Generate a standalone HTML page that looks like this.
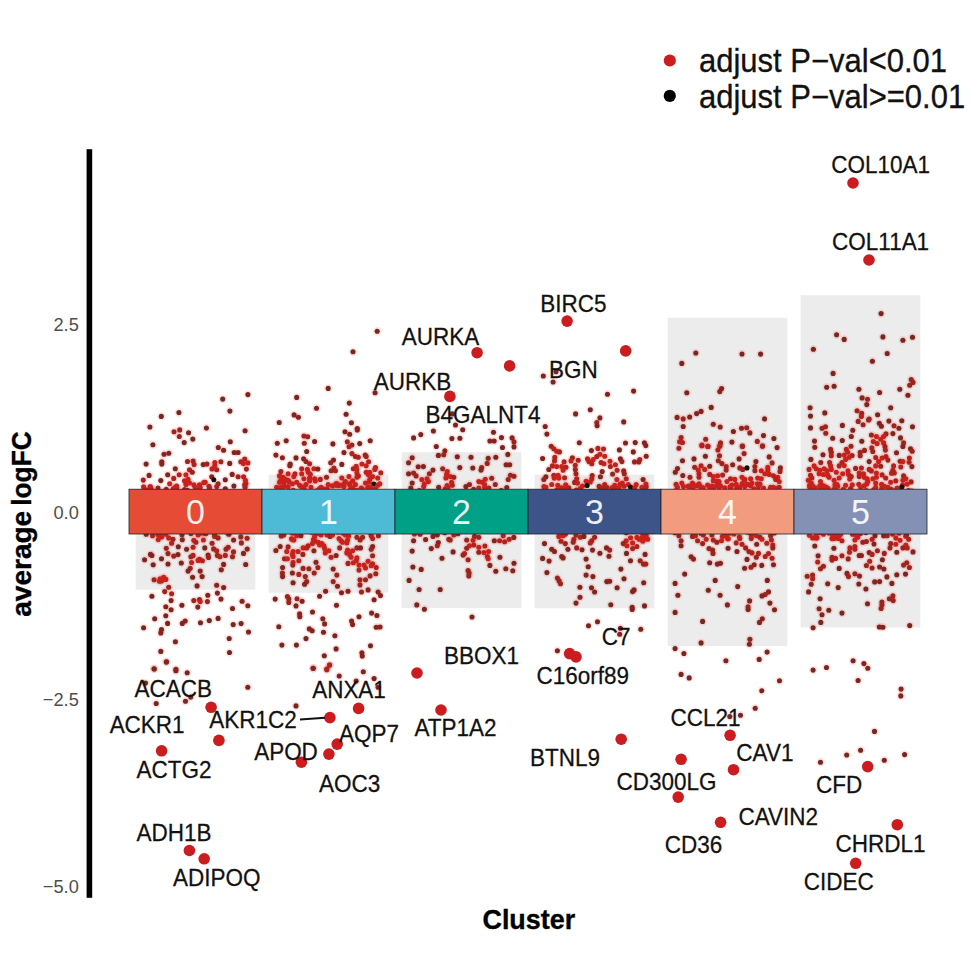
<!DOCTYPE html><html><head><meta charset="utf-8"><title>jjVolcano</title>
<style>html,body{margin:0;padding:0;background:#fff}svg{display:block}text{font-family:"Liberation Sans",sans-serif}</style></head><body>
<svg width="977" height="977" viewBox="0 0 977 977">
<rect width="977" height="977" fill="#fff"/>
<g fill="#ececec">
<rect x="135.7" y="489" width="119.6" height="100.7"/>
<rect x="268.7" y="474.5" width="119.6" height="118.2"/>
<rect x="401.7" y="452.2" width="119.6" height="155.9"/>
<rect x="534.7" y="474.7" width="119.6" height="133.5"/>
<rect x="667.7" y="317.8" width="119.6" height="328.2"/>
<rect x="800.7" y="295.2" width="119.6" height="332.2"/>
</g>
<g fill="#ee2a22" fill-opacity="0.13">
<circle cx="176.8" cy="487.8" r="4.2"/>
<circle cx="150.2" cy="486.5" r="4.2"/>
<circle cx="199.3" cy="490.3" r="4.2"/>
<circle cx="196.3" cy="490.2" r="4.2"/>
<circle cx="146.5" cy="489.8" r="4.2"/>
<circle cx="152.1" cy="490.6" r="4.2"/>
<circle cx="187.5" cy="490.2" r="4.2"/>
<circle cx="166.2" cy="489.4" r="4.2"/>
<circle cx="209.0" cy="486.2" r="4.2"/>
<circle cx="184.5" cy="489.5" r="4.2"/>
<circle cx="246.0" cy="483.6" r="4.2"/>
<circle cx="173.2" cy="488.9" r="4.2"/>
<circle cx="157.8" cy="534.5" r="4.2"/>
<circle cx="229.0" cy="534.3" r="4.2"/>
<circle cx="161.7" cy="537.0" r="4.2"/>
<circle cx="182.0" cy="534.8" r="4.2"/>
<circle cx="200.6" cy="533.3" r="4.2"/>
<circle cx="164.3" cy="532.5" r="4.2"/>
<circle cx="214.6" cy="535.1" r="4.2"/>
<circle cx="204.6" cy="533.5" r="4.2"/>
<circle cx="323.5" cy="489.0" r="4.2"/>
<circle cx="349.6" cy="484.4" r="4.2"/>
<circle cx="301.4" cy="486.8" r="4.2"/>
<circle cx="368.3" cy="489.0" r="4.2"/>
<circle cx="352.8" cy="488.6" r="4.2"/>
<circle cx="288.0" cy="480.3" r="4.2"/>
<circle cx="319.8" cy="491.1" r="4.2"/>
<circle cx="327.3" cy="488.9" r="4.2"/>
<circle cx="279.7" cy="487.9" r="4.2"/>
<circle cx="336.2" cy="485.3" r="4.2"/>
<circle cx="368.3" cy="488.8" r="4.2"/>
<circle cx="338.5" cy="485.5" r="4.2"/>
<circle cx="337.0" cy="483.8" r="4.2"/>
<circle cx="375.6" cy="489.1" r="4.2"/>
<circle cx="325.8" cy="490.5" r="4.2"/>
<circle cx="349.9" cy="490.0" r="4.2"/>
<circle cx="344.1" cy="483.8" r="4.2"/>
<circle cx="305.7" cy="490.9" r="4.2"/>
<circle cx="316.4" cy="490.8" r="4.2"/>
<circle cx="324.4" cy="490.5" r="4.2"/>
<circle cx="293.3" cy="490.2" r="4.2"/>
<circle cx="356.9" cy="490.3" r="4.2"/>
<circle cx="289.2" cy="491.1" r="4.2"/>
<circle cx="367.9" cy="487.2" r="4.2"/>
<circle cx="284.0" cy="486.4" r="4.2"/>
<circle cx="369.1" cy="489.6" r="4.2"/>
<circle cx="362.3" cy="489.1" r="4.2"/>
<circle cx="319.5" cy="488.8" r="4.2"/>
<circle cx="313.5" cy="539.5" r="4.2"/>
<circle cx="291.5" cy="538.7" r="4.2"/>
<circle cx="294.2" cy="532.3" r="4.2"/>
<circle cx="326.9" cy="534.9" r="4.2"/>
<circle cx="337.9" cy="532.0" r="4.2"/>
<circle cx="319.9" cy="532.4" r="4.2"/>
<circle cx="314.6" cy="541.0" r="4.2"/>
<circle cx="348.7" cy="536.0" r="4.2"/>
<circle cx="330.1" cy="536.4" r="4.2"/>
<circle cx="281.2" cy="536.0" r="4.2"/>
<circle cx="370.9" cy="533.5" r="4.2"/>
<circle cx="360.1" cy="540.0" r="4.2"/>
<circle cx="317.1" cy="533.5" r="4.2"/>
<circle cx="342.7" cy="533.1" r="4.2"/>
<circle cx="282.1" cy="534.5" r="4.2"/>
<circle cx="292.7" cy="533.1" r="4.2"/>
<circle cx="311.5" cy="532.1" r="4.2"/>
<circle cx="291.5" cy="532.0" r="4.2"/>
<circle cx="419.3" cy="490.6" r="4.2"/>
<circle cx="501.2" cy="490.5" r="4.2"/>
<circle cx="473.6" cy="489.4" r="4.2"/>
<circle cx="445.3" cy="488.7" r="4.2"/>
<circle cx="447.1" cy="485.6" r="4.2"/>
<circle cx="513.8" cy="537.4" r="4.2"/>
<circle cx="457.9" cy="533.7" r="4.2"/>
<circle cx="419.3" cy="532.2" r="4.2"/>
<circle cx="444.8" cy="532.7" r="4.2"/>
<circle cx="425.6" cy="539.5" r="4.2"/>
<circle cx="543.9" cy="486.5" r="4.2"/>
<circle cx="557.0" cy="489.7" r="4.2"/>
<circle cx="599.1" cy="486.4" r="4.2"/>
<circle cx="645.2" cy="490.4" r="4.2"/>
<circle cx="633.0" cy="490.2" r="4.2"/>
<circle cx="580.4" cy="488.3" r="4.2"/>
<circle cx="559.2" cy="490.5" r="4.2"/>
<circle cx="624.1" cy="486.3" r="4.2"/>
<circle cx="576.4" cy="490.0" r="4.2"/>
<circle cx="645.9" cy="484.0" r="4.2"/>
<circle cx="631.9" cy="488.7" r="4.2"/>
<circle cx="619.9" cy="484.3" r="4.2"/>
<circle cx="565.5" cy="487.5" r="4.2"/>
<circle cx="544.6" cy="490.8" r="4.2"/>
<circle cx="544.5" cy="490.6" r="4.2"/>
<circle cx="614.9" cy="488.2" r="4.2"/>
<circle cx="642.9" cy="540.9" r="4.2"/>
<circle cx="646.2" cy="535.1" r="4.2"/>
<circle cx="642.7" cy="533.9" r="4.2"/>
<circle cx="565.5" cy="534.1" r="4.2"/>
<circle cx="562.4" cy="533.6" r="4.2"/>
<circle cx="636.9" cy="537.4" r="4.2"/>
<circle cx="630.6" cy="537.8" r="4.2"/>
<circle cx="626.3" cy="532.7" r="4.2"/>
<circle cx="683.5" cy="486.5" r="4.2"/>
<circle cx="757.4" cy="483.8" r="4.2"/>
<circle cx="754.0" cy="488.7" r="4.2"/>
<circle cx="758.1" cy="490.9" r="4.2"/>
<circle cx="709.7" cy="487.8" r="4.2"/>
<circle cx="716.5" cy="481.1" r="4.2"/>
<circle cx="717.0" cy="485.1" r="4.2"/>
<circle cx="692.5" cy="489.1" r="4.2"/>
<circle cx="688.0" cy="486.2" r="4.2"/>
<circle cx="760.0" cy="484.1" r="4.2"/>
<circle cx="690.0" cy="486.0" r="4.2"/>
<circle cx="744.2" cy="481.3" r="4.2"/>
<circle cx="711.6" cy="489.2" r="4.2"/>
<circle cx="676.0" cy="490.6" r="4.2"/>
<circle cx="777.4" cy="488.3" r="4.2"/>
<circle cx="773.5" cy="487.2" r="4.2"/>
<circle cx="720.5" cy="486.0" r="4.2"/>
<circle cx="696.9" cy="485.8" r="4.2"/>
<circle cx="701.2" cy="490.4" r="4.2"/>
<circle cx="736.7" cy="488.3" r="4.2"/>
<circle cx="702.0" cy="489.3" r="4.2"/>
<circle cx="771.0" cy="490.2" r="4.2"/>
<circle cx="712.0" cy="486.1" r="4.2"/>
<circle cx="770.4" cy="489.8" r="4.2"/>
<circle cx="719.1" cy="487.1" r="4.2"/>
<circle cx="730.9" cy="488.9" r="4.2"/>
<circle cx="730.0" cy="486.9" r="4.2"/>
<circle cx="693.9" cy="490.7" r="4.2"/>
<circle cx="674.9" cy="532.7" r="4.2"/>
<circle cx="724.7" cy="534.3" r="4.2"/>
<circle cx="751.4" cy="535.3" r="4.2"/>
<circle cx="729.4" cy="533.2" r="4.2"/>
<circle cx="733.4" cy="532.4" r="4.2"/>
<circle cx="733.9" cy="533.9" r="4.2"/>
<circle cx="700.8" cy="533.2" r="4.2"/>
<circle cx="728.3" cy="538.8" r="4.2"/>
<circle cx="734.0" cy="532.6" r="4.2"/>
<circle cx="721.5" cy="540.8" r="4.2"/>
<circle cx="739.4" cy="536.8" r="4.2"/>
<circle cx="747.9" cy="532.2" r="4.2"/>
<circle cx="722.4" cy="536.5" r="4.2"/>
<circle cx="774.3" cy="532.9" r="4.2"/>
<circle cx="881.6" cy="484.4" r="4.2"/>
<circle cx="835.0" cy="484.5" r="4.2"/>
<circle cx="866.8" cy="484.0" r="4.2"/>
<circle cx="822.0" cy="488.5" r="4.2"/>
<circle cx="820.4" cy="489.7" r="4.2"/>
<circle cx="833.0" cy="490.6" r="4.2"/>
<circle cx="815.3" cy="487.8" r="4.2"/>
<circle cx="902.6" cy="485.1" r="4.2"/>
<circle cx="823.9" cy="490.0" r="4.2"/>
<circle cx="822.7" cy="485.5" r="4.2"/>
<circle cx="901.1" cy="488.4" r="4.2"/>
<circle cx="908.5" cy="490.6" r="4.2"/>
<circle cx="849.7" cy="479.1" r="4.2"/>
<circle cx="895.7" cy="490.2" r="4.2"/>
<circle cx="824.6" cy="486.8" r="4.2"/>
<circle cx="843.4" cy="489.2" r="4.2"/>
<circle cx="828.2" cy="488.5" r="4.2"/>
<circle cx="809.6" cy="485.4" r="4.2"/>
<circle cx="866.2" cy="490.5" r="4.2"/>
<circle cx="842.6" cy="490.9" r="4.2"/>
<circle cx="873.6" cy="489.7" r="4.2"/>
<circle cx="911.9" cy="491.1" r="4.2"/>
<circle cx="891.1" cy="489.3" r="4.2"/>
<circle cx="835.6" cy="490.9" r="4.2"/>
<circle cx="811.7" cy="490.6" r="4.2"/>
<circle cx="821.2" cy="488.1" r="4.2"/>
<circle cx="852.3" cy="484.9" r="4.2"/>
<circle cx="834.9" cy="487.3" r="4.2"/>
<circle cx="823.3" cy="486.7" r="4.2"/>
<circle cx="881.7" cy="488.7" r="4.2"/>
<circle cx="817.0" cy="537.7" r="4.2"/>
<circle cx="852.6" cy="534.2" r="4.2"/>
<circle cx="815.2" cy="537.3" r="4.2"/>
<circle cx="892.5" cy="534.1" r="4.2"/>
<circle cx="816.4" cy="532.9" r="4.2"/>
<circle cx="899.0" cy="533.2" r="4.2"/>
<circle cx="855.6" cy="534.7" r="4.2"/>
<circle cx="905.7" cy="536.3" r="4.2"/>
<circle cx="835.9" cy="535.4" r="4.2"/>
<circle cx="832.8" cy="535.6" r="4.2"/>
<circle cx="819.1" cy="532.7" r="4.2"/>
<circle cx="828.9" cy="533.1" r="4.2"/>
<circle cx="840.6" cy="534.3" r="4.2"/>
<circle cx="838.2" cy="538.4" r="4.2"/>
<circle cx="860.5" cy="533.6" r="4.2"/>
<circle cx="809.4" cy="535.3" r="4.2"/>
<circle cx="834.0" cy="538.5" r="4.2"/>
<circle cx="865.9" cy="532.6" r="4.2"/>
<circle cx="247.9" cy="394.6" r="4.2"/>
<circle cx="222.7" cy="399.1" r="4.2"/>
<circle cx="229.9" cy="411.1" r="4.2"/>
<circle cx="178.9" cy="412.6" r="4.2"/>
<circle cx="161.3" cy="416.4" r="4.2"/>
<circle cx="149.9" cy="427.0" r="4.2"/>
<circle cx="206.4" cy="428.0" r="4.2"/>
<circle cx="245.1" cy="430.8" r="4.2"/>
<circle cx="179.7" cy="429.9" r="4.2"/>
<circle cx="174.0" cy="431.8" r="4.2"/>
<circle cx="188.6" cy="432.8" r="4.2"/>
<circle cx="179.3" cy="436.5" r="4.2"/>
<circle cx="192.8" cy="439.1" r="4.2"/>
<circle cx="152.9" cy="444.7" r="4.2"/>
<circle cx="184.2" cy="442.6" r="4.2"/>
<circle cx="230.3" cy="441.7" r="4.2"/>
<circle cx="218.3" cy="447.5" r="4.2"/>
<circle cx="223.6" cy="450.3" r="4.2"/>
<circle cx="234.2" cy="452.5" r="4.2"/>
<circle cx="238.1" cy="452.5" r="4.2"/>
<circle cx="168.8" cy="453.3" r="4.2"/>
<circle cx="164.0" cy="454.3" r="4.2"/>
<circle cx="244.7" cy="459.1" r="4.2"/>
<circle cx="240.8" cy="461.8" r="4.2"/>
<circle cx="247.9" cy="462.9" r="4.2"/>
<circle cx="243.4" cy="463.6" r="4.2"/>
<circle cx="187.5" cy="461.5" r="4.2"/>
<circle cx="193.1" cy="461.1" r="4.2"/>
<circle cx="194.1" cy="464.6" r="4.2"/>
<circle cx="203.2" cy="464.6" r="4.2"/>
<circle cx="207.0" cy="464.1" r="4.2"/>
<circle cx="214.8" cy="462.5" r="4.2"/>
<circle cx="220.9" cy="461.8" r="4.2"/>
<circle cx="229.7" cy="463.4" r="4.2"/>
<circle cx="146.1" cy="464.1" r="4.2"/>
<circle cx="161.8" cy="461.8" r="4.2"/>
<circle cx="161.8" cy="464.1" r="4.2"/>
<circle cx="175.3" cy="468.7" r="4.2"/>
<circle cx="212.0" cy="468.9" r="4.2"/>
<circle cx="216.7" cy="469.7" r="4.2"/>
<circle cx="214.8" cy="465.8" r="4.2"/>
<circle cx="189.5" cy="469.7" r="4.2"/>
<circle cx="192.3" cy="472.2" r="4.2"/>
<circle cx="246.4" cy="469.1" r="4.2"/>
<circle cx="149.1" cy="475.4" r="4.2"/>
<circle cx="167.7" cy="474.8" r="4.2"/>
<circle cx="179.2" cy="474.8" r="4.2"/>
<circle cx="185.9" cy="474.7" r="4.2"/>
<circle cx="232.2" cy="474.4" r="4.2"/>
<circle cx="238.1" cy="476.8" r="4.2"/>
<circle cx="243.6" cy="476.8" r="4.2"/>
<circle cx="211.7" cy="476.8" r="4.2"/>
<circle cx="225.3" cy="479.8" r="4.2"/>
<circle cx="245.4" cy="480.4" r="4.2"/>
<circle cx="143.3" cy="480.1" r="4.2"/>
<circle cx="160.8" cy="480.6" r="4.2"/>
<circle cx="173.7" cy="478.4" r="4.2"/>
<circle cx="169.7" cy="483.7" r="4.2"/>
<circle cx="184.5" cy="480.8" r="4.2"/>
<circle cx="188.1" cy="479.4" r="4.2"/>
<circle cx="189.5" cy="483.0" r="4.2"/>
<circle cx="193.8" cy="484.7" r="4.2"/>
<circle cx="199.5" cy="484.7" r="4.2"/>
<circle cx="203.8" cy="482.6" r="4.2"/>
<circle cx="205.2" cy="482.3" r="4.2"/>
<circle cx="218.1" cy="483.7" r="4.2"/>
<circle cx="216.7" cy="486.6" r="4.2"/>
<circle cx="233.9" cy="486.1" r="4.2"/>
<circle cx="244.7" cy="484.7" r="4.2"/>
<circle cx="245.1" cy="487.3" r="4.2"/>
<circle cx="143.6" cy="486.9" r="4.2"/>
<circle cx="150.8" cy="488.0" r="4.2"/>
<circle cx="158.0" cy="488.0" r="4.2"/>
<circle cx="176.6" cy="486.1" r="4.2"/>
<circle cx="175.2" cy="487.3" r="4.2"/>
<circle cx="185.9" cy="484.4" r="4.2"/>
<circle cx="209.5" cy="488.0" r="4.2"/>
<circle cx="225.3" cy="488.7" r="4.2"/>
<circle cx="195.2" cy="487.3" r="4.2"/>
<circle cx="200.2" cy="487.3" r="4.2"/>
<circle cx="146.2" cy="534.3" r="4.2"/>
<circle cx="152.5" cy="535.7" r="4.2"/>
<circle cx="160.1" cy="534.7" r="4.2"/>
<circle cx="165.8" cy="534.3" r="4.2"/>
<circle cx="190.9" cy="533.6" r="4.2"/>
<circle cx="198.1" cy="535.0" r="4.2"/>
<circle cx="206.0" cy="533.6" r="4.2"/>
<circle cx="214.6" cy="536.4" r="4.2"/>
<circle cx="218.1" cy="537.9" r="4.2"/>
<circle cx="228.2" cy="533.6" r="4.2"/>
<circle cx="240.8" cy="536.9" r="4.2"/>
<circle cx="247.1" cy="538.2" r="4.2"/>
<circle cx="158.2" cy="539.6" r="4.2"/>
<circle cx="168.7" cy="537.9" r="4.2"/>
<circle cx="173.0" cy="539.3" r="4.2"/>
<circle cx="171.6" cy="543.2" r="4.2"/>
<circle cx="182.3" cy="539.7" r="4.2"/>
<circle cx="193.8" cy="540.3" r="4.2"/>
<circle cx="195.9" cy="542.2" r="4.2"/>
<circle cx="203.4" cy="540.0" r="4.2"/>
<circle cx="212.1" cy="543.2" r="4.2"/>
<circle cx="233.6" cy="540.0" r="4.2"/>
<circle cx="241.4" cy="542.9" r="4.2"/>
<circle cx="166.3" cy="548.2" r="4.2"/>
<circle cx="178.3" cy="546.8" r="4.2"/>
<circle cx="186.6" cy="549.3" r="4.2"/>
<circle cx="193.1" cy="547.2" r="4.2"/>
<circle cx="204.8" cy="547.9" r="4.2"/>
<circle cx="213.6" cy="548.9" r="4.2"/>
<circle cx="216.7" cy="550.8" r="4.2"/>
<circle cx="226.0" cy="549.3" r="4.2"/>
<circle cx="228.2" cy="547.2" r="4.2"/>
<circle cx="233.5" cy="551.9" r="4.2"/>
<circle cx="247.2" cy="549.1" r="4.2"/>
<circle cx="150.5" cy="554.4" r="4.2"/>
<circle cx="151.9" cy="555.5" r="4.2"/>
<circle cx="168.0" cy="553.6" r="4.2"/>
<circle cx="173.7" cy="556.1" r="4.2"/>
<circle cx="178.0" cy="554.6" r="4.2"/>
<circle cx="190.9" cy="556.8" r="4.2"/>
<circle cx="193.1" cy="555.4" r="4.2"/>
<circle cx="208.1" cy="555.1" r="4.2"/>
<circle cx="208.5" cy="557.5" r="4.2"/>
<circle cx="217.4" cy="555.4" r="4.2"/>
<circle cx="220.0" cy="556.8" r="4.2"/>
<circle cx="225.3" cy="555.4" r="4.2"/>
<circle cx="232.5" cy="556.8" r="4.2"/>
<circle cx="243.5" cy="553.4" r="4.2"/>
<circle cx="161.5" cy="558.7" r="4.2"/>
<circle cx="144.6" cy="559.8" r="4.2"/>
<circle cx="199.5" cy="559.4" r="4.2"/>
<circle cx="202.4" cy="560.8" r="4.2"/>
<circle cx="198.1" cy="560.4" r="4.2"/>
<circle cx="153.2" cy="564.8" r="4.2"/>
<circle cx="168.0" cy="564.0" r="4.2"/>
<circle cx="181.3" cy="563.0" r="4.2"/>
<circle cx="191.6" cy="562.5" r="4.2"/>
<circle cx="223.6" cy="564.4" r="4.2"/>
<circle cx="245.7" cy="564.5" r="4.2"/>
<circle cx="190.2" cy="568.3" r="4.2"/>
<circle cx="188.1" cy="571.1" r="4.2"/>
<circle cx="200.2" cy="571.1" r="4.2"/>
<circle cx="221.3" cy="569.7" r="4.2"/>
<circle cx="192.6" cy="577.3" r="4.2"/>
<circle cx="202.1" cy="576.6" r="4.2"/>
<circle cx="154.1" cy="579.7" r="4.2"/>
<circle cx="160.1" cy="578.7" r="4.2"/>
<circle cx="163.7" cy="577.3" r="4.2"/>
<circle cx="165.8" cy="579.4" r="4.2"/>
<circle cx="161.5" cy="580.9" r="4.2"/>
<circle cx="159.4" cy="581.3" r="4.2"/>
<circle cx="197.1" cy="585.9" r="4.2"/>
<circle cx="216.7" cy="585.2" r="4.2"/>
<circle cx="223.6" cy="587.6" r="4.2"/>
<circle cx="168.7" cy="587.3" r="4.2"/>
<circle cx="164.7" cy="591.6" r="4.2"/>
<circle cx="171.6" cy="593.8" r="4.2"/>
<circle cx="217.4" cy="593.1" r="4.2"/>
<circle cx="151.9" cy="596.3" r="4.2"/>
<circle cx="207.8" cy="595.2" r="4.2"/>
<circle cx="171.1" cy="600.6" r="4.2"/>
<circle cx="193.8" cy="600.6" r="4.2"/>
<circle cx="199.5" cy="599.5" r="4.2"/>
<circle cx="200.2" cy="601.6" r="4.2"/>
<circle cx="207.4" cy="601.6" r="4.2"/>
<circle cx="221.0" cy="599.1" r="4.2"/>
<circle cx="242.1" cy="601.2" r="4.2"/>
<circle cx="165.8" cy="606.7" r="4.2"/>
<circle cx="181.9" cy="605.2" r="4.2"/>
<circle cx="197.8" cy="607.1" r="4.2"/>
<circle cx="247.8" cy="605.7" r="4.2"/>
<circle cx="232.5" cy="608.5" r="4.2"/>
<circle cx="171.1" cy="609.8" r="4.2"/>
<circle cx="165.8" cy="615.7" r="4.2"/>
<circle cx="154.7" cy="618.8" r="4.2"/>
<circle cx="218.1" cy="618.4" r="4.2"/>
<circle cx="167.6" cy="623.4" r="4.2"/>
<circle cx="209.3" cy="620.6" r="4.2"/>
<circle cx="200.5" cy="622.7" r="4.2"/>
<circle cx="185.2" cy="621.0" r="4.2"/>
<circle cx="182.3" cy="623.4" r="4.2"/>
<circle cx="233.2" cy="624.6" r="4.2"/>
<circle cx="241.1" cy="623.6" r="4.2"/>
<circle cx="143.6" cy="627.7" r="4.2"/>
<circle cx="161.5" cy="629.6" r="4.2"/>
<circle cx="160.8" cy="632.9" r="4.2"/>
<circle cx="248.5" cy="632.0" r="4.2"/>
<circle cx="229.2" cy="638.5" r="4.2"/>
<circle cx="175.4" cy="641.8" r="4.2"/>
<circle cx="160.8" cy="651.4" r="4.2"/>
<circle cx="229.5" cy="652.5" r="4.2"/>
<circle cx="166.6" cy="661.8" r="4.2"/>
<circle cx="154.1" cy="668.7" r="4.2"/>
<circle cx="175.9" cy="669.3" r="4.2"/>
<circle cx="166.3" cy="662.1" r="4.2"/>
<circle cx="154.2" cy="669.0" r="4.2"/>
<circle cx="175.9" cy="670.8" r="4.2"/>
<circle cx="187.2" cy="672.7" r="4.2"/>
<circle cx="145.5" cy="683.1" r="4.2"/>
<circle cx="247.8" cy="687.3" r="4.2"/>
<circle cx="190.7" cy="697.1" r="4.2"/>
<circle cx="185.5" cy="701.2" r="4.2"/>
<circle cx="156.2" cy="703.5" r="4.2"/>
<circle cx="377.2" cy="331.2" r="4.2"/>
<circle cx="353.0" cy="351.8" r="4.2"/>
<circle cx="328.2" cy="388.4" r="4.2"/>
<circle cx="375.1" cy="392.8" r="4.2"/>
<circle cx="296.7" cy="397.4" r="4.2"/>
<circle cx="349.3" cy="403.1" r="4.2"/>
<circle cx="316.5" cy="408.2" r="4.2"/>
<circle cx="346.1" cy="414.2" r="4.2"/>
<circle cx="294.1" cy="414.9" r="4.2"/>
<circle cx="298.4" cy="417.2" r="4.2"/>
<circle cx="279.2" cy="422.5" r="4.2"/>
<circle cx="351.4" cy="422.8" r="4.2"/>
<circle cx="357.3" cy="428.6" r="4.2"/>
<circle cx="345.0" cy="431.7" r="4.2"/>
<circle cx="349.7" cy="434.3" r="4.2"/>
<circle cx="357.3" cy="430.0" r="4.2"/>
<circle cx="303.9" cy="436.0" r="4.2"/>
<circle cx="307.7" cy="436.7" r="4.2"/>
<circle cx="286.2" cy="440.7" r="4.2"/>
<circle cx="314.6" cy="441.5" r="4.2"/>
<circle cx="370.2" cy="440.7" r="4.2"/>
<circle cx="277.3" cy="443.3" r="4.2"/>
<circle cx="304.3" cy="443.3" r="4.2"/>
<circle cx="332.9" cy="443.9" r="4.2"/>
<circle cx="347.3" cy="441.8" r="4.2"/>
<circle cx="359.7" cy="443.6" r="4.2"/>
<circle cx="351.9" cy="445.0" r="4.2"/>
<circle cx="349.0" cy="446.8" r="4.2"/>
<circle cx="306.7" cy="451.5" r="4.2"/>
<circle cx="344.0" cy="452.6" r="4.2"/>
<circle cx="351.9" cy="453.6" r="4.2"/>
<circle cx="275.9" cy="455.1" r="4.2"/>
<circle cx="282.4" cy="457.7" r="4.2"/>
<circle cx="296.0" cy="457.9" r="4.2"/>
<circle cx="303.6" cy="458.7" r="4.2"/>
<circle cx="355.4" cy="456.5" r="4.2"/>
<circle cx="358.3" cy="457.2" r="4.2"/>
<circle cx="365.2" cy="455.1" r="4.2"/>
<circle cx="366.2" cy="456.5" r="4.2"/>
<circle cx="333.5" cy="460.1" r="4.2"/>
<circle cx="330.7" cy="462.7" r="4.2"/>
<circle cx="306.0" cy="461.5" r="4.2"/>
<circle cx="309.6" cy="463.7" r="4.2"/>
<circle cx="290.2" cy="464.0" r="4.2"/>
<circle cx="289.8" cy="465.8" r="4.2"/>
<circle cx="341.8" cy="464.4" r="4.2"/>
<circle cx="368.6" cy="461.8" r="4.2"/>
<circle cx="361.9" cy="464.0" r="4.2"/>
<circle cx="366.2" cy="465.8" r="4.2"/>
<circle cx="356.2" cy="466.3" r="4.2"/>
<circle cx="301.7" cy="468.7" r="4.2"/>
<circle cx="307.4" cy="469.4" r="4.2"/>
<circle cx="313.9" cy="468.7" r="4.2"/>
<circle cx="317.9" cy="469.0" r="4.2"/>
<circle cx="333.9" cy="468.0" r="4.2"/>
<circle cx="331.1" cy="470.8" r="4.2"/>
<circle cx="335.4" cy="470.8" r="4.2"/>
<circle cx="353.3" cy="468.7" r="4.2"/>
<circle cx="356.9" cy="469.4" r="4.2"/>
<circle cx="375.5" cy="467.5" r="4.2"/>
<circle cx="374.8" cy="469.4" r="4.2"/>
<circle cx="280.9" cy="471.6" r="4.2"/>
<circle cx="288.1" cy="473.7" r="4.2"/>
<circle cx="295.0" cy="473.7" r="4.2"/>
<circle cx="301.7" cy="473.7" r="4.2"/>
<circle cx="308.2" cy="472.3" r="4.2"/>
<circle cx="310.3" cy="474.4" r="4.2"/>
<circle cx="366.2" cy="472.3" r="4.2"/>
<circle cx="369.8" cy="472.3" r="4.2"/>
<circle cx="368.3" cy="474.4" r="4.2"/>
<circle cx="380.8" cy="472.7" r="4.2"/>
<circle cx="356.9" cy="473.0" r="4.2"/>
<circle cx="279.5" cy="475.9" r="4.2"/>
<circle cx="283.1" cy="477.3" r="4.2"/>
<circle cx="285.2" cy="479.4" r="4.2"/>
<circle cx="293.8" cy="476.6" r="4.2"/>
<circle cx="303.9" cy="478.7" r="4.2"/>
<circle cx="309.6" cy="478.0" r="4.2"/>
<circle cx="314.6" cy="478.7" r="4.2"/>
<circle cx="320.3" cy="479.4" r="4.2"/>
<circle cx="326.5" cy="477.3" r="4.2"/>
<circle cx="341.8" cy="478.0" r="4.2"/>
<circle cx="349.0" cy="476.6" r="4.2"/>
<circle cx="356.9" cy="477.3" r="4.2"/>
<circle cx="358.3" cy="475.9" r="4.2"/>
<circle cx="372.6" cy="476.6" r="4.2"/>
<circle cx="377.7" cy="478.0" r="4.2"/>
<circle cx="369.8" cy="479.4" r="4.2"/>
<circle cx="280.9" cy="480.2" r="4.2"/>
<circle cx="279.5" cy="482.3" r="4.2"/>
<circle cx="283.8" cy="483.0" r="4.2"/>
<circle cx="288.8" cy="481.6" r="4.2"/>
<circle cx="292.4" cy="483.7" r="4.2"/>
<circle cx="296.7" cy="482.3" r="4.2"/>
<circle cx="299.6" cy="485.2" r="4.2"/>
<circle cx="306.0" cy="484.5" r="4.2"/>
<circle cx="309.6" cy="480.9" r="4.2"/>
<circle cx="315.3" cy="480.9" r="4.2"/>
<circle cx="328.2" cy="484.5" r="4.2"/>
<circle cx="332.5" cy="485.9" r="4.2"/>
<circle cx="336.1" cy="483.7" r="4.2"/>
<circle cx="340.4" cy="485.2" r="4.2"/>
<circle cx="345.4" cy="481.6" r="4.2"/>
<circle cx="349.7" cy="483.7" r="4.2"/>
<circle cx="352.6" cy="480.9" r="4.2"/>
<circle cx="355.4" cy="484.5" r="4.2"/>
<circle cx="365.5" cy="483.0" r="4.2"/>
<circle cx="369.1" cy="482.3" r="4.2"/>
<circle cx="377.7" cy="485.2" r="4.2"/>
<circle cx="379.8" cy="483.7" r="4.2"/>
<circle cx="276.6" cy="487.3" r="4.2"/>
<circle cx="281.6" cy="487.3" r="4.2"/>
<circle cx="288.1" cy="486.6" r="4.2"/>
<circle cx="303.9" cy="487.3" r="4.2"/>
<circle cx="311.0" cy="487.3" r="4.2"/>
<circle cx="321.1" cy="487.3" r="4.2"/>
<circle cx="344.0" cy="486.6" r="4.2"/>
<circle cx="351.1" cy="487.3" r="4.2"/>
<circle cx="361.2" cy="488.0" r="4.2"/>
<circle cx="371.2" cy="487.3" r="4.2"/>
<circle cx="283.8" cy="535.0" r="4.2"/>
<circle cx="296.7" cy="535.7" r="4.2"/>
<circle cx="301.0" cy="535.7" r="4.2"/>
<circle cx="314.6" cy="536.4" r="4.2"/>
<circle cx="321.1" cy="535.0" r="4.2"/>
<circle cx="332.5" cy="535.0" r="4.2"/>
<circle cx="345.4" cy="535.0" r="4.2"/>
<circle cx="356.9" cy="537.2" r="4.2"/>
<circle cx="362.6" cy="537.2" r="4.2"/>
<circle cx="371.2" cy="535.7" r="4.2"/>
<circle cx="378.4" cy="535.7" r="4.2"/>
<circle cx="292.4" cy="539.3" r="4.2"/>
<circle cx="293.8" cy="540.0" r="4.2"/>
<circle cx="339.0" cy="538.6" r="4.2"/>
<circle cx="341.1" cy="540.7" r="4.2"/>
<circle cx="347.6" cy="540.0" r="4.2"/>
<circle cx="372.6" cy="538.6" r="4.2"/>
<circle cx="314.6" cy="540.7" r="4.2"/>
<circle cx="318.2" cy="542.2" r="4.2"/>
<circle cx="321.8" cy="543.6" r="4.2"/>
<circle cx="323.9" cy="545.8" r="4.2"/>
<circle cx="319.6" cy="545.0" r="4.2"/>
<circle cx="312.5" cy="543.6" r="4.2"/>
<circle cx="308.2" cy="545.8" r="4.2"/>
<circle cx="280.2" cy="546.5" r="4.2"/>
<circle cx="288.1" cy="546.9" r="4.2"/>
<circle cx="346.8" cy="542.9" r="4.2"/>
<circle cx="342.5" cy="542.2" r="4.2"/>
<circle cx="303.1" cy="547.9" r="4.2"/>
<circle cx="306.7" cy="547.9" r="4.2"/>
<circle cx="339.7" cy="547.9" r="4.2"/>
<circle cx="356.9" cy="547.9" r="4.2"/>
<circle cx="360.5" cy="547.9" r="4.2"/>
<circle cx="372.6" cy="546.5" r="4.2"/>
<circle cx="371.2" cy="549.3" r="4.2"/>
<circle cx="275.9" cy="550.5" r="4.2"/>
<circle cx="286.7" cy="551.5" r="4.2"/>
<circle cx="293.1" cy="551.5" r="4.2"/>
<circle cx="298.1" cy="551.5" r="4.2"/>
<circle cx="313.9" cy="550.8" r="4.2"/>
<circle cx="324.6" cy="548.6" r="4.2"/>
<circle cx="328.9" cy="550.8" r="4.2"/>
<circle cx="325.3" cy="552.9" r="4.2"/>
<circle cx="347.6" cy="550.1" r="4.2"/>
<circle cx="352.6" cy="550.8" r="4.2"/>
<circle cx="346.8" cy="552.9" r="4.2"/>
<circle cx="349.7" cy="554.4" r="4.2"/>
<circle cx="292.4" cy="554.4" r="4.2"/>
<circle cx="293.1" cy="556.5" r="4.2"/>
<circle cx="302.9" cy="554.4" r="4.2"/>
<circle cx="336.1" cy="555.5" r="4.2"/>
<circle cx="331.1" cy="557.2" r="4.2"/>
<circle cx="372.6" cy="555.8" r="4.2"/>
<circle cx="284.5" cy="558.7" r="4.2"/>
<circle cx="287.4" cy="558.7" r="4.2"/>
<circle cx="351.1" cy="557.2" r="4.2"/>
<circle cx="356.9" cy="557.9" r="4.2"/>
<circle cx="356.2" cy="560.8" r="4.2"/>
<circle cx="298.8" cy="560.8" r="4.2"/>
<circle cx="293.1" cy="562.2" r="4.2"/>
<circle cx="292.8" cy="565.1" r="4.2"/>
<circle cx="316.0" cy="562.2" r="4.2"/>
<circle cx="348.0" cy="563.4" r="4.2"/>
<circle cx="353.3" cy="562.7" r="4.2"/>
<circle cx="368.1" cy="561.2" r="4.2"/>
<circle cx="372.6" cy="563.7" r="4.2"/>
<circle cx="359.0" cy="565.1" r="4.2"/>
<circle cx="364.0" cy="565.1" r="4.2"/>
<circle cx="371.2" cy="565.8" r="4.2"/>
<circle cx="376.2" cy="567.5" r="4.2"/>
<circle cx="282.6" cy="567.5" r="4.2"/>
<circle cx="303.1" cy="568.4" r="4.2"/>
<circle cx="308.9" cy="568.7" r="4.2"/>
<circle cx="317.9" cy="567.5" r="4.2"/>
<circle cx="333.2" cy="569.0" r="4.2"/>
<circle cx="359.0" cy="570.1" r="4.2"/>
<circle cx="365.5" cy="568.0" r="4.2"/>
<circle cx="282.4" cy="573.0" r="4.2"/>
<circle cx="292.4" cy="573.0" r="4.2"/>
<circle cx="298.8" cy="574.4" r="4.2"/>
<circle cx="314.2" cy="573.0" r="4.2"/>
<circle cx="375.8" cy="573.7" r="4.2"/>
<circle cx="336.8" cy="575.1" r="4.2"/>
<circle cx="305.3" cy="576.6" r="4.2"/>
<circle cx="282.6" cy="576.6" r="4.2"/>
<circle cx="370.1" cy="575.9" r="4.2"/>
<circle cx="360.0" cy="579.7" r="4.2"/>
<circle cx="365.5" cy="579.7" r="4.2"/>
<circle cx="293.1" cy="582.7" r="4.2"/>
<circle cx="306.7" cy="581.6" r="4.2"/>
<circle cx="304.6" cy="584.2" r="4.2"/>
<circle cx="333.2" cy="581.6" r="4.2"/>
<circle cx="360.0" cy="584.9" r="4.2"/>
<circle cx="337.5" cy="586.3" r="4.2"/>
<circle cx="325.6" cy="591.2" r="4.2"/>
<circle cx="348.0" cy="591.3" r="4.2"/>
<circle cx="341.5" cy="592.8" r="4.2"/>
<circle cx="361.5" cy="592.0" r="4.2"/>
<circle cx="368.1" cy="589.9" r="4.2"/>
<circle cx="378.1" cy="592.0" r="4.2"/>
<circle cx="380.5" cy="595.6" r="4.2"/>
<circle cx="319.6" cy="596.2" r="4.2"/>
<circle cx="287.4" cy="596.6" r="4.2"/>
<circle cx="288.8" cy="598.8" r="4.2"/>
<circle cx="275.2" cy="599.1" r="4.2"/>
<circle cx="297.0" cy="598.8" r="4.2"/>
<circle cx="302.1" cy="601.2" r="4.2"/>
<circle cx="288.8" cy="602.4" r="4.2"/>
<circle cx="374.1" cy="599.8" r="4.2"/>
<circle cx="296.0" cy="605.9" r="4.2"/>
<circle cx="336.5" cy="605.2" r="4.2"/>
<circle cx="312.5" cy="612.0" r="4.2"/>
<circle cx="299.6" cy="613.8" r="4.2"/>
<circle cx="299.8" cy="616.7" r="4.2"/>
<circle cx="371.6" cy="613.1" r="4.2"/>
<circle cx="376.9" cy="615.5" r="4.2"/>
<circle cx="359.0" cy="616.7" r="4.2"/>
<circle cx="322.8" cy="618.8" r="4.2"/>
<circle cx="324.6" cy="623.9" r="4.2"/>
<circle cx="351.6" cy="621.0" r="4.2"/>
<circle cx="352.6" cy="624.6" r="4.2"/>
<circle cx="278.8" cy="626.7" r="4.2"/>
<circle cx="376.2" cy="627.2" r="4.2"/>
<circle cx="380.1" cy="627.0" r="4.2"/>
<circle cx="309.3" cy="628.9" r="4.2"/>
<circle cx="312.2" cy="630.7" r="4.2"/>
<circle cx="323.5" cy="632.2" r="4.2"/>
<circle cx="334.9" cy="635.8" r="4.2"/>
<circle cx="306.0" cy="638.6" r="4.2"/>
<circle cx="281.9" cy="645.1" r="4.2"/>
<circle cx="296.4" cy="645.1" r="4.2"/>
<circle cx="370.5" cy="645.8" r="4.2"/>
<circle cx="336.1" cy="648.9" r="4.2"/>
<circle cx="361.9" cy="652.8" r="4.2"/>
<circle cx="362.3" cy="656.1" r="4.2"/>
<circle cx="324.3" cy="655.8" r="4.2"/>
<circle cx="329.6" cy="665.1" r="4.2"/>
<circle cx="313.2" cy="668.3" r="4.2"/>
<circle cx="326.8" cy="669.0" r="4.2"/>
<circle cx="313.2" cy="668.3" r="4.2"/>
<circle cx="329.6" cy="665.0" r="4.2"/>
<circle cx="326.8" cy="669.7" r="4.2"/>
<circle cx="339.2" cy="676.0" r="4.2"/>
<circle cx="363.3" cy="671.8" r="4.2"/>
<circle cx="374.1" cy="678.6" r="4.2"/>
<circle cx="356.2" cy="681.1" r="4.2"/>
<circle cx="378.1" cy="687.2" r="4.2"/>
<circle cx="296.0" cy="705.9" r="4.2"/>
<circle cx="452.3" cy="413.9" r="4.2"/>
<circle cx="455.5" cy="425.0" r="4.2"/>
<circle cx="462.7" cy="429.7" r="4.2"/>
<circle cx="433.4" cy="431.0" r="4.2"/>
<circle cx="493.5" cy="432.2" r="4.2"/>
<circle cx="420.8" cy="434.6" r="4.2"/>
<circle cx="413.6" cy="437.9" r="4.2"/>
<circle cx="451.9" cy="438.6" r="4.2"/>
<circle cx="459.9" cy="438.3" r="4.2"/>
<circle cx="501.5" cy="437.6" r="4.2"/>
<circle cx="512.1" cy="437.9" r="4.2"/>
<circle cx="489.9" cy="441.0" r="4.2"/>
<circle cx="494.2" cy="441.0" r="4.2"/>
<circle cx="514.0" cy="441.9" r="4.2"/>
<circle cx="436.3" cy="446.5" r="4.2"/>
<circle cx="502.5" cy="447.5" r="4.2"/>
<circle cx="514.0" cy="446.9" r="4.2"/>
<circle cx="444.9" cy="450.8" r="4.2"/>
<circle cx="443.7" cy="454.8" r="4.2"/>
<circle cx="438.4" cy="455.4" r="4.2"/>
<circle cx="507.9" cy="454.4" r="4.2"/>
<circle cx="412.2" cy="457.7" r="4.2"/>
<circle cx="457.3" cy="456.8" r="4.2"/>
<circle cx="471.0" cy="457.2" r="4.2"/>
<circle cx="488.2" cy="458.2" r="4.2"/>
<circle cx="495.8" cy="457.2" r="4.2"/>
<circle cx="408.6" cy="462.7" r="4.2"/>
<circle cx="487.2" cy="463.4" r="4.2"/>
<circle cx="506.1" cy="464.7" r="4.2"/>
<circle cx="509.7" cy="464.8" r="4.2"/>
<circle cx="418.2" cy="466.8" r="4.2"/>
<circle cx="423.4" cy="466.6" r="4.2"/>
<circle cx="459.8" cy="467.6" r="4.2"/>
<circle cx="472.8" cy="468.0" r="4.2"/>
<circle cx="481.7" cy="467.6" r="4.2"/>
<circle cx="481.0" cy="470.1" r="4.2"/>
<circle cx="442.7" cy="468.7" r="4.2"/>
<circle cx="433.0" cy="470.1" r="4.2"/>
<circle cx="447.3" cy="471.6" r="4.2"/>
<circle cx="408.6" cy="473.7" r="4.2"/>
<circle cx="413.6" cy="473.0" r="4.2"/>
<circle cx="416.1" cy="475.9" r="4.2"/>
<circle cx="429.4" cy="473.7" r="4.2"/>
<circle cx="446.6" cy="474.4" r="4.2"/>
<circle cx="450.2" cy="476.6" r="4.2"/>
<circle cx="453.8" cy="477.3" r="4.2"/>
<circle cx="445.9" cy="478.0" r="4.2"/>
<circle cx="510.4" cy="475.2" r="4.2"/>
<circle cx="514.0" cy="476.3" r="4.2"/>
<circle cx="421.8" cy="479.5" r="4.2"/>
<circle cx="427.0" cy="478.7" r="4.2"/>
<circle cx="428.4" cy="481.6" r="4.2"/>
<circle cx="424.4" cy="483.8" r="4.2"/>
<circle cx="412.2" cy="483.0" r="4.2"/>
<circle cx="451.6" cy="482.3" r="4.2"/>
<circle cx="452.3" cy="485.2" r="4.2"/>
<circle cx="491.7" cy="478.3" r="4.2"/>
<circle cx="485.3" cy="479.2" r="4.2"/>
<circle cx="478.8" cy="481.6" r="4.2"/>
<circle cx="482.4" cy="482.3" r="4.2"/>
<circle cx="484.6" cy="484.5" r="4.2"/>
<circle cx="508.2" cy="479.5" r="4.2"/>
<circle cx="495.3" cy="484.5" r="4.2"/>
<circle cx="469.5" cy="484.5" r="4.2"/>
<circle cx="465.9" cy="486.6" r="4.2"/>
<circle cx="438.7" cy="487.3" r="4.2"/>
<circle cx="448.0" cy="487.6" r="4.2"/>
<circle cx="410.8" cy="488.1" r="4.2"/>
<circle cx="423.7" cy="486.6" r="4.2"/>
<circle cx="478.8" cy="488.1" r="4.2"/>
<circle cx="484.6" cy="487.6" r="4.2"/>
<circle cx="488.9" cy="488.1" r="4.2"/>
<circle cx="506.8" cy="487.6" r="4.2"/>
<circle cx="414.4" cy="534.0" r="4.2"/>
<circle cx="420.1" cy="534.3" r="4.2"/>
<circle cx="433.0" cy="536.4" r="4.2"/>
<circle cx="437.3" cy="535.0" r="4.2"/>
<circle cx="453.8" cy="535.0" r="4.2"/>
<circle cx="474.5" cy="536.4" r="4.2"/>
<circle cx="478.8" cy="537.2" r="4.2"/>
<circle cx="503.2" cy="535.7" r="4.2"/>
<circle cx="413.6" cy="540.7" r="4.2"/>
<circle cx="448.8" cy="539.3" r="4.2"/>
<circle cx="450.2" cy="540.0" r="4.2"/>
<circle cx="466.7" cy="540.0" r="4.2"/>
<circle cx="473.1" cy="540.3" r="4.2"/>
<circle cx="494.3" cy="540.7" r="4.2"/>
<circle cx="499.6" cy="540.7" r="4.2"/>
<circle cx="504.6" cy="541.8" r="4.2"/>
<circle cx="509.2" cy="539.3" r="4.2"/>
<circle cx="438.3" cy="542.6" r="4.2"/>
<circle cx="437.3" cy="545.8" r="4.2"/>
<circle cx="431.3" cy="548.6" r="4.2"/>
<circle cx="469.5" cy="545.8" r="4.2"/>
<circle cx="473.8" cy="545.0" r="4.2"/>
<circle cx="478.8" cy="547.2" r="4.2"/>
<circle cx="484.9" cy="546.0" r="4.2"/>
<circle cx="466.7" cy="548.2" r="4.2"/>
<circle cx="412.2" cy="551.1" r="4.2"/>
<circle cx="453.1" cy="551.9" r="4.2"/>
<circle cx="464.5" cy="553.6" r="4.2"/>
<circle cx="463.1" cy="555.1" r="4.2"/>
<circle cx="478.8" cy="552.2" r="4.2"/>
<circle cx="483.9" cy="552.6" r="4.2"/>
<circle cx="488.6" cy="551.5" r="4.2"/>
<circle cx="487.4" cy="556.5" r="4.2"/>
<circle cx="488.2" cy="558.7" r="4.2"/>
<circle cx="442.0" cy="558.2" r="4.2"/>
<circle cx="468.1" cy="559.7" r="4.2"/>
<circle cx="499.9" cy="557.2" r="4.2"/>
<circle cx="514.0" cy="563.2" r="4.2"/>
<circle cx="489.9" cy="565.4" r="4.2"/>
<circle cx="412.9" cy="567.0" r="4.2"/>
<circle cx="421.2" cy="569.4" r="4.2"/>
<circle cx="505.8" cy="568.7" r="4.2"/>
<circle cx="512.8" cy="570.8" r="4.2"/>
<circle cx="495.8" cy="571.3" r="4.2"/>
<circle cx="468.1" cy="570.6" r="4.2"/>
<circle cx="469.1" cy="573.0" r="4.2"/>
<circle cx="468.8" cy="575.9" r="4.2"/>
<circle cx="409.1" cy="580.4" r="4.2"/>
<circle cx="419.1" cy="589.5" r="4.2"/>
<circle cx="440.2" cy="589.5" r="4.2"/>
<circle cx="416.8" cy="604.9" r="4.2"/>
<circle cx="424.4" cy="609.2" r="4.2"/>
<circle cx="472.0" cy="617.0" r="4.2"/>
<circle cx="543.3" cy="376.0" r="4.2"/>
<circle cx="556.0" cy="371.7" r="4.2"/>
<circle cx="553.1" cy="382.0" r="4.2"/>
<circle cx="607.5" cy="394.2" r="4.2"/>
<circle cx="633.6" cy="391.1" r="4.2"/>
<circle cx="590.3" cy="409.7" r="4.2"/>
<circle cx="575.6" cy="413.9" r="4.2"/>
<circle cx="599.9" cy="417.9" r="4.2"/>
<circle cx="596.8" cy="422.6" r="4.2"/>
<circle cx="597.1" cy="425.8" r="4.2"/>
<circle cx="623.7" cy="421.9" r="4.2"/>
<circle cx="545.2" cy="426.5" r="4.2"/>
<circle cx="546.9" cy="434.1" r="4.2"/>
<circle cx="579.3" cy="442.7" r="4.2"/>
<circle cx="625.5" cy="443.0" r="4.2"/>
<circle cx="635.2" cy="442.6" r="4.2"/>
<circle cx="644.4" cy="442.7" r="4.2"/>
<circle cx="645.8" cy="445.6" r="4.2"/>
<circle cx="551.2" cy="446.3" r="4.2"/>
<circle cx="553.8" cy="448.7" r="4.2"/>
<circle cx="556.7" cy="451.3" r="4.2"/>
<circle cx="559.5" cy="451.9" r="4.2"/>
<circle cx="591.4" cy="450.6" r="4.2"/>
<circle cx="597.9" cy="448.4" r="4.2"/>
<circle cx="603.5" cy="449.0" r="4.2"/>
<circle cx="619.4" cy="449.9" r="4.2"/>
<circle cx="633.3" cy="451.9" r="4.2"/>
<circle cx="599.9" cy="454.2" r="4.2"/>
<circle cx="604.7" cy="456.3" r="4.2"/>
<circle cx="596.8" cy="456.6" r="4.2"/>
<circle cx="646.2" cy="456.3" r="4.2"/>
<circle cx="542.6" cy="458.5" r="4.2"/>
<circle cx="554.8" cy="457.3" r="4.2"/>
<circle cx="554.5" cy="460.9" r="4.2"/>
<circle cx="572.4" cy="457.7" r="4.2"/>
<circle cx="571.0" cy="460.9" r="4.2"/>
<circle cx="578.2" cy="460.2" r="4.2"/>
<circle cx="587.5" cy="458.8" r="4.2"/>
<circle cx="588.9" cy="461.6" r="4.2"/>
<circle cx="593.2" cy="459.5" r="4.2"/>
<circle cx="591.8" cy="463.8" r="4.2"/>
<circle cx="564.1" cy="461.9" r="4.2"/>
<circle cx="620.4" cy="458.8" r="4.2"/>
<circle cx="621.9" cy="461.6" r="4.2"/>
<circle cx="639.8" cy="459.5" r="4.2"/>
<circle cx="638.8" cy="461.9" r="4.2"/>
<circle cx="634.5" cy="461.9" r="4.2"/>
<circle cx="610.0" cy="461.3" r="4.2"/>
<circle cx="601.1" cy="462.6" r="4.2"/>
<circle cx="604.0" cy="463.8" r="4.2"/>
<circle cx="615.4" cy="464.8" r="4.2"/>
<circle cx="610.4" cy="466.6" r="4.2"/>
<circle cx="575.3" cy="465.2" r="4.2"/>
<circle cx="575.3" cy="469.5" r="4.2"/>
<circle cx="552.4" cy="465.9" r="4.2"/>
<circle cx="556.7" cy="466.6" r="4.2"/>
<circle cx="561.7" cy="466.6" r="4.2"/>
<circle cx="566.0" cy="467.3" r="4.2"/>
<circle cx="563.1" cy="470.2" r="4.2"/>
<circle cx="548.8" cy="469.5" r="4.2"/>
<circle cx="602.2" cy="471.6" r="4.2"/>
<circle cx="617.1" cy="470.2" r="4.2"/>
<circle cx="623.7" cy="470.9" r="4.2"/>
<circle cx="624.3" cy="473.8" r="4.2"/>
<circle cx="612.6" cy="474.1" r="4.2"/>
<circle cx="600.4" cy="476.7" r="4.2"/>
<circle cx="576.0" cy="473.8" r="4.2"/>
<circle cx="576.7" cy="478.8" r="4.2"/>
<circle cx="592.2" cy="475.5" r="4.2"/>
<circle cx="591.8" cy="478.8" r="4.2"/>
<circle cx="553.8" cy="475.2" r="4.2"/>
<circle cx="558.1" cy="475.2" r="4.2"/>
<circle cx="554.2" cy="478.1" r="4.2"/>
<circle cx="558.8" cy="478.1" r="4.2"/>
<circle cx="564.6" cy="477.7" r="4.2"/>
<circle cx="545.9" cy="476.7" r="4.2"/>
<circle cx="543.8" cy="479.5" r="4.2"/>
<circle cx="586.1" cy="481.2" r="4.2"/>
<circle cx="590.3" cy="482.0" r="4.2"/>
<circle cx="574.6" cy="482.4" r="4.2"/>
<circle cx="577.5" cy="483.1" r="4.2"/>
<circle cx="616.9" cy="479.5" r="4.2"/>
<circle cx="626.2" cy="478.8" r="4.2"/>
<circle cx="643.1" cy="479.5" r="4.2"/>
<circle cx="622.3" cy="483.1" r="4.2"/>
<circle cx="628.3" cy="484.5" r="4.2"/>
<circle cx="636.2" cy="484.5" r="4.2"/>
<circle cx="551.7" cy="484.5" r="4.2"/>
<circle cx="557.8" cy="485.3" r="4.2"/>
<circle cx="565.7" cy="484.8" r="4.2"/>
<circle cx="582.5" cy="486.0" r="4.2"/>
<circle cx="604.7" cy="484.5" r="4.2"/>
<circle cx="614.7" cy="485.3" r="4.2"/>
<circle cx="545.9" cy="487.4" r="4.2"/>
<circle cx="561.7" cy="487.7" r="4.2"/>
<circle cx="568.9" cy="487.7" r="4.2"/>
<circle cx="602.5" cy="487.7" r="4.2"/>
<circle cx="606.8" cy="487.4" r="4.2"/>
<circle cx="611.8" cy="487.7" r="4.2"/>
<circle cx="619.0" cy="487.7" r="4.2"/>
<circle cx="634.8" cy="487.7" r="4.2"/>
<circle cx="641.9" cy="487.4" r="4.2"/>
<circle cx="646.2" cy="486.7" r="4.2"/>
<circle cx="558.8" cy="536.4" r="4.2"/>
<circle cx="563.1" cy="535.7" r="4.2"/>
<circle cx="576.0" cy="535.0" r="4.2"/>
<circle cx="580.3" cy="537.2" r="4.2"/>
<circle cx="583.9" cy="536.4" r="4.2"/>
<circle cx="594.6" cy="537.2" r="4.2"/>
<circle cx="591.8" cy="540.7" r="4.2"/>
<circle cx="590.3" cy="542.9" r="4.2"/>
<circle cx="573.9" cy="539.3" r="4.2"/>
<circle cx="573.2" cy="542.2" r="4.2"/>
<circle cx="561.0" cy="541.2" r="4.2"/>
<circle cx="565.3" cy="543.6" r="4.2"/>
<circle cx="544.5" cy="543.6" r="4.2"/>
<circle cx="626.2" cy="540.7" r="4.2"/>
<circle cx="623.3" cy="543.6" r="4.2"/>
<circle cx="626.9" cy="545.8" r="4.2"/>
<circle cx="632.6" cy="542.9" r="4.2"/>
<circle cx="636.9" cy="546.5" r="4.2"/>
<circle cx="632.6" cy="548.6" r="4.2"/>
<circle cx="639.1" cy="539.3" r="4.2"/>
<circle cx="642.7" cy="540.7" r="4.2"/>
<circle cx="646.2" cy="537.9" r="4.2"/>
<circle cx="641.9" cy="537.9" r="4.2"/>
<circle cx="647.7" cy="539.3" r="4.2"/>
<circle cx="551.7" cy="549.3" r="4.2"/>
<circle cx="554.5" cy="551.5" r="4.2"/>
<circle cx="567.9" cy="549.3" r="4.2"/>
<circle cx="576.7" cy="547.9" r="4.2"/>
<circle cx="582.0" cy="549.8" r="4.2"/>
<circle cx="592.5" cy="550.1" r="4.2"/>
<circle cx="606.5" cy="547.9" r="4.2"/>
<circle cx="609.7" cy="550.1" r="4.2"/>
<circle cx="599.9" cy="553.2" r="4.2"/>
<circle cx="609.0" cy="556.2" r="4.2"/>
<circle cx="626.5" cy="553.4" r="4.2"/>
<circle cx="645.1" cy="554.4" r="4.2"/>
<circle cx="542.6" cy="558.4" r="4.2"/>
<circle cx="549.1" cy="561.1" r="4.2"/>
<circle cx="561.7" cy="556.5" r="4.2"/>
<circle cx="563.1" cy="557.9" r="4.2"/>
<circle cx="586.1" cy="559.1" r="4.2"/>
<circle cx="630.5" cy="560.8" r="4.2"/>
<circle cx="640.2" cy="560.8" r="4.2"/>
<circle cx="643.4" cy="564.1" r="4.2"/>
<circle cx="645.8" cy="564.1" r="4.2"/>
<circle cx="588.2" cy="566.8" r="4.2"/>
<circle cx="620.9" cy="569.1" r="4.2"/>
<circle cx="546.9" cy="572.6" r="4.2"/>
<circle cx="586.1" cy="575.1" r="4.2"/>
<circle cx="592.9" cy="576.6" r="4.2"/>
<circle cx="557.4" cy="578.0" r="4.2"/>
<circle cx="559.1" cy="580.9" r="4.2"/>
<circle cx="560.5" cy="583.7" r="4.2"/>
<circle cx="624.0" cy="578.7" r="4.2"/>
<circle cx="606.8" cy="581.6" r="4.2"/>
<circle cx="609.7" cy="581.3" r="4.2"/>
<circle cx="643.7" cy="582.7" r="4.2"/>
<circle cx="579.9" cy="587.3" r="4.2"/>
<circle cx="591.5" cy="587.7" r="4.2"/>
<circle cx="594.6" cy="592.0" r="4.2"/>
<circle cx="617.1" cy="587.7" r="4.2"/>
<circle cx="634.1" cy="589.9" r="4.2"/>
<circle cx="632.6" cy="591.6" r="4.2"/>
<circle cx="580.0" cy="597.3" r="4.2"/>
<circle cx="576.0" cy="603.1" r="4.2"/>
<circle cx="610.8" cy="604.8" r="4.2"/>
<circle cx="644.5" cy="605.9" r="4.2"/>
<circle cx="632.2" cy="607.4" r="4.2"/>
<circle cx="632.2" cy="609.5" r="4.2"/>
<circle cx="597.5" cy="621.7" r="4.2"/>
<circle cx="588.5" cy="625.7" r="4.2"/>
<circle cx="640.8" cy="629.3" r="4.2"/>
<circle cx="620.4" cy="628.2" r="4.2"/>
<circle cx="619.7" cy="634.2" r="4.2"/>
<circle cx="557.4" cy="650.7" r="4.2"/>
<circle cx="695.8" cy="353.0" r="4.2"/>
<circle cx="742.0" cy="354.0" r="4.2"/>
<circle cx="760.6" cy="354.1" r="4.2"/>
<circle cx="681.8" cy="363.4" r="4.2"/>
<circle cx="686.8" cy="392.8" r="4.2"/>
<circle cx="721.6" cy="388.5" r="4.2"/>
<circle cx="719.8" cy="391.6" r="4.2"/>
<circle cx="711.2" cy="407.4" r="4.2"/>
<circle cx="701.1" cy="411.4" r="4.2"/>
<circle cx="696.6" cy="413.6" r="4.2"/>
<circle cx="689.7" cy="417.0" r="4.2"/>
<circle cx="677.1" cy="417.4" r="4.2"/>
<circle cx="683.2" cy="418.9" r="4.2"/>
<circle cx="764.5" cy="418.9" r="4.2"/>
<circle cx="683.2" cy="426.5" r="4.2"/>
<circle cx="713.3" cy="424.2" r="4.2"/>
<circle cx="720.2" cy="427.0" r="4.2"/>
<circle cx="741.5" cy="428.2" r="4.2"/>
<circle cx="746.7" cy="427.8" r="4.2"/>
<circle cx="733.4" cy="431.5" r="4.2"/>
<circle cx="749.9" cy="432.9" r="4.2"/>
<circle cx="763.5" cy="435.6" r="4.2"/>
<circle cx="773.9" cy="438.5" r="4.2"/>
<circle cx="681.1" cy="437.5" r="4.2"/>
<circle cx="679.6" cy="441.8" r="4.2"/>
<circle cx="682.5" cy="442.5" r="4.2"/>
<circle cx="705.7" cy="439.2" r="4.2"/>
<circle cx="757.3" cy="441.4" r="4.2"/>
<circle cx="731.9" cy="442.1" r="4.2"/>
<circle cx="720.5" cy="442.9" r="4.2"/>
<circle cx="719.8" cy="446.1" r="4.2"/>
<circle cx="701.9" cy="445.1" r="4.2"/>
<circle cx="707.9" cy="446.4" r="4.2"/>
<circle cx="742.4" cy="446.1" r="4.2"/>
<circle cx="762.5" cy="446.1" r="4.2"/>
<circle cx="678.9" cy="448.2" r="4.2"/>
<circle cx="701.9" cy="445.7" r="4.2"/>
<circle cx="707.9" cy="446.4" r="4.2"/>
<circle cx="719.8" cy="446.1" r="4.2"/>
<circle cx="717.9" cy="450.0" r="4.2"/>
<circle cx="742.4" cy="446.4" r="4.2"/>
<circle cx="762.5" cy="446.1" r="4.2"/>
<circle cx="777.1" cy="447.6" r="4.2"/>
<circle cx="744.1" cy="453.6" r="4.2"/>
<circle cx="705.4" cy="456.2" r="4.2"/>
<circle cx="719.5" cy="455.7" r="4.2"/>
<circle cx="769.2" cy="456.9" r="4.2"/>
<circle cx="694.0" cy="458.9" r="4.2"/>
<circle cx="739.1" cy="458.9" r="4.2"/>
<circle cx="682.5" cy="460.8" r="4.2"/>
<circle cx="755.9" cy="461.5" r="4.2"/>
<circle cx="772.1" cy="462.9" r="4.2"/>
<circle cx="718.3" cy="460.8" r="4.2"/>
<circle cx="721.9" cy="463.6" r="4.2"/>
<circle cx="732.7" cy="464.8" r="4.2"/>
<circle cx="709.7" cy="466.2" r="4.2"/>
<circle cx="694.7" cy="467.2" r="4.2"/>
<circle cx="701.1" cy="465.8" r="4.2"/>
<circle cx="726.2" cy="466.5" r="4.2"/>
<circle cx="726.2" cy="470.1" r="4.2"/>
<circle cx="739.8" cy="467.9" r="4.2"/>
<circle cx="742.7" cy="469.4" r="4.2"/>
<circle cx="754.9" cy="466.5" r="4.2"/>
<circle cx="754.9" cy="470.8" r="4.2"/>
<circle cx="767.8" cy="467.2" r="4.2"/>
<circle cx="767.8" cy="470.1" r="4.2"/>
<circle cx="780.4" cy="467.9" r="4.2"/>
<circle cx="780.0" cy="471.5" r="4.2"/>
<circle cx="677.5" cy="468.6" r="4.2"/>
<circle cx="675.3" cy="472.2" r="4.2"/>
<circle cx="704.7" cy="469.4" r="4.2"/>
<circle cx="698.3" cy="470.1" r="4.2"/>
<circle cx="699.0" cy="473.7" r="4.2"/>
<circle cx="761.3" cy="470.8" r="4.2"/>
<circle cx="764.9" cy="473.7" r="4.2"/>
<circle cx="769.2" cy="474.4" r="4.2"/>
<circle cx="682.8" cy="475.5" r="4.2"/>
<circle cx="690.0" cy="477.2" r="4.2"/>
<circle cx="699.0" cy="477.2" r="4.2"/>
<circle cx="709.7" cy="474.4" r="4.2"/>
<circle cx="713.3" cy="476.5" r="4.2"/>
<circle cx="717.6" cy="475.8" r="4.2"/>
<circle cx="722.6" cy="475.1" r="4.2"/>
<circle cx="773.5" cy="475.8" r="4.2"/>
<circle cx="777.8" cy="477.2" r="4.2"/>
<circle cx="730.5" cy="478.7" r="4.2"/>
<circle cx="734.8" cy="479.4" r="4.2"/>
<circle cx="742.0" cy="477.2" r="4.2"/>
<circle cx="744.8" cy="479.4" r="4.2"/>
<circle cx="750.6" cy="478.7" r="4.2"/>
<circle cx="757.7" cy="478.0" r="4.2"/>
<circle cx="761.3" cy="478.7" r="4.2"/>
<circle cx="775.7" cy="479.4" r="4.2"/>
<circle cx="779.2" cy="481.5" r="4.2"/>
<circle cx="713.3" cy="480.8" r="4.2"/>
<circle cx="719.1" cy="481.5" r="4.2"/>
<circle cx="726.9" cy="481.5" r="4.2"/>
<circle cx="681.8" cy="483.0" r="4.2"/>
<circle cx="676.1" cy="484.4" r="4.2"/>
<circle cx="692.5" cy="483.0" r="4.2"/>
<circle cx="694.7" cy="485.8" r="4.2"/>
<circle cx="699.0" cy="483.7" r="4.2"/>
<circle cx="700.4" cy="486.6" r="4.2"/>
<circle cx="707.6" cy="485.1" r="4.2"/>
<circle cx="719.1" cy="485.1" r="4.2"/>
<circle cx="731.9" cy="485.1" r="4.2"/>
<circle cx="736.2" cy="484.4" r="4.2"/>
<circle cx="742.0" cy="483.7" r="4.2"/>
<circle cx="747.7" cy="484.4" r="4.2"/>
<circle cx="750.6" cy="485.8" r="4.2"/>
<circle cx="744.8" cy="486.6" r="4.2"/>
<circle cx="752.0" cy="483.0" r="4.2"/>
<circle cx="758.5" cy="486.6" r="4.2"/>
<circle cx="690.4" cy="486.6" r="4.2"/>
<circle cx="677.5" cy="487.3" r="4.2"/>
<circle cx="714.0" cy="487.3" r="4.2"/>
<circle cx="739.8" cy="487.3" r="4.2"/>
<circle cx="770.6" cy="487.3" r="4.2"/>
<circle cx="779.2" cy="487.3" r="4.2"/>
<circle cx="763.5" cy="488.0" r="4.2"/>
<circle cx="703.3" cy="487.7" r="4.2"/>
<circle cx="724.8" cy="487.7" r="4.2"/>
<circle cx="678.9" cy="535.7" r="4.2"/>
<circle cx="692.5" cy="536.4" r="4.2"/>
<circle cx="695.4" cy="535.7" r="4.2"/>
<circle cx="703.3" cy="535.0" r="4.2"/>
<circle cx="711.9" cy="535.0" r="4.2"/>
<circle cx="726.2" cy="535.7" r="4.2"/>
<circle cx="727.6" cy="538.6" r="4.2"/>
<circle cx="739.8" cy="538.6" r="4.2"/>
<circle cx="751.3" cy="538.6" r="4.2"/>
<circle cx="756.3" cy="535.7" r="4.2"/>
<circle cx="759.9" cy="537.2" r="4.2"/>
<circle cx="762.0" cy="539.3" r="4.2"/>
<circle cx="770.6" cy="535.7" r="4.2"/>
<circle cx="771.4" cy="540.0" r="4.2"/>
<circle cx="681.1" cy="540.7" r="4.2"/>
<circle cx="681.1" cy="545.8" r="4.2"/>
<circle cx="697.6" cy="540.7" r="4.2"/>
<circle cx="706.2" cy="539.3" r="4.2"/>
<circle cx="702.6" cy="543.6" r="4.2"/>
<circle cx="713.3" cy="540.0" r="4.2"/>
<circle cx="716.9" cy="542.2" r="4.2"/>
<circle cx="736.2" cy="542.9" r="4.2"/>
<circle cx="742.0" cy="544.3" r="4.2"/>
<circle cx="756.7" cy="544.3" r="4.2"/>
<circle cx="766.8" cy="543.3" r="4.2"/>
<circle cx="772.8" cy="545.0" r="4.2"/>
<circle cx="772.8" cy="547.9" r="4.2"/>
<circle cx="728.1" cy="548.2" r="4.2"/>
<circle cx="709.0" cy="548.6" r="4.2"/>
<circle cx="712.6" cy="550.1" r="4.2"/>
<circle cx="713.0" cy="553.4" r="4.2"/>
<circle cx="737.0" cy="551.5" r="4.2"/>
<circle cx="745.6" cy="547.9" r="4.2"/>
<circle cx="748.9" cy="551.5" r="4.2"/>
<circle cx="752.0" cy="552.9" r="4.2"/>
<circle cx="758.5" cy="553.4" r="4.2"/>
<circle cx="756.3" cy="557.2" r="4.2"/>
<circle cx="768.5" cy="553.6" r="4.2"/>
<circle cx="765.2" cy="556.5" r="4.2"/>
<circle cx="772.1" cy="558.2" r="4.2"/>
<circle cx="691.1" cy="556.8" r="4.2"/>
<circle cx="693.5" cy="559.1" r="4.2"/>
<circle cx="747.0" cy="559.4" r="4.2"/>
<circle cx="709.7" cy="562.7" r="4.2"/>
<circle cx="717.3" cy="564.1" r="4.2"/>
<circle cx="720.5" cy="563.2" r="4.2"/>
<circle cx="754.2" cy="564.7" r="4.2"/>
<circle cx="751.0" cy="567.3" r="4.2"/>
<circle cx="761.8" cy="565.4" r="4.2"/>
<circle cx="773.5" cy="564.7" r="4.2"/>
<circle cx="744.6" cy="568.3" r="4.2"/>
<circle cx="684.7" cy="574.1" r="4.2"/>
<circle cx="715.2" cy="580.4" r="4.2"/>
<circle cx="767.3" cy="580.4" r="4.2"/>
<circle cx="675.1" cy="583.4" r="4.2"/>
<circle cx="737.7" cy="586.6" r="4.2"/>
<circle cx="708.3" cy="590.2" r="4.2"/>
<circle cx="720.1" cy="595.2" r="4.2"/>
<circle cx="677.9" cy="595.2" r="4.2"/>
<circle cx="768.5" cy="591.9" r="4.2"/>
<circle cx="765.2" cy="594.5" r="4.2"/>
<circle cx="762.0" cy="595.9" r="4.2"/>
<circle cx="749.6" cy="600.9" r="4.2"/>
<circle cx="769.9" cy="603.1" r="4.2"/>
<circle cx="727.4" cy="604.9" r="4.2"/>
<circle cx="748.1" cy="606.7" r="4.2"/>
<circle cx="748.1" cy="609.5" r="4.2"/>
<circle cx="774.5" cy="609.8" r="4.2"/>
<circle cx="675.1" cy="612.4" r="4.2"/>
<circle cx="702.6" cy="621.4" r="4.2"/>
<circle cx="762.3" cy="618.8" r="4.2"/>
<circle cx="759.5" cy="622.4" r="4.2"/>
<circle cx="749.9" cy="639.2" r="4.2"/>
<circle cx="749.4" cy="644.2" r="4.2"/>
<circle cx="701.1" cy="642.9" r="4.2"/>
<circle cx="675.1" cy="648.6" r="4.2"/>
<circle cx="683.9" cy="653.5" r="4.2"/>
<circle cx="767.1" cy="652.1" r="4.2"/>
<circle cx="759.2" cy="659.4" r="4.2"/>
<circle cx="725.9" cy="660.8" r="4.2"/>
<circle cx="681.1" cy="674.4" r="4.2"/>
<circle cx="689.2" cy="677.9" r="4.2"/>
<circle cx="779.5" cy="680.8" r="4.2"/>
<circle cx="761.8" cy="690.8" r="4.2"/>
<circle cx="755.2" cy="708.3" r="4.2"/>
<circle cx="740.5" cy="715.2" r="4.2"/>
<circle cx="729.8" cy="716.6" r="4.2"/>
<circle cx="881.1" cy="313.6" r="4.2"/>
<circle cx="836.6" cy="334.7" r="4.2"/>
<circle cx="844.2" cy="339.4" r="4.2"/>
<circle cx="882.9" cy="336.9" r="4.2"/>
<circle cx="902.9" cy="340.2" r="4.2"/>
<circle cx="912.5" cy="337.3" r="4.2"/>
<circle cx="813.4" cy="349.2" r="4.2"/>
<circle cx="887.2" cy="353.5" r="4.2"/>
<circle cx="872.4" cy="361.2" r="4.2"/>
<circle cx="833.1" cy="373.4" r="4.2"/>
<circle cx="911.2" cy="379.6" r="4.2"/>
<circle cx="913.0" cy="382.4" r="4.2"/>
<circle cx="909.7" cy="385.3" r="4.2"/>
<circle cx="826.7" cy="387.2" r="4.2"/>
<circle cx="834.1" cy="386.3" r="4.2"/>
<circle cx="858.9" cy="389.3" r="4.2"/>
<circle cx="899.8" cy="389.2" r="4.2"/>
<circle cx="879.6" cy="392.5" r="4.2"/>
<circle cx="907.9" cy="395.3" r="4.2"/>
<circle cx="862.1" cy="397.9" r="4.2"/>
<circle cx="867.5" cy="399.2" r="4.2"/>
<circle cx="866.8" cy="404.6" r="4.2"/>
<circle cx="810.1" cy="407.8" r="4.2"/>
<circle cx="890.7" cy="407.8" r="4.2"/>
<circle cx="824.8" cy="412.9" r="4.2"/>
<circle cx="857.1" cy="410.7" r="4.2"/>
<circle cx="861.7" cy="413.2" r="4.2"/>
<circle cx="861.4" cy="416.4" r="4.2"/>
<circle cx="810.5" cy="416.1" r="4.2"/>
<circle cx="877.6" cy="414.7" r="4.2"/>
<circle cx="869.2" cy="419.0" r="4.2"/>
<circle cx="858.2" cy="421.4" r="4.2"/>
<circle cx="868.5" cy="420.0" r="4.2"/>
<circle cx="888.9" cy="421.1" r="4.2"/>
<circle cx="901.8" cy="420.7" r="4.2"/>
<circle cx="863.1" cy="424.7" r="4.2"/>
<circle cx="879.3" cy="423.3" r="4.2"/>
<circle cx="881.4" cy="426.2" r="4.2"/>
<circle cx="842.4" cy="425.4" r="4.2"/>
<circle cx="894.0" cy="425.7" r="4.2"/>
<circle cx="825.5" cy="426.7" r="4.2"/>
<circle cx="822.0" cy="428.2" r="4.2"/>
<circle cx="810.5" cy="427.9" r="4.2"/>
<circle cx="898.9" cy="428.3" r="4.2"/>
<circle cx="912.5" cy="426.7" r="4.2"/>
<circle cx="852.8" cy="430.3" r="4.2"/>
<circle cx="825.8" cy="433.3" r="4.2"/>
<circle cx="892.9" cy="433.6" r="4.2"/>
<circle cx="886.0" cy="433.9" r="4.2"/>
<circle cx="871.4" cy="435.0" r="4.2"/>
<circle cx="876.4" cy="436.5" r="4.2"/>
<circle cx="883.6" cy="436.5" r="4.2"/>
<circle cx="851.3" cy="436.5" r="4.2"/>
<circle cx="832.7" cy="438.2" r="4.2"/>
<circle cx="900.5" cy="437.9" r="4.2"/>
<circle cx="880.7" cy="439.3" r="4.2"/>
<circle cx="814.5" cy="441.1" r="4.2"/>
<circle cx="842.3" cy="440.5" r="4.2"/>
<circle cx="861.8" cy="441.2" r="4.2"/>
<circle cx="873.3" cy="441.5" r="4.2"/>
<circle cx="877.1" cy="443.6" r="4.2"/>
<circle cx="883.6" cy="442.9" r="4.2"/>
<circle cx="903.6" cy="442.9" r="4.2"/>
<circle cx="902.9" cy="446.5" r="4.2"/>
<circle cx="885.0" cy="446.5" r="4.2"/>
<circle cx="851.0" cy="446.2" r="4.2"/>
<circle cx="814.8" cy="447.2" r="4.2"/>
<circle cx="871.8" cy="447.9" r="4.2"/>
<circle cx="830.6" cy="449.4" r="4.2"/>
<circle cx="846.3" cy="449.4" r="4.2"/>
<circle cx="910.5" cy="448.7" r="4.2"/>
<circle cx="864.5" cy="450.4" r="4.2"/>
<circle cx="872.8" cy="451.5" r="4.2"/>
<circle cx="885.4" cy="450.1" r="4.2"/>
<circle cx="912.2" cy="451.2" r="4.2"/>
<circle cx="860.2" cy="452.2" r="4.2"/>
<circle cx="831.3" cy="452.2" r="4.2"/>
<circle cx="847.8" cy="452.2" r="4.2"/>
<circle cx="896.5" cy="452.7" r="4.2"/>
<circle cx="823.0" cy="454.8" r="4.2"/>
<circle cx="839.2" cy="455.4" r="4.2"/>
<circle cx="844.2" cy="455.1" r="4.2"/>
<circle cx="852.1" cy="455.5" r="4.2"/>
<circle cx="860.2" cy="455.8" r="4.2"/>
<circle cx="831.3" cy="455.8" r="4.2"/>
<circle cx="849.2" cy="457.3" r="4.2"/>
<circle cx="875.7" cy="457.5" r="4.2"/>
<circle cx="882.1" cy="458.0" r="4.2"/>
<circle cx="886.0" cy="456.5" r="4.2"/>
<circle cx="909.4" cy="458.0" r="4.2"/>
<circle cx="810.9" cy="459.4" r="4.2"/>
<circle cx="845.6" cy="459.4" r="4.2"/>
<circle cx="887.9" cy="460.1" r="4.2"/>
<circle cx="869.2" cy="461.6" r="4.2"/>
<circle cx="878.6" cy="461.6" r="4.2"/>
<circle cx="900.1" cy="461.3" r="4.2"/>
<circle cx="902.9" cy="461.6" r="4.2"/>
<circle cx="909.1" cy="462.3" r="4.2"/>
<circle cx="820.8" cy="462.6" r="4.2"/>
<circle cx="829.6" cy="462.6" r="4.2"/>
<circle cx="842.0" cy="462.6" r="4.2"/>
<circle cx="814.1" cy="465.9" r="4.2"/>
<circle cx="830.6" cy="465.9" r="4.2"/>
<circle cx="839.2" cy="465.9" r="4.2"/>
<circle cx="844.2" cy="465.6" r="4.2"/>
<circle cx="875.7" cy="465.9" r="4.2"/>
<circle cx="880.7" cy="466.3" r="4.2"/>
<circle cx="893.6" cy="465.9" r="4.2"/>
<circle cx="900.8" cy="467.0" r="4.2"/>
<circle cx="911.9" cy="466.6" r="4.2"/>
<circle cx="809.1" cy="469.4" r="4.2"/>
<circle cx="816.2" cy="468.7" r="4.2"/>
<circle cx="819.8" cy="470.2" r="4.2"/>
<circle cx="824.1" cy="468.7" r="4.2"/>
<circle cx="827.0" cy="470.9" r="4.2"/>
<circle cx="831.3" cy="469.4" r="4.2"/>
<circle cx="855.6" cy="468.4" r="4.2"/>
<circle cx="861.4" cy="468.0" r="4.2"/>
<circle cx="869.2" cy="469.4" r="4.2"/>
<circle cx="871.4" cy="470.9" r="4.2"/>
<circle cx="848.0" cy="470.9" r="4.2"/>
<circle cx="892.9" cy="470.2" r="4.2"/>
<circle cx="894.3" cy="473.0" r="4.2"/>
<circle cx="891.5" cy="473.3" r="4.2"/>
<circle cx="836.3" cy="472.3" r="4.2"/>
<circle cx="842.7" cy="473.7" r="4.2"/>
<circle cx="848.5" cy="474.5" r="4.2"/>
<circle cx="859.2" cy="473.0" r="4.2"/>
<circle cx="863.5" cy="473.7" r="4.2"/>
<circle cx="876.4" cy="473.0" r="4.2"/>
<circle cx="882.1" cy="474.9" r="4.2"/>
<circle cx="810.5" cy="475.2" r="4.2"/>
<circle cx="819.1" cy="473.7" r="4.2"/>
<circle cx="823.4" cy="474.5" r="4.2"/>
<circle cx="827.7" cy="475.2" r="4.2"/>
<circle cx="811.9" cy="478.0" r="4.2"/>
<circle cx="808.3" cy="480.2" r="4.2"/>
<circle cx="829.1" cy="477.3" r="4.2"/>
<circle cx="834.1" cy="480.2" r="4.2"/>
<circle cx="839.2" cy="478.0" r="4.2"/>
<circle cx="851.3" cy="476.6" r="4.2"/>
<circle cx="859.2" cy="476.6" r="4.2"/>
<circle cx="864.2" cy="477.3" r="4.2"/>
<circle cx="867.1" cy="478.8" r="4.2"/>
<circle cx="872.8" cy="478.8" r="4.2"/>
<circle cx="876.4" cy="477.3" r="4.2"/>
<circle cx="885.7" cy="478.0" r="4.2"/>
<circle cx="903.6" cy="475.9" r="4.2"/>
<circle cx="905.8" cy="478.8" r="4.2"/>
<circle cx="902.9" cy="480.2" r="4.2"/>
<circle cx="890.7" cy="482.3" r="4.2"/>
<circle cx="895.8" cy="480.9" r="4.2"/>
<circle cx="911.1" cy="481.9" r="4.2"/>
<circle cx="820.5" cy="481.6" r="4.2"/>
<circle cx="811.2" cy="483.1" r="4.2"/>
<circle cx="867.8" cy="481.6" r="4.2"/>
<circle cx="875.7" cy="483.1" r="4.2"/>
<circle cx="837.0" cy="484.5" r="4.2"/>
<circle cx="812.6" cy="485.9" r="4.2"/>
<circle cx="819.8" cy="485.9" r="4.2"/>
<circle cx="837.7" cy="486.2" r="4.2"/>
<circle cx="845.6" cy="485.2" r="4.2"/>
<circle cx="858.8" cy="484.2" r="4.2"/>
<circle cx="864.2" cy="485.9" r="4.2"/>
<circle cx="860.6" cy="487.3" r="4.2"/>
<circle cx="884.3" cy="486.2" r="4.2"/>
<circle cx="887.9" cy="487.3" r="4.2"/>
<circle cx="907.2" cy="484.1" r="4.2"/>
<circle cx="875.7" cy="487.3" r="4.2"/>
<circle cx="826.3" cy="487.3" r="4.2"/>
<circle cx="809.8" cy="487.3" r="4.2"/>
<circle cx="850.6" cy="488.5" r="4.2"/>
<circle cx="897.2" cy="488.1" r="4.2"/>
<circle cx="812.6" cy="537.9" r="4.2"/>
<circle cx="816.2" cy="537.9" r="4.2"/>
<circle cx="823.4" cy="534.3" r="4.2"/>
<circle cx="832.0" cy="538.6" r="4.2"/>
<circle cx="839.2" cy="535.7" r="4.2"/>
<circle cx="842.0" cy="540.7" r="4.2"/>
<circle cx="854.9" cy="540.0" r="4.2"/>
<circle cx="857.8" cy="537.2" r="4.2"/>
<circle cx="862.8" cy="542.2" r="4.2"/>
<circle cx="866.4" cy="541.5" r="4.2"/>
<circle cx="872.1" cy="539.3" r="4.2"/>
<circle cx="875.0" cy="535.7" r="4.2"/>
<circle cx="883.6" cy="535.7" r="4.2"/>
<circle cx="887.2" cy="535.7" r="4.2"/>
<circle cx="895.8" cy="537.9" r="4.2"/>
<circle cx="900.1" cy="540.3" r="4.2"/>
<circle cx="908.7" cy="539.3" r="4.2"/>
<circle cx="906.5" cy="535.0" r="4.2"/>
<circle cx="814.8" cy="546.0" r="4.2"/>
<circle cx="833.9" cy="548.3" r="4.2"/>
<circle cx="849.9" cy="547.9" r="4.2"/>
<circle cx="854.9" cy="546.5" r="4.2"/>
<circle cx="854.9" cy="549.3" r="4.2"/>
<circle cx="874.0" cy="544.0" r="4.2"/>
<circle cx="890.7" cy="543.6" r="4.2"/>
<circle cx="895.8" cy="544.3" r="4.2"/>
<circle cx="890.0" cy="547.9" r="4.2"/>
<circle cx="905.8" cy="545.0" r="4.2"/>
<circle cx="902.9" cy="547.9" r="4.2"/>
<circle cx="907.2" cy="547.9" r="4.2"/>
<circle cx="877.4" cy="550.8" r="4.2"/>
<circle cx="913.0" cy="551.9" r="4.2"/>
<circle cx="896.8" cy="552.2" r="4.2"/>
<circle cx="849.5" cy="552.2" r="4.2"/>
<circle cx="869.2" cy="552.6" r="4.2"/>
<circle cx="872.1" cy="554.4" r="4.2"/>
<circle cx="884.3" cy="553.4" r="4.2"/>
<circle cx="818.1" cy="555.8" r="4.2"/>
<circle cx="842.0" cy="555.8" r="4.2"/>
<circle cx="859.2" cy="555.5" r="4.2"/>
<circle cx="861.4" cy="555.5" r="4.2"/>
<circle cx="832.0" cy="557.2" r="4.2"/>
<circle cx="835.6" cy="558.4" r="4.2"/>
<circle cx="832.0" cy="560.1" r="4.2"/>
<circle cx="848.2" cy="558.9" r="4.2"/>
<circle cx="882.4" cy="559.8" r="4.2"/>
<circle cx="817.7" cy="562.0" r="4.2"/>
<circle cx="869.7" cy="561.2" r="4.2"/>
<circle cx="866.4" cy="565.5" r="4.2"/>
<circle cx="906.8" cy="562.7" r="4.2"/>
<circle cx="903.6" cy="565.1" r="4.2"/>
<circle cx="823.4" cy="566.3" r="4.2"/>
<circle cx="820.5" cy="568.7" r="4.2"/>
<circle cx="839.2" cy="568.4" r="4.2"/>
<circle cx="872.1" cy="568.0" r="4.2"/>
<circle cx="879.6" cy="567.0" r="4.2"/>
<circle cx="883.9" cy="569.0" r="4.2"/>
<circle cx="909.4" cy="567.5" r="4.2"/>
<circle cx="847.0" cy="573.4" r="4.2"/>
<circle cx="848.5" cy="576.6" r="4.2"/>
<circle cx="854.9" cy="573.7" r="4.2"/>
<circle cx="859.5" cy="576.1" r="4.2"/>
<circle cx="807.2" cy="576.3" r="4.2"/>
<circle cx="812.6" cy="575.1" r="4.2"/>
<circle cx="812.6" cy="578.7" r="4.2"/>
<circle cx="886.9" cy="576.9" r="4.2"/>
<circle cx="896.8" cy="574.7" r="4.2"/>
<circle cx="905.5" cy="574.1" r="4.2"/>
<circle cx="811.2" cy="584.2" r="4.2"/>
<circle cx="827.7" cy="583.7" r="4.2"/>
<circle cx="858.8" cy="584.0" r="4.2"/>
<circle cx="874.7" cy="581.9" r="4.2"/>
<circle cx="879.6" cy="581.6" r="4.2"/>
<circle cx="891.9" cy="583.4" r="4.2"/>
<circle cx="838.2" cy="587.6" r="4.2"/>
<circle cx="865.9" cy="589.0" r="4.2"/>
<circle cx="808.6" cy="591.9" r="4.2"/>
<circle cx="820.1" cy="598.8" r="4.2"/>
<circle cx="892.9" cy="595.9" r="4.2"/>
<circle cx="889.3" cy="598.8" r="4.2"/>
<circle cx="893.2" cy="600.6" r="4.2"/>
<circle cx="881.9" cy="602.1" r="4.2"/>
<circle cx="881.9" cy="604.9" r="4.2"/>
<circle cx="867.5" cy="603.8" r="4.2"/>
<circle cx="881.1" cy="608.5" r="4.2"/>
<circle cx="819.1" cy="608.8" r="4.2"/>
<circle cx="828.8" cy="610.2" r="4.2"/>
<circle cx="842.0" cy="613.1" r="4.2"/>
<circle cx="822.0" cy="614.8" r="4.2"/>
<circle cx="820.8" cy="622.4" r="4.2"/>
<circle cx="813.1" cy="627.7" r="4.2"/>
<circle cx="879.3" cy="627.0" r="4.2"/>
<circle cx="882.9" cy="627.2" r="4.2"/>
<circle cx="909.7" cy="625.6" r="4.2"/>
<circle cx="853.1" cy="660.7" r="4.2"/>
<circle cx="863.9" cy="663.6" r="4.2"/>
<circle cx="867.8" cy="668.2" r="4.2"/>
<circle cx="826.5" cy="667.5" r="4.2"/>
<circle cx="813.1" cy="670.1" r="4.2"/>
<circle cx="858.1" cy="680.5" r="4.2"/>
<circle cx="901.1" cy="689.1" r="4.2"/>
<circle cx="900.8" cy="695.9" r="4.2"/>
<circle cx="874.5" cy="731.4" r="4.2"/>
<circle cx="860.6" cy="750.3" r="4.2"/>
<circle cx="846.7" cy="755.0" r="4.2"/>
<circle cx="820.5" cy="762.2" r="4.2"/>
<circle cx="884.3" cy="760.3" r="4.2"/>
<circle cx="904.6" cy="754.6" r="4.2"/>
</g>
<g>
<circle cx="176.8" cy="487.8" r="2.55" fill="#b1221c"/>
<circle cx="150.2" cy="486.5" r="2.55" fill="#c8211b"/>
<circle cx="199.3" cy="490.3" r="2.55" fill="#c8211b"/>
<circle cx="196.3" cy="490.2" r="2.55" fill="#c8211b"/>
<circle cx="146.5" cy="489.8" r="2.55" fill="#c8211b"/>
<circle cx="152.1" cy="490.6" r="2.55" fill="#c8211b"/>
<circle cx="187.5" cy="490.2" r="2.55" fill="#9a241e"/>
<circle cx="166.2" cy="489.4" r="2.55" fill="#9a241e"/>
<circle cx="209.0" cy="486.2" r="2.55" fill="#b1221c"/>
<circle cx="184.5" cy="489.5" r="2.55" fill="#9a241e"/>
<circle cx="246.0" cy="483.6" r="2.55" fill="#c8211b"/>
<circle cx="173.2" cy="488.9" r="2.55" fill="#c8211b"/>
<circle cx="157.8" cy="534.5" r="2.55" fill="#c8211b"/>
<circle cx="229.0" cy="534.3" r="2.55" fill="#9a241e"/>
<circle cx="161.7" cy="537.0" r="2.55" fill="#c8211b"/>
<circle cx="182.0" cy="534.8" r="2.55" fill="#83251f"/>
<circle cx="200.6" cy="533.3" r="2.55" fill="#c8211b"/>
<circle cx="164.3" cy="532.5" r="2.55" fill="#c8211b"/>
<circle cx="214.6" cy="535.1" r="2.55" fill="#9a241e"/>
<circle cx="204.6" cy="533.5" r="2.55" fill="#c8211b"/>
<circle cx="323.5" cy="489.0" r="2.55" fill="#c8211b"/>
<circle cx="349.6" cy="484.4" r="2.55" fill="#c8211b"/>
<circle cx="301.4" cy="486.8" r="2.55" fill="#c8211b"/>
<circle cx="368.3" cy="489.0" r="2.55" fill="#c8211b"/>
<circle cx="352.8" cy="488.6" r="2.55" fill="#c8211b"/>
<circle cx="288.0" cy="480.3" r="2.55" fill="#c8211b"/>
<circle cx="319.8" cy="491.1" r="2.55" fill="#c8211b"/>
<circle cx="327.3" cy="488.9" r="2.55" fill="#c8211b"/>
<circle cx="279.7" cy="487.9" r="2.55" fill="#c8211b"/>
<circle cx="336.2" cy="485.3" r="2.55" fill="#c8211b"/>
<circle cx="368.3" cy="488.8" r="2.55" fill="#c8211b"/>
<circle cx="338.5" cy="485.5" r="2.55" fill="#c8211b"/>
<circle cx="337.0" cy="483.8" r="2.55" fill="#c8211b"/>
<circle cx="375.6" cy="489.1" r="2.55" fill="#c8211b"/>
<circle cx="325.8" cy="490.5" r="2.55" fill="#c8211b"/>
<circle cx="349.9" cy="490.0" r="2.55" fill="#c8211b"/>
<circle cx="344.1" cy="483.8" r="2.55" fill="#c8211b"/>
<circle cx="305.7" cy="490.9" r="2.55" fill="#c8211b"/>
<circle cx="316.4" cy="490.8" r="2.55" fill="#c8211b"/>
<circle cx="324.4" cy="490.5" r="2.55" fill="#c8211b"/>
<circle cx="293.3" cy="490.2" r="2.55" fill="#b1221c"/>
<circle cx="356.9" cy="490.3" r="2.55" fill="#c8211b"/>
<circle cx="289.2" cy="491.1" r="2.55" fill="#b1221c"/>
<circle cx="367.9" cy="487.2" r="2.55" fill="#c8211b"/>
<circle cx="284.0" cy="486.4" r="2.55" fill="#c8211b"/>
<circle cx="369.1" cy="489.6" r="2.55" fill="#c8211b"/>
<circle cx="362.3" cy="489.1" r="2.55" fill="#c8211b"/>
<circle cx="319.5" cy="488.8" r="2.55" fill="#c8211b"/>
<circle cx="313.5" cy="539.5" r="2.55" fill="#c8211b"/>
<circle cx="291.5" cy="538.7" r="2.55" fill="#c8211b"/>
<circle cx="294.2" cy="532.3" r="2.55" fill="#c8211b"/>
<circle cx="326.9" cy="534.9" r="2.55" fill="#c8211b"/>
<circle cx="337.9" cy="532.0" r="2.55" fill="#b1221c"/>
<circle cx="319.9" cy="532.4" r="2.55" fill="#c8211b"/>
<circle cx="314.6" cy="541.0" r="2.55" fill="#c8211b"/>
<circle cx="348.7" cy="536.0" r="2.55" fill="#c8211b"/>
<circle cx="330.1" cy="536.4" r="2.55" fill="#9a241e"/>
<circle cx="281.2" cy="536.0" r="2.55" fill="#9a241e"/>
<circle cx="370.9" cy="533.5" r="2.55" fill="#9a241e"/>
<circle cx="360.1" cy="540.0" r="2.55" fill="#9a241e"/>
<circle cx="317.1" cy="533.5" r="2.55" fill="#c8211b"/>
<circle cx="342.7" cy="533.1" r="2.55" fill="#c8211b"/>
<circle cx="282.1" cy="534.5" r="2.55" fill="#9a241e"/>
<circle cx="292.7" cy="533.1" r="2.55" fill="#c8211b"/>
<circle cx="311.5" cy="532.1" r="2.55" fill="#9a241e"/>
<circle cx="291.5" cy="532.0" r="2.55" fill="#c8211b"/>
<circle cx="419.3" cy="490.6" r="2.55" fill="#83251f"/>
<circle cx="501.2" cy="490.5" r="2.55" fill="#83251f"/>
<circle cx="473.6" cy="489.4" r="2.55" fill="#9a241e"/>
<circle cx="445.3" cy="488.7" r="2.55" fill="#b1221c"/>
<circle cx="447.1" cy="485.6" r="2.55" fill="#c8211b"/>
<circle cx="513.8" cy="537.4" r="2.55" fill="#83251f"/>
<circle cx="457.9" cy="533.7" r="2.55" fill="#83251f"/>
<circle cx="419.3" cy="532.2" r="2.55" fill="#9a241e"/>
<circle cx="444.8" cy="532.7" r="2.55" fill="#782620"/>
<circle cx="425.6" cy="539.5" r="2.55" fill="#782620"/>
<circle cx="543.9" cy="486.5" r="2.55" fill="#c8211b"/>
<circle cx="557.0" cy="489.7" r="2.55" fill="#c8211b"/>
<circle cx="599.1" cy="486.4" r="2.55" fill="#9a241e"/>
<circle cx="645.2" cy="490.4" r="2.55" fill="#b1221c"/>
<circle cx="633.0" cy="490.2" r="2.55" fill="#c8211b"/>
<circle cx="580.4" cy="488.3" r="2.55" fill="#c8211b"/>
<circle cx="559.2" cy="490.5" r="2.55" fill="#c8211b"/>
<circle cx="624.1" cy="486.3" r="2.55" fill="#c8211b"/>
<circle cx="576.4" cy="490.0" r="2.55" fill="#b1221c"/>
<circle cx="645.9" cy="484.0" r="2.55" fill="#c8211b"/>
<circle cx="631.9" cy="488.7" r="2.55" fill="#c8211b"/>
<circle cx="619.9" cy="484.3" r="2.55" fill="#c8211b"/>
<circle cx="565.5" cy="487.5" r="2.55" fill="#c8211b"/>
<circle cx="544.6" cy="490.8" r="2.55" fill="#b1221c"/>
<circle cx="544.5" cy="490.6" r="2.55" fill="#b1221c"/>
<circle cx="614.9" cy="488.2" r="2.55" fill="#c8211b"/>
<circle cx="642.9" cy="540.9" r="2.55" fill="#c8211b"/>
<circle cx="646.2" cy="535.1" r="2.55" fill="#c8211b"/>
<circle cx="642.7" cy="533.9" r="2.55" fill="#c8211b"/>
<circle cx="565.5" cy="534.1" r="2.55" fill="#b1221c"/>
<circle cx="562.4" cy="533.6" r="2.55" fill="#b1221c"/>
<circle cx="636.9" cy="537.4" r="2.55" fill="#c8211b"/>
<circle cx="630.6" cy="537.8" r="2.55" fill="#c8211b"/>
<circle cx="626.3" cy="532.7" r="2.55" fill="#83251f"/>
<circle cx="683.5" cy="486.5" r="2.55" fill="#c8211b"/>
<circle cx="757.4" cy="483.8" r="2.55" fill="#c8211b"/>
<circle cx="754.0" cy="488.7" r="2.55" fill="#c8211b"/>
<circle cx="758.1" cy="490.9" r="2.55" fill="#c8211b"/>
<circle cx="709.7" cy="487.8" r="2.55" fill="#c8211b"/>
<circle cx="716.5" cy="481.1" r="2.55" fill="#c8211b"/>
<circle cx="717.0" cy="485.1" r="2.55" fill="#c8211b"/>
<circle cx="692.5" cy="489.1" r="2.55" fill="#c8211b"/>
<circle cx="688.0" cy="486.2" r="2.55" fill="#c8211b"/>
<circle cx="760.0" cy="484.1" r="2.55" fill="#c8211b"/>
<circle cx="690.0" cy="486.0" r="2.55" fill="#c8211b"/>
<circle cx="744.2" cy="481.3" r="2.55" fill="#c8211b"/>
<circle cx="711.6" cy="489.2" r="2.55" fill="#c8211b"/>
<circle cx="676.0" cy="490.6" r="2.55" fill="#9a241e"/>
<circle cx="777.4" cy="488.3" r="2.55" fill="#c8211b"/>
<circle cx="773.5" cy="487.2" r="2.55" fill="#c8211b"/>
<circle cx="720.5" cy="486.0" r="2.55" fill="#c8211b"/>
<circle cx="696.9" cy="485.8" r="2.55" fill="#c8211b"/>
<circle cx="701.2" cy="490.4" r="2.55" fill="#c8211b"/>
<circle cx="736.7" cy="488.3" r="2.55" fill="#c8211b"/>
<circle cx="702.0" cy="489.3" r="2.55" fill="#c8211b"/>
<circle cx="771.0" cy="490.2" r="2.55" fill="#c8211b"/>
<circle cx="712.0" cy="486.1" r="2.55" fill="#c8211b"/>
<circle cx="770.4" cy="489.8" r="2.55" fill="#c8211b"/>
<circle cx="719.1" cy="487.1" r="2.55" fill="#c8211b"/>
<circle cx="730.9" cy="488.9" r="2.55" fill="#c8211b"/>
<circle cx="730.0" cy="486.9" r="2.55" fill="#c8211b"/>
<circle cx="693.9" cy="490.7" r="2.55" fill="#c8211b"/>
<circle cx="674.9" cy="532.7" r="2.55" fill="#83251f"/>
<circle cx="724.7" cy="534.3" r="2.55" fill="#c8211b"/>
<circle cx="751.4" cy="535.3" r="2.55" fill="#b1221c"/>
<circle cx="729.4" cy="533.2" r="2.55" fill="#c8211b"/>
<circle cx="733.4" cy="532.4" r="2.55" fill="#c8211b"/>
<circle cx="733.9" cy="533.9" r="2.55" fill="#c8211b"/>
<circle cx="700.8" cy="533.2" r="2.55" fill="#9a241e"/>
<circle cx="728.3" cy="538.8" r="2.55" fill="#c8211b"/>
<circle cx="734.0" cy="532.6" r="2.55" fill="#c8211b"/>
<circle cx="721.5" cy="540.8" r="2.55" fill="#c8211b"/>
<circle cx="739.4" cy="536.8" r="2.55" fill="#c8211b"/>
<circle cx="747.9" cy="532.2" r="2.55" fill="#9a241e"/>
<circle cx="722.4" cy="536.5" r="2.55" fill="#c8211b"/>
<circle cx="774.3" cy="532.9" r="2.55" fill="#83251f"/>
<circle cx="881.6" cy="484.4" r="2.55" fill="#c8211b"/>
<circle cx="835.0" cy="484.5" r="2.55" fill="#c8211b"/>
<circle cx="866.8" cy="484.0" r="2.55" fill="#c8211b"/>
<circle cx="822.0" cy="488.5" r="2.55" fill="#c8211b"/>
<circle cx="820.4" cy="489.7" r="2.55" fill="#c8211b"/>
<circle cx="833.0" cy="490.6" r="2.55" fill="#c8211b"/>
<circle cx="815.3" cy="487.8" r="2.55" fill="#c8211b"/>
<circle cx="902.6" cy="485.1" r="2.55" fill="#c8211b"/>
<circle cx="823.9" cy="490.0" r="2.55" fill="#c8211b"/>
<circle cx="822.7" cy="485.5" r="2.55" fill="#c8211b"/>
<circle cx="901.1" cy="488.4" r="2.55" fill="#c8211b"/>
<circle cx="908.5" cy="490.6" r="2.55" fill="#9a241e"/>
<circle cx="849.7" cy="479.1" r="2.55" fill="#c8211b"/>
<circle cx="895.7" cy="490.2" r="2.55" fill="#c8211b"/>
<circle cx="824.6" cy="486.8" r="2.55" fill="#c8211b"/>
<circle cx="843.4" cy="489.2" r="2.55" fill="#c8211b"/>
<circle cx="828.2" cy="488.5" r="2.55" fill="#c8211b"/>
<circle cx="809.6" cy="485.4" r="2.55" fill="#c8211b"/>
<circle cx="866.2" cy="490.5" r="2.55" fill="#c8211b"/>
<circle cx="842.6" cy="490.9" r="2.55" fill="#c8211b"/>
<circle cx="873.6" cy="489.7" r="2.55" fill="#b1221c"/>
<circle cx="911.9" cy="491.1" r="2.55" fill="#83251f"/>
<circle cx="891.1" cy="489.3" r="2.55" fill="#c8211b"/>
<circle cx="835.6" cy="490.9" r="2.55" fill="#c8211b"/>
<circle cx="811.7" cy="490.6" r="2.55" fill="#c8211b"/>
<circle cx="821.2" cy="488.1" r="2.55" fill="#c8211b"/>
<circle cx="852.3" cy="484.9" r="2.55" fill="#c8211b"/>
<circle cx="834.9" cy="487.3" r="2.55" fill="#c8211b"/>
<circle cx="823.3" cy="486.7" r="2.55" fill="#c8211b"/>
<circle cx="881.7" cy="488.7" r="2.55" fill="#c8211b"/>
<circle cx="817.0" cy="537.7" r="2.55" fill="#c8211b"/>
<circle cx="852.6" cy="534.2" r="2.55" fill="#b1221c"/>
<circle cx="815.2" cy="537.3" r="2.55" fill="#c8211b"/>
<circle cx="892.5" cy="534.1" r="2.55" fill="#b1221c"/>
<circle cx="816.4" cy="532.9" r="2.55" fill="#c8211b"/>
<circle cx="899.0" cy="533.2" r="2.55" fill="#c8211b"/>
<circle cx="855.6" cy="534.7" r="2.55" fill="#c8211b"/>
<circle cx="905.7" cy="536.3" r="2.55" fill="#c8211b"/>
<circle cx="835.9" cy="535.4" r="2.55" fill="#c8211b"/>
<circle cx="832.8" cy="535.6" r="2.55" fill="#c8211b"/>
<circle cx="819.1" cy="532.7" r="2.55" fill="#c8211b"/>
<circle cx="828.9" cy="533.1" r="2.55" fill="#c8211b"/>
<circle cx="840.6" cy="534.3" r="2.55" fill="#c8211b"/>
<circle cx="838.2" cy="538.4" r="2.55" fill="#c8211b"/>
<circle cx="860.5" cy="533.6" r="2.55" fill="#b1221c"/>
<circle cx="809.4" cy="535.3" r="2.55" fill="#c8211b"/>
<circle cx="834.0" cy="538.5" r="2.55" fill="#c8211b"/>
<circle cx="865.9" cy="532.6" r="2.55" fill="#83251f"/>
<circle cx="247.9" cy="394.6" r="2.55" fill="#782620"/>
<circle cx="222.7" cy="399.1" r="2.55" fill="#782620"/>
<circle cx="229.9" cy="411.1" r="2.55" fill="#782620"/>
<circle cx="178.9" cy="412.6" r="2.55" fill="#782620"/>
<circle cx="161.3" cy="416.4" r="2.55" fill="#782620"/>
<circle cx="149.9" cy="427.0" r="2.55" fill="#782620"/>
<circle cx="206.4" cy="428.0" r="2.55" fill="#782620"/>
<circle cx="245.1" cy="430.8" r="2.55" fill="#782620"/>
<circle cx="179.7" cy="429.9" r="2.55" fill="#9a241e"/>
<circle cx="174.0" cy="431.8" r="2.55" fill="#9a241e"/>
<circle cx="188.6" cy="432.8" r="2.55" fill="#782620"/>
<circle cx="179.3" cy="436.5" r="2.55" fill="#9a241e"/>
<circle cx="192.8" cy="439.1" r="2.55" fill="#782620"/>
<circle cx="152.9" cy="444.7" r="2.55" fill="#782620"/>
<circle cx="184.2" cy="442.6" r="2.55" fill="#782620"/>
<circle cx="230.3" cy="441.7" r="2.55" fill="#782620"/>
<circle cx="218.3" cy="447.5" r="2.55" fill="#83251f"/>
<circle cx="223.6" cy="450.3" r="2.55" fill="#83251f"/>
<circle cx="234.2" cy="452.5" r="2.55" fill="#83251f"/>
<circle cx="238.1" cy="452.5" r="2.55" fill="#83251f"/>
<circle cx="168.8" cy="453.3" r="2.55" fill="#83251f"/>
<circle cx="164.0" cy="454.3" r="2.55" fill="#83251f"/>
<circle cx="244.7" cy="459.1" r="2.55" fill="#b1221c"/>
<circle cx="240.8" cy="461.8" r="2.55" fill="#b1221c"/>
<circle cx="247.9" cy="462.9" r="2.55" fill="#c8211b"/>
<circle cx="243.4" cy="463.6" r="2.55" fill="#c8211b"/>
<circle cx="187.5" cy="461.5" r="2.55" fill="#9a241e"/>
<circle cx="193.1" cy="461.1" r="2.55" fill="#9a241e"/>
<circle cx="194.1" cy="464.6" r="2.55" fill="#b1221c"/>
<circle cx="203.2" cy="464.6" r="2.55" fill="#83251f"/>
<circle cx="207.0" cy="464.1" r="2.55" fill="#9a241e"/>
<circle cx="214.8" cy="462.5" r="2.55" fill="#c8211b"/>
<circle cx="220.9" cy="461.8" r="2.55" fill="#9a241e"/>
<circle cx="229.7" cy="463.4" r="2.55" fill="#782620"/>
<circle cx="146.1" cy="464.1" r="2.55" fill="#782620"/>
<circle cx="161.8" cy="461.8" r="2.55" fill="#83251f"/>
<circle cx="161.8" cy="464.1" r="2.55" fill="#83251f"/>
<circle cx="175.3" cy="468.7" r="2.55" fill="#83251f"/>
<circle cx="212.0" cy="468.9" r="2.55" fill="#c8211b"/>
<circle cx="216.7" cy="469.7" r="2.55" fill="#b1221c"/>
<circle cx="214.8" cy="465.8" r="2.55" fill="#c8211b"/>
<circle cx="189.5" cy="469.7" r="2.55" fill="#b1221c"/>
<circle cx="192.3" cy="472.2" r="2.55" fill="#9a241e"/>
<circle cx="246.4" cy="469.1" r="2.55" fill="#9a241e"/>
<circle cx="149.1" cy="475.4" r="2.55" fill="#83251f"/>
<circle cx="167.7" cy="474.8" r="2.55" fill="#83251f"/>
<circle cx="179.2" cy="474.8" r="2.55" fill="#b1221c"/>
<circle cx="185.9" cy="474.7" r="2.55" fill="#c8211b"/>
<circle cx="232.2" cy="474.4" r="2.55" fill="#83251f"/>
<circle cx="238.1" cy="476.8" r="2.55" fill="#9a241e"/>
<circle cx="243.6" cy="476.8" r="2.55" fill="#b1221c"/>
<circle cx="211.7" cy="476.8" r="2.55" fill="#83251f"/>
<circle cx="213.8" cy="479.7" r="2.55" fill="#111"/>
<circle cx="225.3" cy="479.8" r="2.55" fill="#782620"/>
<circle cx="245.4" cy="480.4" r="2.55" fill="#c8211b"/>
<circle cx="143.3" cy="480.1" r="2.55" fill="#9a241e"/>
<circle cx="160.8" cy="480.6" r="2.55" fill="#782620"/>
<circle cx="173.7" cy="478.4" r="2.55" fill="#b1221c"/>
<circle cx="169.7" cy="483.7" r="2.55" fill="#c8211b"/>
<circle cx="184.5" cy="480.8" r="2.55" fill="#c8211b"/>
<circle cx="188.1" cy="479.4" r="2.55" fill="#c8211b"/>
<circle cx="189.5" cy="483.0" r="2.55" fill="#c8211b"/>
<circle cx="193.8" cy="484.7" r="2.55" fill="#c8211b"/>
<circle cx="199.5" cy="484.7" r="2.55" fill="#c8211b"/>
<circle cx="203.8" cy="482.6" r="2.55" fill="#c8211b"/>
<circle cx="205.2" cy="482.3" r="2.55" fill="#c8211b"/>
<circle cx="218.1" cy="483.7" r="2.55" fill="#9a241e"/>
<circle cx="216.7" cy="486.6" r="2.55" fill="#b1221c"/>
<circle cx="233.9" cy="486.1" r="2.55" fill="#782620"/>
<circle cx="244.7" cy="484.7" r="2.55" fill="#b1221c"/>
<circle cx="245.1" cy="487.3" r="2.55" fill="#b1221c"/>
<circle cx="143.6" cy="486.9" r="2.55" fill="#c8211b"/>
<circle cx="150.8" cy="488.0" r="2.55" fill="#c8211b"/>
<circle cx="158.0" cy="488.0" r="2.55" fill="#9a241e"/>
<circle cx="176.6" cy="486.1" r="2.55" fill="#c8211b"/>
<circle cx="175.2" cy="487.3" r="2.55" fill="#c8211b"/>
<circle cx="185.9" cy="484.4" r="2.55" fill="#c8211b"/>
<circle cx="209.5" cy="488.0" r="2.55" fill="#b1221c"/>
<circle cx="225.3" cy="488.7" r="2.55" fill="#782620"/>
<circle cx="195.2" cy="487.3" r="2.55" fill="#c8211b"/>
<circle cx="200.2" cy="487.3" r="2.55" fill="#c8211b"/>
<circle cx="146.2" cy="534.3" r="2.55" fill="#83251f"/>
<circle cx="152.5" cy="535.7" r="2.55" fill="#b1221c"/>
<circle cx="160.1" cy="534.7" r="2.55" fill="#c8211b"/>
<circle cx="165.8" cy="534.3" r="2.55" fill="#c8211b"/>
<circle cx="190.9" cy="533.6" r="2.55" fill="#9a241e"/>
<circle cx="198.1" cy="535.0" r="2.55" fill="#c8211b"/>
<circle cx="206.0" cy="533.6" r="2.55" fill="#b1221c"/>
<circle cx="214.6" cy="536.4" r="2.55" fill="#b1221c"/>
<circle cx="218.1" cy="537.9" r="2.55" fill="#9a241e"/>
<circle cx="228.2" cy="533.6" r="2.55" fill="#83251f"/>
<circle cx="240.8" cy="536.9" r="2.55" fill="#9a241e"/>
<circle cx="247.1" cy="538.2" r="2.55" fill="#9a241e"/>
<circle cx="158.2" cy="539.6" r="2.55" fill="#c8211b"/>
<circle cx="168.7" cy="537.9" r="2.55" fill="#c8211b"/>
<circle cx="173.0" cy="539.3" r="2.55" fill="#9a241e"/>
<circle cx="171.6" cy="543.2" r="2.55" fill="#b1221c"/>
<circle cx="182.3" cy="539.7" r="2.55" fill="#83251f"/>
<circle cx="193.8" cy="540.3" r="2.55" fill="#c8211b"/>
<circle cx="195.9" cy="542.2" r="2.55" fill="#b1221c"/>
<circle cx="203.4" cy="540.0" r="2.55" fill="#c8211b"/>
<circle cx="212.1" cy="543.2" r="2.55" fill="#9a241e"/>
<circle cx="233.6" cy="540.0" r="2.55" fill="#83251f"/>
<circle cx="241.4" cy="542.9" r="2.55" fill="#9a241e"/>
<circle cx="166.3" cy="548.2" r="2.55" fill="#9a241e"/>
<circle cx="178.3" cy="546.8" r="2.55" fill="#782620"/>
<circle cx="186.6" cy="549.3" r="2.55" fill="#83251f"/>
<circle cx="193.1" cy="547.2" r="2.55" fill="#b1221c"/>
<circle cx="204.8" cy="547.9" r="2.55" fill="#782620"/>
<circle cx="213.6" cy="548.9" r="2.55" fill="#9a241e"/>
<circle cx="216.7" cy="550.8" r="2.55" fill="#b1221c"/>
<circle cx="226.0" cy="549.3" r="2.55" fill="#9a241e"/>
<circle cx="228.2" cy="547.2" r="2.55" fill="#9a241e"/>
<circle cx="233.5" cy="551.9" r="2.55" fill="#9a241e"/>
<circle cx="247.2" cy="549.1" r="2.55" fill="#83251f"/>
<circle cx="150.5" cy="554.4" r="2.55" fill="#83251f"/>
<circle cx="151.9" cy="555.5" r="2.55" fill="#83251f"/>
<circle cx="168.0" cy="553.6" r="2.55" fill="#9a241e"/>
<circle cx="173.7" cy="556.1" r="2.55" fill="#9a241e"/>
<circle cx="178.0" cy="554.6" r="2.55" fill="#83251f"/>
<circle cx="190.9" cy="556.8" r="2.55" fill="#9a241e"/>
<circle cx="193.1" cy="555.4" r="2.55" fill="#b1221c"/>
<circle cx="208.1" cy="555.1" r="2.55" fill="#83251f"/>
<circle cx="208.5" cy="557.5" r="2.55" fill="#9a241e"/>
<circle cx="217.4" cy="555.4" r="2.55" fill="#9a241e"/>
<circle cx="220.0" cy="556.8" r="2.55" fill="#b1221c"/>
<circle cx="225.3" cy="555.4" r="2.55" fill="#b1221c"/>
<circle cx="232.5" cy="556.8" r="2.55" fill="#9a241e"/>
<circle cx="243.5" cy="553.4" r="2.55" fill="#83251f"/>
<circle cx="161.5" cy="558.7" r="2.55" fill="#782620"/>
<circle cx="144.6" cy="559.8" r="2.55" fill="#782620"/>
<circle cx="199.5" cy="559.4" r="2.55" fill="#9a241e"/>
<circle cx="202.4" cy="560.8" r="2.55" fill="#b1221c"/>
<circle cx="198.1" cy="560.4" r="2.55" fill="#c8211b"/>
<circle cx="153.2" cy="564.8" r="2.55" fill="#782620"/>
<circle cx="168.0" cy="564.0" r="2.55" fill="#782620"/>
<circle cx="181.3" cy="563.0" r="2.55" fill="#782620"/>
<circle cx="191.6" cy="562.5" r="2.55" fill="#c8211b"/>
<circle cx="223.6" cy="564.4" r="2.55" fill="#83251f"/>
<circle cx="245.7" cy="564.5" r="2.55" fill="#782620"/>
<circle cx="190.2" cy="568.3" r="2.55" fill="#9a241e"/>
<circle cx="188.1" cy="571.1" r="2.55" fill="#83251f"/>
<circle cx="200.2" cy="571.1" r="2.55" fill="#83251f"/>
<circle cx="221.3" cy="569.7" r="2.55" fill="#83251f"/>
<circle cx="192.6" cy="577.3" r="2.55" fill="#782620"/>
<circle cx="202.1" cy="576.6" r="2.55" fill="#83251f"/>
<circle cx="154.1" cy="579.7" r="2.55" fill="#9a241e"/>
<circle cx="160.1" cy="578.7" r="2.55" fill="#c8211b"/>
<circle cx="163.7" cy="577.3" r="2.55" fill="#c8211b"/>
<circle cx="165.8" cy="579.4" r="2.55" fill="#c8211b"/>
<circle cx="161.5" cy="580.9" r="2.55" fill="#c8211b"/>
<circle cx="159.4" cy="581.3" r="2.55" fill="#c8211b"/>
<circle cx="197.1" cy="585.9" r="2.55" fill="#782620"/>
<circle cx="216.7" cy="585.2" r="2.55" fill="#83251f"/>
<circle cx="223.6" cy="587.6" r="2.55" fill="#83251f"/>
<circle cx="168.7" cy="587.3" r="2.55" fill="#9a241e"/>
<circle cx="164.7" cy="591.6" r="2.55" fill="#9a241e"/>
<circle cx="171.6" cy="593.8" r="2.55" fill="#b1221c"/>
<circle cx="217.4" cy="593.1" r="2.55" fill="#83251f"/>
<circle cx="151.9" cy="596.3" r="2.55" fill="#782620"/>
<circle cx="207.8" cy="595.2" r="2.55" fill="#83251f"/>
<circle cx="171.1" cy="600.6" r="2.55" fill="#83251f"/>
<circle cx="193.8" cy="600.6" r="2.55" fill="#9a241e"/>
<circle cx="199.5" cy="599.5" r="2.55" fill="#9a241e"/>
<circle cx="200.2" cy="601.6" r="2.55" fill="#c8211b"/>
<circle cx="207.4" cy="601.6" r="2.55" fill="#9a241e"/>
<circle cx="221.0" cy="599.1" r="2.55" fill="#83251f"/>
<circle cx="242.1" cy="601.2" r="2.55" fill="#83251f"/>
<circle cx="165.8" cy="606.7" r="2.55" fill="#83251f"/>
<circle cx="181.9" cy="605.2" r="2.55" fill="#782620"/>
<circle cx="197.8" cy="607.1" r="2.55" fill="#83251f"/>
<circle cx="247.8" cy="605.7" r="2.55" fill="#83251f"/>
<circle cx="232.5" cy="608.5" r="2.55" fill="#782620"/>
<circle cx="171.1" cy="609.8" r="2.55" fill="#83251f"/>
<circle cx="165.8" cy="615.7" r="2.55" fill="#782620"/>
<circle cx="154.7" cy="618.8" r="2.55" fill="#782620"/>
<circle cx="218.1" cy="618.4" r="2.55" fill="#782620"/>
<circle cx="167.6" cy="623.4" r="2.55" fill="#782620"/>
<circle cx="209.3" cy="620.6" r="2.55" fill="#782620"/>
<circle cx="200.5" cy="622.7" r="2.55" fill="#782620"/>
<circle cx="185.2" cy="621.0" r="2.55" fill="#83251f"/>
<circle cx="182.3" cy="623.4" r="2.55" fill="#83251f"/>
<circle cx="233.2" cy="624.6" r="2.55" fill="#782620"/>
<circle cx="241.1" cy="623.6" r="2.55" fill="#782620"/>
<circle cx="143.6" cy="627.7" r="2.55" fill="#782620"/>
<circle cx="161.5" cy="629.6" r="2.55" fill="#83251f"/>
<circle cx="160.8" cy="632.9" r="2.55" fill="#83251f"/>
<circle cx="248.5" cy="632.0" r="2.55" fill="#782620"/>
<circle cx="229.2" cy="638.5" r="2.55" fill="#782620"/>
<circle cx="175.4" cy="641.8" r="2.55" fill="#782620"/>
<circle cx="160.8" cy="651.4" r="2.55" fill="#782620"/>
<circle cx="229.5" cy="652.5" r="2.55" fill="#782620"/>
<circle cx="166.6" cy="661.8" r="2.55" fill="#83251f"/>
<circle cx="154.1" cy="668.7" r="2.55" fill="#83251f"/>
<circle cx="175.9" cy="669.3" r="2.55" fill="#83251f"/>
<circle cx="166.3" cy="662.1" r="2.55" fill="#83251f"/>
<circle cx="154.2" cy="669.0" r="2.55" fill="#83251f"/>
<circle cx="175.9" cy="670.8" r="2.55" fill="#83251f"/>
<circle cx="187.2" cy="672.7" r="2.55" fill="#782620"/>
<circle cx="145.5" cy="683.1" r="2.55" fill="#782620"/>
<circle cx="247.8" cy="687.3" r="2.55" fill="#782620"/>
<circle cx="190.7" cy="697.1" r="2.55" fill="#83251f"/>
<circle cx="185.5" cy="701.2" r="2.55" fill="#83251f"/>
<circle cx="156.2" cy="703.5" r="2.55" fill="#782620"/>
<circle cx="377.2" cy="331.2" r="2.55" fill="#782620"/>
<circle cx="353.0" cy="351.8" r="2.55" fill="#782620"/>
<circle cx="328.2" cy="388.4" r="2.55" fill="#782620"/>
<circle cx="375.1" cy="392.8" r="2.55" fill="#782620"/>
<circle cx="296.7" cy="397.4" r="2.55" fill="#782620"/>
<circle cx="349.3" cy="403.1" r="2.55" fill="#782620"/>
<circle cx="316.5" cy="408.2" r="2.55" fill="#782620"/>
<circle cx="346.1" cy="414.2" r="2.55" fill="#782620"/>
<circle cx="294.1" cy="414.9" r="2.55" fill="#83251f"/>
<circle cx="298.4" cy="417.2" r="2.55" fill="#83251f"/>
<circle cx="279.2" cy="422.5" r="2.55" fill="#782620"/>
<circle cx="351.4" cy="422.8" r="2.55" fill="#782620"/>
<circle cx="357.3" cy="428.6" r="2.55" fill="#83251f"/>
<circle cx="345.0" cy="431.7" r="2.55" fill="#83251f"/>
<circle cx="349.7" cy="434.3" r="2.55" fill="#83251f"/>
<circle cx="357.3" cy="430.0" r="2.55" fill="#83251f"/>
<circle cx="303.9" cy="436.0" r="2.55" fill="#9a241e"/>
<circle cx="307.7" cy="436.7" r="2.55" fill="#9a241e"/>
<circle cx="286.2" cy="440.7" r="2.55" fill="#782620"/>
<circle cx="314.6" cy="441.5" r="2.55" fill="#782620"/>
<circle cx="370.2" cy="440.7" r="2.55" fill="#782620"/>
<circle cx="277.3" cy="443.3" r="2.55" fill="#782620"/>
<circle cx="304.3" cy="443.3" r="2.55" fill="#9a241e"/>
<circle cx="332.9" cy="443.9" r="2.55" fill="#782620"/>
<circle cx="347.3" cy="441.8" r="2.55" fill="#9a241e"/>
<circle cx="359.7" cy="443.6" r="2.55" fill="#782620"/>
<circle cx="351.9" cy="445.0" r="2.55" fill="#9a241e"/>
<circle cx="349.0" cy="446.8" r="2.55" fill="#b1221c"/>
<circle cx="306.7" cy="451.5" r="2.55" fill="#782620"/>
<circle cx="344.0" cy="452.6" r="2.55" fill="#782620"/>
<circle cx="351.9" cy="453.6" r="2.55" fill="#b1221c"/>
<circle cx="275.9" cy="455.1" r="2.55" fill="#83251f"/>
<circle cx="282.4" cy="457.7" r="2.55" fill="#83251f"/>
<circle cx="296.0" cy="457.9" r="2.55" fill="#782620"/>
<circle cx="303.6" cy="458.7" r="2.55" fill="#83251f"/>
<circle cx="355.4" cy="456.5" r="2.55" fill="#9a241e"/>
<circle cx="358.3" cy="457.2" r="2.55" fill="#b1221c"/>
<circle cx="365.2" cy="455.1" r="2.55" fill="#9a241e"/>
<circle cx="366.2" cy="456.5" r="2.55" fill="#9a241e"/>
<circle cx="333.5" cy="460.1" r="2.55" fill="#83251f"/>
<circle cx="330.7" cy="462.7" r="2.55" fill="#9a241e"/>
<circle cx="306.0" cy="461.5" r="2.55" fill="#9a241e"/>
<circle cx="309.6" cy="463.7" r="2.55" fill="#b1221c"/>
<circle cx="290.2" cy="464.0" r="2.55" fill="#83251f"/>
<circle cx="289.8" cy="465.8" r="2.55" fill="#83251f"/>
<circle cx="341.8" cy="464.4" r="2.55" fill="#782620"/>
<circle cx="368.6" cy="461.8" r="2.55" fill="#b1221c"/>
<circle cx="361.9" cy="464.0" r="2.55" fill="#c8211b"/>
<circle cx="366.2" cy="465.8" r="2.55" fill="#c8211b"/>
<circle cx="356.2" cy="466.3" r="2.55" fill="#c8211b"/>
<circle cx="301.7" cy="468.7" r="2.55" fill="#b1221c"/>
<circle cx="307.4" cy="469.4" r="2.55" fill="#c8211b"/>
<circle cx="313.9" cy="468.7" r="2.55" fill="#c8211b"/>
<circle cx="317.9" cy="469.0" r="2.55" fill="#83251f"/>
<circle cx="333.9" cy="468.0" r="2.55" fill="#b1221c"/>
<circle cx="331.1" cy="470.8" r="2.55" fill="#9a241e"/>
<circle cx="335.4" cy="470.8" r="2.55" fill="#9a241e"/>
<circle cx="353.3" cy="468.7" r="2.55" fill="#b1221c"/>
<circle cx="356.9" cy="469.4" r="2.55" fill="#c8211b"/>
<circle cx="375.5" cy="467.5" r="2.55" fill="#b1221c"/>
<circle cx="374.8" cy="469.4" r="2.55" fill="#c8211b"/>
<circle cx="280.9" cy="471.6" r="2.55" fill="#b1221c"/>
<circle cx="288.1" cy="473.7" r="2.55" fill="#c8211b"/>
<circle cx="295.0" cy="473.7" r="2.55" fill="#b1221c"/>
<circle cx="301.7" cy="473.7" r="2.55" fill="#c8211b"/>
<circle cx="308.2" cy="472.3" r="2.55" fill="#c8211b"/>
<circle cx="310.3" cy="474.4" r="2.55" fill="#c8211b"/>
<circle cx="366.2" cy="472.3" r="2.55" fill="#b1221c"/>
<circle cx="369.8" cy="472.3" r="2.55" fill="#c8211b"/>
<circle cx="368.3" cy="474.4" r="2.55" fill="#c8211b"/>
<circle cx="380.8" cy="472.7" r="2.55" fill="#b1221c"/>
<circle cx="356.9" cy="473.0" r="2.55" fill="#c8211b"/>
<circle cx="279.5" cy="475.9" r="2.55" fill="#c8211b"/>
<circle cx="283.1" cy="477.3" r="2.55" fill="#c8211b"/>
<circle cx="285.2" cy="479.4" r="2.55" fill="#c8211b"/>
<circle cx="293.8" cy="476.6" r="2.55" fill="#c8211b"/>
<circle cx="303.9" cy="478.7" r="2.55" fill="#c8211b"/>
<circle cx="309.6" cy="478.0" r="2.55" fill="#c8211b"/>
<circle cx="314.6" cy="478.7" r="2.55" fill="#c8211b"/>
<circle cx="320.3" cy="479.4" r="2.55" fill="#b1221c"/>
<circle cx="326.5" cy="477.3" r="2.55" fill="#9a241e"/>
<circle cx="341.8" cy="478.0" r="2.55" fill="#c8211b"/>
<circle cx="349.0" cy="476.6" r="2.55" fill="#c8211b"/>
<circle cx="356.9" cy="477.3" r="2.55" fill="#c8211b"/>
<circle cx="358.3" cy="475.9" r="2.55" fill="#b1221c"/>
<circle cx="372.6" cy="476.6" r="2.55" fill="#c8211b"/>
<circle cx="377.7" cy="478.0" r="2.55" fill="#c8211b"/>
<circle cx="369.8" cy="479.4" r="2.55" fill="#c8211b"/>
<circle cx="280.9" cy="480.2" r="2.55" fill="#c8211b"/>
<circle cx="279.5" cy="482.3" r="2.55" fill="#c8211b"/>
<circle cx="283.8" cy="483.0" r="2.55" fill="#c8211b"/>
<circle cx="288.8" cy="481.6" r="2.55" fill="#c8211b"/>
<circle cx="292.4" cy="483.7" r="2.55" fill="#c8211b"/>
<circle cx="296.7" cy="482.3" r="2.55" fill="#c8211b"/>
<circle cx="299.6" cy="485.2" r="2.55" fill="#c8211b"/>
<circle cx="306.0" cy="484.5" r="2.55" fill="#c8211b"/>
<circle cx="309.6" cy="480.9" r="2.55" fill="#c8211b"/>
<circle cx="315.3" cy="480.9" r="2.55" fill="#c8211b"/>
<circle cx="328.2" cy="484.5" r="2.55" fill="#c8211b"/>
<circle cx="332.5" cy="485.9" r="2.55" fill="#c8211b"/>
<circle cx="336.1" cy="483.7" r="2.55" fill="#c8211b"/>
<circle cx="340.4" cy="485.2" r="2.55" fill="#c8211b"/>
<circle cx="345.4" cy="481.6" r="2.55" fill="#c8211b"/>
<circle cx="349.7" cy="483.7" r="2.55" fill="#c8211b"/>
<circle cx="352.6" cy="480.9" r="2.55" fill="#c8211b"/>
<circle cx="355.4" cy="484.5" r="2.55" fill="#c8211b"/>
<circle cx="365.5" cy="483.0" r="2.55" fill="#c8211b"/>
<circle cx="369.1" cy="482.3" r="2.55" fill="#c8211b"/>
<circle cx="373.8" cy="484.0" r="2.55" fill="#111"/>
<circle cx="377.7" cy="485.2" r="2.55" fill="#c8211b"/>
<circle cx="379.8" cy="483.7" r="2.55" fill="#c8211b"/>
<circle cx="276.6" cy="487.3" r="2.55" fill="#c8211b"/>
<circle cx="281.6" cy="487.3" r="2.55" fill="#c8211b"/>
<circle cx="288.1" cy="486.6" r="2.55" fill="#c8211b"/>
<circle cx="303.9" cy="487.3" r="2.55" fill="#c8211b"/>
<circle cx="311.0" cy="487.3" r="2.55" fill="#c8211b"/>
<circle cx="321.1" cy="487.3" r="2.55" fill="#c8211b"/>
<circle cx="344.0" cy="486.6" r="2.55" fill="#c8211b"/>
<circle cx="351.1" cy="487.3" r="2.55" fill="#c8211b"/>
<circle cx="361.2" cy="488.0" r="2.55" fill="#c8211b"/>
<circle cx="371.2" cy="487.3" r="2.55" fill="#c8211b"/>
<circle cx="283.8" cy="535.0" r="2.55" fill="#9a241e"/>
<circle cx="296.7" cy="535.7" r="2.55" fill="#c8211b"/>
<circle cx="301.0" cy="535.7" r="2.55" fill="#83251f"/>
<circle cx="314.6" cy="536.4" r="2.55" fill="#c8211b"/>
<circle cx="321.1" cy="535.0" r="2.55" fill="#c8211b"/>
<circle cx="332.5" cy="535.0" r="2.55" fill="#c8211b"/>
<circle cx="345.4" cy="535.0" r="2.55" fill="#c8211b"/>
<circle cx="356.9" cy="537.2" r="2.55" fill="#9a241e"/>
<circle cx="362.6" cy="537.2" r="2.55" fill="#9a241e"/>
<circle cx="371.2" cy="535.7" r="2.55" fill="#b1221c"/>
<circle cx="378.4" cy="535.7" r="2.55" fill="#9a241e"/>
<circle cx="292.4" cy="539.3" r="2.55" fill="#c8211b"/>
<circle cx="293.8" cy="540.0" r="2.55" fill="#c8211b"/>
<circle cx="339.0" cy="538.6" r="2.55" fill="#c8211b"/>
<circle cx="341.1" cy="540.7" r="2.55" fill="#c8211b"/>
<circle cx="347.6" cy="540.0" r="2.55" fill="#c8211b"/>
<circle cx="372.6" cy="538.6" r="2.55" fill="#b1221c"/>
<circle cx="314.6" cy="540.7" r="2.55" fill="#c8211b"/>
<circle cx="318.2" cy="542.2" r="2.55" fill="#c8211b"/>
<circle cx="321.8" cy="543.6" r="2.55" fill="#c8211b"/>
<circle cx="323.9" cy="545.8" r="2.55" fill="#c8211b"/>
<circle cx="319.6" cy="545.0" r="2.55" fill="#c8211b"/>
<circle cx="312.5" cy="543.6" r="2.55" fill="#c8211b"/>
<circle cx="308.2" cy="545.8" r="2.55" fill="#b1221c"/>
<circle cx="280.2" cy="546.5" r="2.55" fill="#83251f"/>
<circle cx="288.1" cy="546.9" r="2.55" fill="#9a241e"/>
<circle cx="346.8" cy="542.9" r="2.55" fill="#c8211b"/>
<circle cx="342.5" cy="542.2" r="2.55" fill="#c8211b"/>
<circle cx="303.1" cy="547.9" r="2.55" fill="#c8211b"/>
<circle cx="306.7" cy="547.9" r="2.55" fill="#b1221c"/>
<circle cx="339.7" cy="547.9" r="2.55" fill="#9a241e"/>
<circle cx="356.9" cy="547.9" r="2.55" fill="#9a241e"/>
<circle cx="360.5" cy="547.9" r="2.55" fill="#83251f"/>
<circle cx="372.6" cy="546.5" r="2.55" fill="#83251f"/>
<circle cx="371.2" cy="549.3" r="2.55" fill="#9a241e"/>
<circle cx="275.9" cy="550.5" r="2.55" fill="#83251f"/>
<circle cx="286.7" cy="551.5" r="2.55" fill="#c8211b"/>
<circle cx="293.1" cy="551.5" r="2.55" fill="#c8211b"/>
<circle cx="298.1" cy="551.5" r="2.55" fill="#c8211b"/>
<circle cx="313.9" cy="550.8" r="2.55" fill="#83251f"/>
<circle cx="324.6" cy="548.6" r="2.55" fill="#c8211b"/>
<circle cx="328.9" cy="550.8" r="2.55" fill="#c8211b"/>
<circle cx="325.3" cy="552.9" r="2.55" fill="#c8211b"/>
<circle cx="347.6" cy="550.1" r="2.55" fill="#c8211b"/>
<circle cx="352.6" cy="550.8" r="2.55" fill="#c8211b"/>
<circle cx="346.8" cy="552.9" r="2.55" fill="#c8211b"/>
<circle cx="349.7" cy="554.4" r="2.55" fill="#c8211b"/>
<circle cx="292.4" cy="554.4" r="2.55" fill="#c8211b"/>
<circle cx="293.1" cy="556.5" r="2.55" fill="#c8211b"/>
<circle cx="302.9" cy="554.4" r="2.55" fill="#9a241e"/>
<circle cx="336.1" cy="555.5" r="2.55" fill="#83251f"/>
<circle cx="331.1" cy="557.2" r="2.55" fill="#b1221c"/>
<circle cx="372.6" cy="555.8" r="2.55" fill="#9a241e"/>
<circle cx="284.5" cy="558.7" r="2.55" fill="#9a241e"/>
<circle cx="287.4" cy="558.7" r="2.55" fill="#c8211b"/>
<circle cx="351.1" cy="557.2" r="2.55" fill="#c8211b"/>
<circle cx="356.9" cy="557.9" r="2.55" fill="#c8211b"/>
<circle cx="356.2" cy="560.8" r="2.55" fill="#c8211b"/>
<circle cx="298.8" cy="560.8" r="2.55" fill="#b1221c"/>
<circle cx="293.1" cy="562.2" r="2.55" fill="#c8211b"/>
<circle cx="292.8" cy="565.1" r="2.55" fill="#9a241e"/>
<circle cx="316.0" cy="562.2" r="2.55" fill="#83251f"/>
<circle cx="348.0" cy="563.4" r="2.55" fill="#9a241e"/>
<circle cx="353.3" cy="562.7" r="2.55" fill="#c8211b"/>
<circle cx="368.1" cy="561.2" r="2.55" fill="#c8211b"/>
<circle cx="372.6" cy="563.7" r="2.55" fill="#b1221c"/>
<circle cx="359.0" cy="565.1" r="2.55" fill="#c8211b"/>
<circle cx="364.0" cy="565.1" r="2.55" fill="#c8211b"/>
<circle cx="371.2" cy="565.8" r="2.55" fill="#c8211b"/>
<circle cx="376.2" cy="567.5" r="2.55" fill="#b1221c"/>
<circle cx="282.6" cy="567.5" r="2.55" fill="#83251f"/>
<circle cx="303.1" cy="568.4" r="2.55" fill="#9a241e"/>
<circle cx="308.9" cy="568.7" r="2.55" fill="#9a241e"/>
<circle cx="317.9" cy="567.5" r="2.55" fill="#9a241e"/>
<circle cx="333.2" cy="569.0" r="2.55" fill="#83251f"/>
<circle cx="359.0" cy="570.1" r="2.55" fill="#b1221c"/>
<circle cx="365.5" cy="568.0" r="2.55" fill="#c8211b"/>
<circle cx="282.4" cy="573.0" r="2.55" fill="#9a241e"/>
<circle cx="292.4" cy="573.0" r="2.55" fill="#83251f"/>
<circle cx="298.8" cy="574.4" r="2.55" fill="#b1221c"/>
<circle cx="314.2" cy="573.0" r="2.55" fill="#9a241e"/>
<circle cx="375.8" cy="573.7" r="2.55" fill="#9a241e"/>
<circle cx="336.8" cy="575.1" r="2.55" fill="#9a241e"/>
<circle cx="305.3" cy="576.6" r="2.55" fill="#9a241e"/>
<circle cx="282.6" cy="576.6" r="2.55" fill="#83251f"/>
<circle cx="370.1" cy="575.9" r="2.55" fill="#9a241e"/>
<circle cx="360.0" cy="579.7" r="2.55" fill="#9a241e"/>
<circle cx="365.5" cy="579.7" r="2.55" fill="#9a241e"/>
<circle cx="293.1" cy="582.7" r="2.55" fill="#782620"/>
<circle cx="306.7" cy="581.6" r="2.55" fill="#9a241e"/>
<circle cx="304.6" cy="584.2" r="2.55" fill="#83251f"/>
<circle cx="333.2" cy="581.6" r="2.55" fill="#9a241e"/>
<circle cx="360.0" cy="584.9" r="2.55" fill="#9a241e"/>
<circle cx="337.5" cy="586.3" r="2.55" fill="#83251f"/>
<circle cx="325.6" cy="591.2" r="2.55" fill="#782620"/>
<circle cx="348.0" cy="591.3" r="2.55" fill="#83251f"/>
<circle cx="341.5" cy="592.8" r="2.55" fill="#83251f"/>
<circle cx="361.5" cy="592.0" r="2.55" fill="#9a241e"/>
<circle cx="368.1" cy="589.9" r="2.55" fill="#83251f"/>
<circle cx="378.1" cy="592.0" r="2.55" fill="#83251f"/>
<circle cx="380.5" cy="595.6" r="2.55" fill="#83251f"/>
<circle cx="319.6" cy="596.2" r="2.55" fill="#782620"/>
<circle cx="287.4" cy="596.6" r="2.55" fill="#9a241e"/>
<circle cx="288.8" cy="598.8" r="2.55" fill="#9a241e"/>
<circle cx="275.2" cy="599.1" r="2.55" fill="#782620"/>
<circle cx="297.0" cy="598.8" r="2.55" fill="#9a241e"/>
<circle cx="302.1" cy="601.2" r="2.55" fill="#83251f"/>
<circle cx="288.8" cy="602.4" r="2.55" fill="#9a241e"/>
<circle cx="374.1" cy="599.8" r="2.55" fill="#782620"/>
<circle cx="296.0" cy="605.9" r="2.55" fill="#83251f"/>
<circle cx="336.5" cy="605.2" r="2.55" fill="#782620"/>
<circle cx="312.5" cy="612.0" r="2.55" fill="#782620"/>
<circle cx="299.6" cy="613.8" r="2.55" fill="#83251f"/>
<circle cx="299.8" cy="616.7" r="2.55" fill="#83251f"/>
<circle cx="371.6" cy="613.1" r="2.55" fill="#83251f"/>
<circle cx="376.9" cy="615.5" r="2.55" fill="#83251f"/>
<circle cx="359.0" cy="616.7" r="2.55" fill="#782620"/>
<circle cx="322.8" cy="618.8" r="2.55" fill="#83251f"/>
<circle cx="324.6" cy="623.9" r="2.55" fill="#83251f"/>
<circle cx="351.6" cy="621.0" r="2.55" fill="#83251f"/>
<circle cx="352.6" cy="624.6" r="2.55" fill="#83251f"/>
<circle cx="278.8" cy="626.7" r="2.55" fill="#782620"/>
<circle cx="376.2" cy="627.2" r="2.55" fill="#83251f"/>
<circle cx="380.1" cy="627.0" r="2.55" fill="#83251f"/>
<circle cx="309.3" cy="628.9" r="2.55" fill="#83251f"/>
<circle cx="312.2" cy="630.7" r="2.55" fill="#83251f"/>
<circle cx="323.5" cy="632.2" r="2.55" fill="#782620"/>
<circle cx="334.9" cy="635.8" r="2.55" fill="#782620"/>
<circle cx="306.0" cy="638.6" r="2.55" fill="#782620"/>
<circle cx="281.9" cy="645.1" r="2.55" fill="#782620"/>
<circle cx="296.4" cy="645.1" r="2.55" fill="#782620"/>
<circle cx="370.5" cy="645.8" r="2.55" fill="#782620"/>
<circle cx="336.1" cy="648.9" r="2.55" fill="#782620"/>
<circle cx="361.9" cy="652.8" r="2.55" fill="#83251f"/>
<circle cx="362.3" cy="656.1" r="2.55" fill="#83251f"/>
<circle cx="324.3" cy="655.8" r="2.55" fill="#782620"/>
<circle cx="329.6" cy="665.1" r="2.55" fill="#b1221c"/>
<circle cx="313.2" cy="668.3" r="2.55" fill="#83251f"/>
<circle cx="326.8" cy="669.0" r="2.55" fill="#b1221c"/>
<circle cx="313.2" cy="668.3" r="2.55" fill="#83251f"/>
<circle cx="329.6" cy="665.0" r="2.55" fill="#b1221c"/>
<circle cx="326.8" cy="669.7" r="2.55" fill="#b1221c"/>
<circle cx="339.2" cy="676.0" r="2.55" fill="#782620"/>
<circle cx="363.3" cy="671.8" r="2.55" fill="#782620"/>
<circle cx="374.1" cy="678.6" r="2.55" fill="#782620"/>
<circle cx="356.2" cy="681.1" r="2.55" fill="#782620"/>
<circle cx="378.1" cy="687.2" r="2.55" fill="#782620"/>
<circle cx="296.0" cy="705.9" r="2.55" fill="#782620"/>
<circle cx="452.3" cy="413.9" r="2.55" fill="#782620"/>
<circle cx="455.5" cy="425.0" r="2.55" fill="#782620"/>
<circle cx="462.7" cy="429.7" r="2.55" fill="#782620"/>
<circle cx="433.4" cy="431.0" r="2.55" fill="#782620"/>
<circle cx="493.5" cy="432.2" r="2.55" fill="#782620"/>
<circle cx="420.8" cy="434.6" r="2.55" fill="#782620"/>
<circle cx="413.6" cy="437.9" r="2.55" fill="#782620"/>
<circle cx="451.9" cy="438.6" r="2.55" fill="#782620"/>
<circle cx="459.9" cy="438.3" r="2.55" fill="#782620"/>
<circle cx="501.5" cy="437.6" r="2.55" fill="#782620"/>
<circle cx="512.1" cy="437.9" r="2.55" fill="#83251f"/>
<circle cx="489.9" cy="441.0" r="2.55" fill="#83251f"/>
<circle cx="494.2" cy="441.0" r="2.55" fill="#83251f"/>
<circle cx="514.0" cy="441.9" r="2.55" fill="#9a241e"/>
<circle cx="436.3" cy="446.5" r="2.55" fill="#782620"/>
<circle cx="502.5" cy="447.5" r="2.55" fill="#782620"/>
<circle cx="514.0" cy="446.9" r="2.55" fill="#83251f"/>
<circle cx="444.9" cy="450.8" r="2.55" fill="#83251f"/>
<circle cx="443.7" cy="454.8" r="2.55" fill="#9a241e"/>
<circle cx="438.4" cy="455.4" r="2.55" fill="#83251f"/>
<circle cx="507.9" cy="454.4" r="2.55" fill="#782620"/>
<circle cx="412.2" cy="457.7" r="2.55" fill="#83251f"/>
<circle cx="457.3" cy="456.8" r="2.55" fill="#782620"/>
<circle cx="471.0" cy="457.2" r="2.55" fill="#782620"/>
<circle cx="488.2" cy="458.2" r="2.55" fill="#83251f"/>
<circle cx="495.8" cy="457.2" r="2.55" fill="#782620"/>
<circle cx="408.6" cy="462.7" r="2.55" fill="#83251f"/>
<circle cx="487.2" cy="463.4" r="2.55" fill="#9a241e"/>
<circle cx="506.1" cy="464.7" r="2.55" fill="#83251f"/>
<circle cx="509.7" cy="464.8" r="2.55" fill="#83251f"/>
<circle cx="418.2" cy="466.8" r="2.55" fill="#83251f"/>
<circle cx="423.4" cy="466.6" r="2.55" fill="#83251f"/>
<circle cx="459.8" cy="467.6" r="2.55" fill="#782620"/>
<circle cx="472.8" cy="468.0" r="2.55" fill="#782620"/>
<circle cx="481.7" cy="467.6" r="2.55" fill="#9a241e"/>
<circle cx="481.0" cy="470.1" r="2.55" fill="#83251f"/>
<circle cx="442.7" cy="468.7" r="2.55" fill="#9a241e"/>
<circle cx="433.0" cy="470.1" r="2.55" fill="#83251f"/>
<circle cx="447.3" cy="471.6" r="2.55" fill="#c8211b"/>
<circle cx="408.6" cy="473.7" r="2.55" fill="#83251f"/>
<circle cx="413.6" cy="473.0" r="2.55" fill="#9a241e"/>
<circle cx="416.1" cy="475.9" r="2.55" fill="#9a241e"/>
<circle cx="429.4" cy="473.7" r="2.55" fill="#9a241e"/>
<circle cx="446.6" cy="474.4" r="2.55" fill="#c8211b"/>
<circle cx="450.2" cy="476.6" r="2.55" fill="#c8211b"/>
<circle cx="453.8" cy="477.3" r="2.55" fill="#9a241e"/>
<circle cx="445.9" cy="478.0" r="2.55" fill="#c8211b"/>
<circle cx="510.4" cy="475.2" r="2.55" fill="#9a241e"/>
<circle cx="514.0" cy="476.3" r="2.55" fill="#9a241e"/>
<circle cx="421.8" cy="479.5" r="2.55" fill="#c8211b"/>
<circle cx="427.0" cy="478.7" r="2.55" fill="#c8211b"/>
<circle cx="428.4" cy="481.6" r="2.55" fill="#c8211b"/>
<circle cx="424.4" cy="483.8" r="2.55" fill="#c8211b"/>
<circle cx="412.2" cy="483.0" r="2.55" fill="#83251f"/>
<circle cx="451.6" cy="482.3" r="2.55" fill="#c8211b"/>
<circle cx="452.3" cy="485.2" r="2.55" fill="#b1221c"/>
<circle cx="491.7" cy="478.3" r="2.55" fill="#9a241e"/>
<circle cx="485.3" cy="479.2" r="2.55" fill="#c8211b"/>
<circle cx="478.8" cy="481.6" r="2.55" fill="#c8211b"/>
<circle cx="482.4" cy="482.3" r="2.55" fill="#c8211b"/>
<circle cx="484.6" cy="484.5" r="2.55" fill="#c8211b"/>
<circle cx="508.2" cy="479.5" r="2.55" fill="#9a241e"/>
<circle cx="495.3" cy="484.5" r="2.55" fill="#9a241e"/>
<circle cx="469.5" cy="484.5" r="2.55" fill="#9a241e"/>
<circle cx="465.9" cy="486.6" r="2.55" fill="#83251f"/>
<circle cx="438.7" cy="487.3" r="2.55" fill="#83251f"/>
<circle cx="448.0" cy="487.6" r="2.55" fill="#c8211b"/>
<circle cx="410.8" cy="488.1" r="2.55" fill="#83251f"/>
<circle cx="423.7" cy="486.6" r="2.55" fill="#c8211b"/>
<circle cx="478.8" cy="488.1" r="2.55" fill="#c8211b"/>
<circle cx="484.6" cy="487.6" r="2.55" fill="#c8211b"/>
<circle cx="488.9" cy="488.1" r="2.55" fill="#b1221c"/>
<circle cx="506.8" cy="487.6" r="2.55" fill="#83251f"/>
<circle cx="414.4" cy="534.0" r="2.55" fill="#b1221c"/>
<circle cx="420.1" cy="534.3" r="2.55" fill="#9a241e"/>
<circle cx="433.0" cy="536.4" r="2.55" fill="#83251f"/>
<circle cx="437.3" cy="535.0" r="2.55" fill="#83251f"/>
<circle cx="453.8" cy="535.0" r="2.55" fill="#b1221c"/>
<circle cx="474.5" cy="536.4" r="2.55" fill="#9a241e"/>
<circle cx="478.8" cy="537.2" r="2.55" fill="#9a241e"/>
<circle cx="503.2" cy="535.7" r="2.55" fill="#b1221c"/>
<circle cx="413.6" cy="540.7" r="2.55" fill="#83251f"/>
<circle cx="448.8" cy="539.3" r="2.55" fill="#9a241e"/>
<circle cx="450.2" cy="540.0" r="2.55" fill="#9a241e"/>
<circle cx="466.7" cy="540.0" r="2.55" fill="#9a241e"/>
<circle cx="473.1" cy="540.3" r="2.55" fill="#c8211b"/>
<circle cx="494.3" cy="540.7" r="2.55" fill="#83251f"/>
<circle cx="499.6" cy="540.7" r="2.55" fill="#b1221c"/>
<circle cx="504.6" cy="541.8" r="2.55" fill="#b1221c"/>
<circle cx="509.2" cy="539.3" r="2.55" fill="#b1221c"/>
<circle cx="438.3" cy="542.6" r="2.55" fill="#83251f"/>
<circle cx="437.3" cy="545.8" r="2.55" fill="#9a241e"/>
<circle cx="431.3" cy="548.6" r="2.55" fill="#83251f"/>
<circle cx="469.5" cy="545.8" r="2.55" fill="#c8211b"/>
<circle cx="473.8" cy="545.0" r="2.55" fill="#b1221c"/>
<circle cx="478.8" cy="547.2" r="2.55" fill="#c8211b"/>
<circle cx="484.9" cy="546.0" r="2.55" fill="#b1221c"/>
<circle cx="466.7" cy="548.2" r="2.55" fill="#9a241e"/>
<circle cx="412.2" cy="551.1" r="2.55" fill="#782620"/>
<circle cx="453.1" cy="551.9" r="2.55" fill="#782620"/>
<circle cx="464.5" cy="553.6" r="2.55" fill="#b1221c"/>
<circle cx="463.1" cy="555.1" r="2.55" fill="#9a241e"/>
<circle cx="478.8" cy="552.2" r="2.55" fill="#9a241e"/>
<circle cx="483.9" cy="552.6" r="2.55" fill="#c8211b"/>
<circle cx="488.6" cy="551.5" r="2.55" fill="#c8211b"/>
<circle cx="487.4" cy="556.5" r="2.55" fill="#b1221c"/>
<circle cx="488.2" cy="558.7" r="2.55" fill="#c8211b"/>
<circle cx="442.0" cy="558.2" r="2.55" fill="#782620"/>
<circle cx="468.1" cy="559.7" r="2.55" fill="#9a241e"/>
<circle cx="499.9" cy="557.2" r="2.55" fill="#782620"/>
<circle cx="514.0" cy="563.2" r="2.55" fill="#782620"/>
<circle cx="489.9" cy="565.4" r="2.55" fill="#83251f"/>
<circle cx="412.9" cy="567.0" r="2.55" fill="#782620"/>
<circle cx="421.2" cy="569.4" r="2.55" fill="#782620"/>
<circle cx="505.8" cy="568.7" r="2.55" fill="#83251f"/>
<circle cx="512.8" cy="570.8" r="2.55" fill="#83251f"/>
<circle cx="495.8" cy="571.3" r="2.55" fill="#782620"/>
<circle cx="468.1" cy="570.6" r="2.55" fill="#9a241e"/>
<circle cx="469.1" cy="573.0" r="2.55" fill="#9a241e"/>
<circle cx="468.8" cy="575.9" r="2.55" fill="#9a241e"/>
<circle cx="409.1" cy="580.4" r="2.55" fill="#782620"/>
<circle cx="419.1" cy="589.5" r="2.55" fill="#782620"/>
<circle cx="440.2" cy="589.5" r="2.55" fill="#782620"/>
<circle cx="416.8" cy="604.9" r="2.55" fill="#782620"/>
<circle cx="424.4" cy="609.2" r="2.55" fill="#782620"/>
<circle cx="472.0" cy="617.0" r="2.55" fill="#782620"/>
<circle cx="543.3" cy="376.0" r="2.55" fill="#782620"/>
<circle cx="556.0" cy="371.7" r="2.55" fill="#782620"/>
<circle cx="553.1" cy="382.0" r="2.55" fill="#782620"/>
<circle cx="607.5" cy="394.2" r="2.55" fill="#782620"/>
<circle cx="633.6" cy="391.1" r="2.55" fill="#782620"/>
<circle cx="590.3" cy="409.7" r="2.55" fill="#782620"/>
<circle cx="575.6" cy="413.9" r="2.55" fill="#782620"/>
<circle cx="599.9" cy="417.9" r="2.55" fill="#83251f"/>
<circle cx="596.8" cy="422.6" r="2.55" fill="#9a241e"/>
<circle cx="597.1" cy="425.8" r="2.55" fill="#83251f"/>
<circle cx="623.7" cy="421.9" r="2.55" fill="#782620"/>
<circle cx="545.2" cy="426.5" r="2.55" fill="#782620"/>
<circle cx="546.9" cy="434.1" r="2.55" fill="#782620"/>
<circle cx="579.3" cy="442.7" r="2.55" fill="#782620"/>
<circle cx="625.5" cy="443.0" r="2.55" fill="#782620"/>
<circle cx="635.2" cy="442.6" r="2.55" fill="#782620"/>
<circle cx="644.4" cy="442.7" r="2.55" fill="#83251f"/>
<circle cx="645.8" cy="445.6" r="2.55" fill="#83251f"/>
<circle cx="551.2" cy="446.3" r="2.55" fill="#9a241e"/>
<circle cx="553.8" cy="448.7" r="2.55" fill="#b1221c"/>
<circle cx="556.7" cy="451.3" r="2.55" fill="#c8211b"/>
<circle cx="559.5" cy="451.9" r="2.55" fill="#b1221c"/>
<circle cx="591.4" cy="450.6" r="2.55" fill="#83251f"/>
<circle cx="597.9" cy="448.4" r="2.55" fill="#b1221c"/>
<circle cx="603.5" cy="449.0" r="2.55" fill="#b1221c"/>
<circle cx="619.4" cy="449.9" r="2.55" fill="#782620"/>
<circle cx="633.3" cy="451.9" r="2.55" fill="#782620"/>
<circle cx="599.9" cy="454.2" r="2.55" fill="#c8211b"/>
<circle cx="604.7" cy="456.3" r="2.55" fill="#c8211b"/>
<circle cx="596.8" cy="456.6" r="2.55" fill="#b1221c"/>
<circle cx="646.2" cy="456.3" r="2.55" fill="#83251f"/>
<circle cx="542.6" cy="458.5" r="2.55" fill="#782620"/>
<circle cx="554.8" cy="457.3" r="2.55" fill="#b1221c"/>
<circle cx="554.5" cy="460.9" r="2.55" fill="#b1221c"/>
<circle cx="572.4" cy="457.7" r="2.55" fill="#9a241e"/>
<circle cx="571.0" cy="460.9" r="2.55" fill="#c8211b"/>
<circle cx="578.2" cy="460.2" r="2.55" fill="#b1221c"/>
<circle cx="587.5" cy="458.8" r="2.55" fill="#b1221c"/>
<circle cx="588.9" cy="461.6" r="2.55" fill="#b1221c"/>
<circle cx="593.2" cy="459.5" r="2.55" fill="#c8211b"/>
<circle cx="591.8" cy="463.8" r="2.55" fill="#b1221c"/>
<circle cx="564.1" cy="461.9" r="2.55" fill="#b1221c"/>
<circle cx="620.4" cy="458.8" r="2.55" fill="#83251f"/>
<circle cx="621.9" cy="461.6" r="2.55" fill="#9a241e"/>
<circle cx="639.8" cy="459.5" r="2.55" fill="#b1221c"/>
<circle cx="638.8" cy="461.9" r="2.55" fill="#9a241e"/>
<circle cx="634.5" cy="461.9" r="2.55" fill="#9a241e"/>
<circle cx="610.0" cy="461.3" r="2.55" fill="#c8211b"/>
<circle cx="601.1" cy="462.6" r="2.55" fill="#b1221c"/>
<circle cx="604.0" cy="463.8" r="2.55" fill="#c8211b"/>
<circle cx="615.4" cy="464.8" r="2.55" fill="#c8211b"/>
<circle cx="610.4" cy="466.6" r="2.55" fill="#b1221c"/>
<circle cx="575.3" cy="465.2" r="2.55" fill="#b1221c"/>
<circle cx="575.3" cy="469.5" r="2.55" fill="#9a241e"/>
<circle cx="552.4" cy="465.9" r="2.55" fill="#b1221c"/>
<circle cx="556.7" cy="466.6" r="2.55" fill="#c8211b"/>
<circle cx="561.7" cy="466.6" r="2.55" fill="#c8211b"/>
<circle cx="566.0" cy="467.3" r="2.55" fill="#b1221c"/>
<circle cx="563.1" cy="470.2" r="2.55" fill="#c8211b"/>
<circle cx="548.8" cy="469.5" r="2.55" fill="#83251f"/>
<circle cx="602.2" cy="471.6" r="2.55" fill="#83251f"/>
<circle cx="617.1" cy="470.2" r="2.55" fill="#b1221c"/>
<circle cx="623.7" cy="470.9" r="2.55" fill="#9a241e"/>
<circle cx="624.3" cy="473.8" r="2.55" fill="#9a241e"/>
<circle cx="612.6" cy="474.1" r="2.55" fill="#9a241e"/>
<circle cx="600.4" cy="476.7" r="2.55" fill="#83251f"/>
<circle cx="576.0" cy="473.8" r="2.55" fill="#9a241e"/>
<circle cx="576.7" cy="478.8" r="2.55" fill="#b1221c"/>
<circle cx="592.2" cy="475.5" r="2.55" fill="#9a241e"/>
<circle cx="591.8" cy="478.8" r="2.55" fill="#b1221c"/>
<circle cx="553.8" cy="475.2" r="2.55" fill="#b1221c"/>
<circle cx="558.1" cy="475.2" r="2.55" fill="#c8211b"/>
<circle cx="554.2" cy="478.1" r="2.55" fill="#c8211b"/>
<circle cx="558.8" cy="478.1" r="2.55" fill="#c8211b"/>
<circle cx="564.6" cy="477.7" r="2.55" fill="#b1221c"/>
<circle cx="545.9" cy="476.7" r="2.55" fill="#83251f"/>
<circle cx="543.8" cy="479.5" r="2.55" fill="#9a241e"/>
<circle cx="586.1" cy="481.2" r="2.55" fill="#c8211b"/>
<circle cx="590.3" cy="482.0" r="2.55" fill="#c8211b"/>
<circle cx="574.6" cy="482.4" r="2.55" fill="#9a241e"/>
<circle cx="577.5" cy="483.1" r="2.55" fill="#c8211b"/>
<circle cx="616.9" cy="479.5" r="2.55" fill="#c8211b"/>
<circle cx="626.2" cy="478.8" r="2.55" fill="#b1221c"/>
<circle cx="643.1" cy="479.5" r="2.55" fill="#83251f"/>
<circle cx="622.3" cy="483.1" r="2.55" fill="#c8211b"/>
<circle cx="628.3" cy="484.5" r="2.55" fill="#c8211b"/>
<circle cx="636.2" cy="484.5" r="2.55" fill="#c8211b"/>
<circle cx="551.7" cy="484.5" r="2.55" fill="#c8211b"/>
<circle cx="557.8" cy="485.3" r="2.55" fill="#c8211b"/>
<circle cx="565.7" cy="484.8" r="2.55" fill="#c8211b"/>
<circle cx="582.5" cy="486.0" r="2.55" fill="#c8211b"/>
<circle cx="587.1" cy="485.5" r="2.55" fill="#111"/>
<circle cx="604.7" cy="484.5" r="2.55" fill="#b1221c"/>
<circle cx="614.7" cy="485.3" r="2.55" fill="#c8211b"/>
<circle cx="545.9" cy="487.4" r="2.55" fill="#c8211b"/>
<circle cx="561.7" cy="487.7" r="2.55" fill="#c8211b"/>
<circle cx="568.9" cy="487.7" r="2.55" fill="#b1221c"/>
<circle cx="602.5" cy="487.7" r="2.55" fill="#b1221c"/>
<circle cx="606.8" cy="487.4" r="2.55" fill="#b1221c"/>
<circle cx="611.8" cy="487.7" r="2.55" fill="#c8211b"/>
<circle cx="619.0" cy="487.7" r="2.55" fill="#c8211b"/>
<circle cx="630.5" cy="487.0" r="2.55" fill="#111"/>
<circle cx="634.8" cy="487.7" r="2.55" fill="#c8211b"/>
<circle cx="641.9" cy="487.4" r="2.55" fill="#c8211b"/>
<circle cx="646.2" cy="486.7" r="2.55" fill="#b1221c"/>
<circle cx="558.8" cy="536.4" r="2.55" fill="#c8211b"/>
<circle cx="563.1" cy="535.7" r="2.55" fill="#c8211b"/>
<circle cx="576.0" cy="535.0" r="2.55" fill="#9a241e"/>
<circle cx="580.3" cy="537.2" r="2.55" fill="#b1221c"/>
<circle cx="583.9" cy="536.4" r="2.55" fill="#83251f"/>
<circle cx="594.6" cy="537.2" r="2.55" fill="#9a241e"/>
<circle cx="591.8" cy="540.7" r="2.55" fill="#9a241e"/>
<circle cx="590.3" cy="542.9" r="2.55" fill="#b1221c"/>
<circle cx="573.9" cy="539.3" r="2.55" fill="#b1221c"/>
<circle cx="573.2" cy="542.2" r="2.55" fill="#9a241e"/>
<circle cx="561.0" cy="541.2" r="2.55" fill="#b1221c"/>
<circle cx="565.3" cy="543.6" r="2.55" fill="#9a241e"/>
<circle cx="544.5" cy="543.6" r="2.55" fill="#782620"/>
<circle cx="626.2" cy="540.7" r="2.55" fill="#c8211b"/>
<circle cx="623.3" cy="543.6" r="2.55" fill="#9a241e"/>
<circle cx="626.9" cy="545.8" r="2.55" fill="#c8211b"/>
<circle cx="632.6" cy="542.9" r="2.55" fill="#c8211b"/>
<circle cx="636.9" cy="546.5" r="2.55" fill="#b1221c"/>
<circle cx="632.6" cy="548.6" r="2.55" fill="#b1221c"/>
<circle cx="639.1" cy="539.3" r="2.55" fill="#c8211b"/>
<circle cx="642.7" cy="540.7" r="2.55" fill="#c8211b"/>
<circle cx="646.2" cy="537.9" r="2.55" fill="#c8211b"/>
<circle cx="641.9" cy="537.9" r="2.55" fill="#c8211b"/>
<circle cx="647.7" cy="539.3" r="2.55" fill="#c8211b"/>
<circle cx="551.7" cy="549.3" r="2.55" fill="#83251f"/>
<circle cx="554.5" cy="551.5" r="2.55" fill="#83251f"/>
<circle cx="567.9" cy="549.3" r="2.55" fill="#83251f"/>
<circle cx="576.7" cy="547.9" r="2.55" fill="#9a241e"/>
<circle cx="582.0" cy="549.8" r="2.55" fill="#83251f"/>
<circle cx="592.5" cy="550.1" r="2.55" fill="#83251f"/>
<circle cx="606.5" cy="547.9" r="2.55" fill="#83251f"/>
<circle cx="609.7" cy="550.1" r="2.55" fill="#9a241e"/>
<circle cx="599.9" cy="553.2" r="2.55" fill="#782620"/>
<circle cx="609.0" cy="556.2" r="2.55" fill="#83251f"/>
<circle cx="626.5" cy="553.4" r="2.55" fill="#782620"/>
<circle cx="645.1" cy="554.4" r="2.55" fill="#782620"/>
<circle cx="542.6" cy="558.4" r="2.55" fill="#83251f"/>
<circle cx="549.1" cy="561.1" r="2.55" fill="#83251f"/>
<circle cx="561.7" cy="556.5" r="2.55" fill="#83251f"/>
<circle cx="563.1" cy="557.9" r="2.55" fill="#83251f"/>
<circle cx="586.1" cy="559.1" r="2.55" fill="#782620"/>
<circle cx="630.5" cy="560.8" r="2.55" fill="#782620"/>
<circle cx="640.2" cy="560.8" r="2.55" fill="#9a241e"/>
<circle cx="643.4" cy="564.1" r="2.55" fill="#9a241e"/>
<circle cx="645.8" cy="564.1" r="2.55" fill="#9a241e"/>
<circle cx="588.2" cy="566.8" r="2.55" fill="#782620"/>
<circle cx="620.9" cy="569.1" r="2.55" fill="#782620"/>
<circle cx="546.9" cy="572.6" r="2.55" fill="#782620"/>
<circle cx="586.1" cy="575.1" r="2.55" fill="#83251f"/>
<circle cx="592.9" cy="576.6" r="2.55" fill="#83251f"/>
<circle cx="557.4" cy="578.0" r="2.55" fill="#9a241e"/>
<circle cx="559.1" cy="580.9" r="2.55" fill="#9a241e"/>
<circle cx="560.5" cy="583.7" r="2.55" fill="#9a241e"/>
<circle cx="624.0" cy="578.7" r="2.55" fill="#782620"/>
<circle cx="606.8" cy="581.6" r="2.55" fill="#83251f"/>
<circle cx="609.7" cy="581.3" r="2.55" fill="#83251f"/>
<circle cx="643.7" cy="582.7" r="2.55" fill="#782620"/>
<circle cx="579.9" cy="587.3" r="2.55" fill="#782620"/>
<circle cx="591.5" cy="587.7" r="2.55" fill="#83251f"/>
<circle cx="594.6" cy="592.0" r="2.55" fill="#83251f"/>
<circle cx="617.1" cy="587.7" r="2.55" fill="#782620"/>
<circle cx="634.1" cy="589.9" r="2.55" fill="#83251f"/>
<circle cx="632.6" cy="591.6" r="2.55" fill="#83251f"/>
<circle cx="580.0" cy="597.3" r="2.55" fill="#83251f"/>
<circle cx="576.0" cy="603.1" r="2.55" fill="#83251f"/>
<circle cx="610.8" cy="604.8" r="2.55" fill="#782620"/>
<circle cx="644.5" cy="605.9" r="2.55" fill="#782620"/>
<circle cx="632.2" cy="607.4" r="2.55" fill="#83251f"/>
<circle cx="632.2" cy="609.5" r="2.55" fill="#83251f"/>
<circle cx="597.5" cy="621.7" r="2.55" fill="#782620"/>
<circle cx="588.5" cy="625.7" r="2.55" fill="#782620"/>
<circle cx="640.8" cy="629.3" r="2.55" fill="#782620"/>
<circle cx="620.4" cy="628.2" r="2.55" fill="#83251f"/>
<circle cx="619.7" cy="634.2" r="2.55" fill="#83251f"/>
<circle cx="557.4" cy="650.7" r="2.55" fill="#782620"/>
<circle cx="695.8" cy="353.0" r="2.55" fill="#782620"/>
<circle cx="742.0" cy="354.0" r="2.55" fill="#782620"/>
<circle cx="760.6" cy="354.1" r="2.55" fill="#782620"/>
<circle cx="681.8" cy="363.4" r="2.55" fill="#782620"/>
<circle cx="686.8" cy="392.8" r="2.55" fill="#782620"/>
<circle cx="721.6" cy="388.5" r="2.55" fill="#83251f"/>
<circle cx="719.8" cy="391.6" r="2.55" fill="#83251f"/>
<circle cx="711.2" cy="407.4" r="2.55" fill="#782620"/>
<circle cx="701.1" cy="411.4" r="2.55" fill="#83251f"/>
<circle cx="696.6" cy="413.6" r="2.55" fill="#83251f"/>
<circle cx="689.7" cy="417.0" r="2.55" fill="#83251f"/>
<circle cx="677.1" cy="417.4" r="2.55" fill="#83251f"/>
<circle cx="683.2" cy="418.9" r="2.55" fill="#9a241e"/>
<circle cx="764.5" cy="418.9" r="2.55" fill="#782620"/>
<circle cx="683.2" cy="426.5" r="2.55" fill="#782620"/>
<circle cx="713.3" cy="424.2" r="2.55" fill="#83251f"/>
<circle cx="720.2" cy="427.0" r="2.55" fill="#83251f"/>
<circle cx="741.5" cy="428.2" r="2.55" fill="#83251f"/>
<circle cx="746.7" cy="427.8" r="2.55" fill="#9a241e"/>
<circle cx="733.4" cy="431.5" r="2.55" fill="#782620"/>
<circle cx="749.9" cy="432.9" r="2.55" fill="#83251f"/>
<circle cx="763.5" cy="435.6" r="2.55" fill="#782620"/>
<circle cx="773.9" cy="438.5" r="2.55" fill="#782620"/>
<circle cx="681.1" cy="437.5" r="2.55" fill="#9a241e"/>
<circle cx="679.6" cy="441.8" r="2.55" fill="#b1221c"/>
<circle cx="682.5" cy="442.5" r="2.55" fill="#b1221c"/>
<circle cx="705.7" cy="439.2" r="2.55" fill="#9a241e"/>
<circle cx="757.3" cy="441.4" r="2.55" fill="#9a241e"/>
<circle cx="731.9" cy="442.1" r="2.55" fill="#782620"/>
<circle cx="720.5" cy="442.9" r="2.55" fill="#9a241e"/>
<circle cx="719.8" cy="446.1" r="2.55" fill="#b1221c"/>
<circle cx="701.9" cy="445.1" r="2.55" fill="#c8211b"/>
<circle cx="707.9" cy="446.4" r="2.55" fill="#c8211b"/>
<circle cx="742.4" cy="446.1" r="2.55" fill="#83251f"/>
<circle cx="762.5" cy="446.1" r="2.55" fill="#9a241e"/>
<circle cx="678.9" cy="448.2" r="2.55" fill="#9a241e"/>
<circle cx="701.9" cy="445.7" r="2.55" fill="#b1221c"/>
<circle cx="707.9" cy="446.4" r="2.55" fill="#b1221c"/>
<circle cx="719.8" cy="446.1" r="2.55" fill="#b1221c"/>
<circle cx="717.9" cy="450.0" r="2.55" fill="#b1221c"/>
<circle cx="742.4" cy="446.4" r="2.55" fill="#9a241e"/>
<circle cx="762.5" cy="446.1" r="2.55" fill="#9a241e"/>
<circle cx="777.1" cy="447.6" r="2.55" fill="#782620"/>
<circle cx="744.1" cy="453.6" r="2.55" fill="#9a241e"/>
<circle cx="705.4" cy="456.2" r="2.55" fill="#782620"/>
<circle cx="719.5" cy="455.7" r="2.55" fill="#9a241e"/>
<circle cx="769.2" cy="456.9" r="2.55" fill="#83251f"/>
<circle cx="694.0" cy="458.9" r="2.55" fill="#782620"/>
<circle cx="739.1" cy="458.9" r="2.55" fill="#83251f"/>
<circle cx="682.5" cy="460.8" r="2.55" fill="#782620"/>
<circle cx="755.9" cy="461.5" r="2.55" fill="#83251f"/>
<circle cx="772.1" cy="462.9" r="2.55" fill="#9a241e"/>
<circle cx="718.3" cy="460.8" r="2.55" fill="#9a241e"/>
<circle cx="721.9" cy="463.6" r="2.55" fill="#9a241e"/>
<circle cx="732.7" cy="464.8" r="2.55" fill="#83251f"/>
<circle cx="709.7" cy="466.2" r="2.55" fill="#83251f"/>
<circle cx="694.7" cy="467.2" r="2.55" fill="#9a241e"/>
<circle cx="701.1" cy="465.8" r="2.55" fill="#b1221c"/>
<circle cx="726.2" cy="466.5" r="2.55" fill="#b1221c"/>
<circle cx="726.2" cy="470.1" r="2.55" fill="#9a241e"/>
<circle cx="739.8" cy="467.9" r="2.55" fill="#9a241e"/>
<circle cx="742.7" cy="469.4" r="2.55" fill="#9a241e"/>
<circle cx="747.0" cy="467.9" r="2.55" fill="#111"/>
<circle cx="754.9" cy="466.5" r="2.55" fill="#9a241e"/>
<circle cx="754.9" cy="470.8" r="2.55" fill="#9a241e"/>
<circle cx="767.8" cy="467.2" r="2.55" fill="#c8211b"/>
<circle cx="767.8" cy="470.1" r="2.55" fill="#c8211b"/>
<circle cx="780.4" cy="467.9" r="2.55" fill="#83251f"/>
<circle cx="780.0" cy="471.5" r="2.55" fill="#9a241e"/>
<circle cx="677.5" cy="468.6" r="2.55" fill="#83251f"/>
<circle cx="675.3" cy="472.2" r="2.55" fill="#83251f"/>
<circle cx="704.7" cy="469.4" r="2.55" fill="#c8211b"/>
<circle cx="698.3" cy="470.1" r="2.55" fill="#c8211b"/>
<circle cx="699.0" cy="473.7" r="2.55" fill="#b1221c"/>
<circle cx="761.3" cy="470.8" r="2.55" fill="#c8211b"/>
<circle cx="764.9" cy="473.7" r="2.55" fill="#c8211b"/>
<circle cx="769.2" cy="474.4" r="2.55" fill="#c8211b"/>
<circle cx="682.8" cy="475.5" r="2.55" fill="#83251f"/>
<circle cx="690.0" cy="477.2" r="2.55" fill="#9a241e"/>
<circle cx="699.0" cy="477.2" r="2.55" fill="#b1221c"/>
<circle cx="709.7" cy="474.4" r="2.55" fill="#b1221c"/>
<circle cx="713.3" cy="476.5" r="2.55" fill="#c8211b"/>
<circle cx="717.6" cy="475.8" r="2.55" fill="#c8211b"/>
<circle cx="722.6" cy="475.1" r="2.55" fill="#b1221c"/>
<circle cx="773.5" cy="475.8" r="2.55" fill="#b1221c"/>
<circle cx="777.8" cy="477.2" r="2.55" fill="#c8211b"/>
<circle cx="730.5" cy="478.7" r="2.55" fill="#b1221c"/>
<circle cx="734.8" cy="479.4" r="2.55" fill="#c8211b"/>
<circle cx="742.0" cy="477.2" r="2.55" fill="#c8211b"/>
<circle cx="744.8" cy="479.4" r="2.55" fill="#c8211b"/>
<circle cx="750.6" cy="478.7" r="2.55" fill="#c8211b"/>
<circle cx="757.7" cy="478.0" r="2.55" fill="#c8211b"/>
<circle cx="761.3" cy="478.7" r="2.55" fill="#c8211b"/>
<circle cx="775.7" cy="479.4" r="2.55" fill="#b1221c"/>
<circle cx="779.2" cy="481.5" r="2.55" fill="#c8211b"/>
<circle cx="713.3" cy="480.8" r="2.55" fill="#c8211b"/>
<circle cx="719.1" cy="481.5" r="2.55" fill="#c8211b"/>
<circle cx="726.9" cy="481.5" r="2.55" fill="#c8211b"/>
<circle cx="681.8" cy="483.0" r="2.55" fill="#c8211b"/>
<circle cx="676.1" cy="484.4" r="2.55" fill="#b1221c"/>
<circle cx="692.5" cy="483.0" r="2.55" fill="#c8211b"/>
<circle cx="694.7" cy="485.8" r="2.55" fill="#c8211b"/>
<circle cx="699.0" cy="483.7" r="2.55" fill="#c8211b"/>
<circle cx="700.4" cy="486.6" r="2.55" fill="#c8211b"/>
<circle cx="707.6" cy="485.1" r="2.55" fill="#c8211b"/>
<circle cx="719.1" cy="485.1" r="2.55" fill="#c8211b"/>
<circle cx="731.9" cy="485.1" r="2.55" fill="#c8211b"/>
<circle cx="736.2" cy="484.4" r="2.55" fill="#c8211b"/>
<circle cx="742.0" cy="483.7" r="2.55" fill="#c8211b"/>
<circle cx="747.7" cy="484.4" r="2.55" fill="#c8211b"/>
<circle cx="750.6" cy="485.8" r="2.55" fill="#c8211b"/>
<circle cx="744.8" cy="486.6" r="2.55" fill="#c8211b"/>
<circle cx="752.0" cy="483.0" r="2.55" fill="#c8211b"/>
<circle cx="758.5" cy="486.6" r="2.55" fill="#c8211b"/>
<circle cx="690.4" cy="486.6" r="2.55" fill="#c8211b"/>
<circle cx="677.5" cy="487.3" r="2.55" fill="#c8211b"/>
<circle cx="714.0" cy="487.3" r="2.55" fill="#c8211b"/>
<circle cx="739.8" cy="487.3" r="2.55" fill="#c8211b"/>
<circle cx="770.6" cy="487.3" r="2.55" fill="#c8211b"/>
<circle cx="779.2" cy="487.3" r="2.55" fill="#b1221c"/>
<circle cx="763.5" cy="488.0" r="2.55" fill="#c8211b"/>
<circle cx="703.3" cy="487.7" r="2.55" fill="#c8211b"/>
<circle cx="724.8" cy="487.7" r="2.55" fill="#c8211b"/>
<circle cx="678.9" cy="535.7" r="2.55" fill="#9a241e"/>
<circle cx="692.5" cy="536.4" r="2.55" fill="#9a241e"/>
<circle cx="695.4" cy="535.7" r="2.55" fill="#b1221c"/>
<circle cx="703.3" cy="535.0" r="2.55" fill="#9a241e"/>
<circle cx="711.9" cy="535.0" r="2.55" fill="#9a241e"/>
<circle cx="726.2" cy="535.7" r="2.55" fill="#c8211b"/>
<circle cx="727.6" cy="538.6" r="2.55" fill="#c8211b"/>
<circle cx="739.8" cy="538.6" r="2.55" fill="#b1221c"/>
<circle cx="751.3" cy="538.6" r="2.55" fill="#b1221c"/>
<circle cx="756.3" cy="535.7" r="2.55" fill="#c8211b"/>
<circle cx="759.9" cy="537.2" r="2.55" fill="#9a241e"/>
<circle cx="762.0" cy="539.3" r="2.55" fill="#c8211b"/>
<circle cx="770.6" cy="535.7" r="2.55" fill="#9a241e"/>
<circle cx="771.4" cy="540.0" r="2.55" fill="#b1221c"/>
<circle cx="681.1" cy="540.7" r="2.55" fill="#9a241e"/>
<circle cx="681.1" cy="545.8" r="2.55" fill="#83251f"/>
<circle cx="697.6" cy="540.7" r="2.55" fill="#b1221c"/>
<circle cx="706.2" cy="539.3" r="2.55" fill="#c8211b"/>
<circle cx="702.6" cy="543.6" r="2.55" fill="#9a241e"/>
<circle cx="713.3" cy="540.0" r="2.55" fill="#b1221c"/>
<circle cx="716.9" cy="542.2" r="2.55" fill="#9a241e"/>
<circle cx="736.2" cy="542.9" r="2.55" fill="#b1221c"/>
<circle cx="742.0" cy="544.3" r="2.55" fill="#b1221c"/>
<circle cx="756.7" cy="544.3" r="2.55" fill="#83251f"/>
<circle cx="766.8" cy="543.3" r="2.55" fill="#b1221c"/>
<circle cx="772.8" cy="545.0" r="2.55" fill="#b1221c"/>
<circle cx="772.8" cy="547.9" r="2.55" fill="#9a241e"/>
<circle cx="728.1" cy="548.2" r="2.55" fill="#782620"/>
<circle cx="709.0" cy="548.6" r="2.55" fill="#9a241e"/>
<circle cx="712.6" cy="550.1" r="2.55" fill="#9a241e"/>
<circle cx="713.0" cy="553.4" r="2.55" fill="#9a241e"/>
<circle cx="737.0" cy="551.5" r="2.55" fill="#782620"/>
<circle cx="745.6" cy="547.9" r="2.55" fill="#9a241e"/>
<circle cx="748.9" cy="551.5" r="2.55" fill="#9a241e"/>
<circle cx="752.0" cy="552.9" r="2.55" fill="#b1221c"/>
<circle cx="758.5" cy="553.4" r="2.55" fill="#b1221c"/>
<circle cx="756.3" cy="557.2" r="2.55" fill="#9a241e"/>
<circle cx="768.5" cy="553.6" r="2.55" fill="#b1221c"/>
<circle cx="765.2" cy="556.5" r="2.55" fill="#b1221c"/>
<circle cx="772.1" cy="558.2" r="2.55" fill="#b1221c"/>
<circle cx="691.1" cy="556.8" r="2.55" fill="#83251f"/>
<circle cx="693.5" cy="559.1" r="2.55" fill="#83251f"/>
<circle cx="747.0" cy="559.4" r="2.55" fill="#782620"/>
<circle cx="709.7" cy="562.7" r="2.55" fill="#782620"/>
<circle cx="717.3" cy="564.1" r="2.55" fill="#83251f"/>
<circle cx="720.5" cy="563.2" r="2.55" fill="#83251f"/>
<circle cx="754.2" cy="564.7" r="2.55" fill="#83251f"/>
<circle cx="751.0" cy="567.3" r="2.55" fill="#9a241e"/>
<circle cx="761.8" cy="565.4" r="2.55" fill="#782620"/>
<circle cx="773.5" cy="564.7" r="2.55" fill="#83251f"/>
<circle cx="744.6" cy="568.3" r="2.55" fill="#83251f"/>
<circle cx="684.7" cy="574.1" r="2.55" fill="#782620"/>
<circle cx="715.2" cy="580.4" r="2.55" fill="#782620"/>
<circle cx="767.3" cy="580.4" r="2.55" fill="#782620"/>
<circle cx="675.1" cy="583.4" r="2.55" fill="#782620"/>
<circle cx="737.7" cy="586.6" r="2.55" fill="#782620"/>
<circle cx="708.3" cy="590.2" r="2.55" fill="#782620"/>
<circle cx="720.1" cy="595.2" r="2.55" fill="#782620"/>
<circle cx="677.9" cy="595.2" r="2.55" fill="#782620"/>
<circle cx="768.5" cy="591.9" r="2.55" fill="#83251f"/>
<circle cx="765.2" cy="594.5" r="2.55" fill="#9a241e"/>
<circle cx="762.0" cy="595.9" r="2.55" fill="#83251f"/>
<circle cx="749.6" cy="600.9" r="2.55" fill="#83251f"/>
<circle cx="769.9" cy="603.1" r="2.55" fill="#782620"/>
<circle cx="727.4" cy="604.9" r="2.55" fill="#782620"/>
<circle cx="748.1" cy="606.7" r="2.55" fill="#9a241e"/>
<circle cx="748.1" cy="609.5" r="2.55" fill="#83251f"/>
<circle cx="774.5" cy="609.8" r="2.55" fill="#782620"/>
<circle cx="675.1" cy="612.4" r="2.55" fill="#782620"/>
<circle cx="702.6" cy="621.4" r="2.55" fill="#782620"/>
<circle cx="762.3" cy="618.8" r="2.55" fill="#83251f"/>
<circle cx="759.5" cy="622.4" r="2.55" fill="#83251f"/>
<circle cx="749.9" cy="639.2" r="2.55" fill="#83251f"/>
<circle cx="749.4" cy="644.2" r="2.55" fill="#83251f"/>
<circle cx="701.1" cy="642.9" r="2.55" fill="#782620"/>
<circle cx="675.1" cy="648.6" r="2.55" fill="#782620"/>
<circle cx="683.9" cy="653.5" r="2.55" fill="#782620"/>
<circle cx="767.1" cy="652.1" r="2.55" fill="#782620"/>
<circle cx="759.2" cy="659.4" r="2.55" fill="#782620"/>
<circle cx="725.9" cy="660.8" r="2.55" fill="#782620"/>
<circle cx="681.1" cy="674.4" r="2.55" fill="#782620"/>
<circle cx="689.2" cy="677.9" r="2.55" fill="#782620"/>
<circle cx="779.5" cy="680.8" r="2.55" fill="#782620"/>
<circle cx="761.8" cy="690.8" r="2.55" fill="#782620"/>
<circle cx="755.2" cy="708.3" r="2.55" fill="#782620"/>
<circle cx="740.5" cy="715.2" r="2.55" fill="#782620"/>
<circle cx="729.8" cy="716.6" r="2.55" fill="#782620"/>
<circle cx="881.1" cy="313.6" r="2.55" fill="#782620"/>
<circle cx="836.6" cy="334.7" r="2.55" fill="#782620"/>
<circle cx="844.2" cy="339.4" r="2.55" fill="#782620"/>
<circle cx="882.9" cy="336.9" r="2.55" fill="#782620"/>
<circle cx="902.9" cy="340.2" r="2.55" fill="#782620"/>
<circle cx="912.5" cy="337.3" r="2.55" fill="#782620"/>
<circle cx="813.4" cy="349.2" r="2.55" fill="#782620"/>
<circle cx="887.2" cy="353.5" r="2.55" fill="#782620"/>
<circle cx="872.4" cy="361.2" r="2.55" fill="#782620"/>
<circle cx="833.1" cy="373.4" r="2.55" fill="#782620"/>
<circle cx="911.2" cy="379.6" r="2.55" fill="#9a241e"/>
<circle cx="913.0" cy="382.4" r="2.55" fill="#9a241e"/>
<circle cx="909.7" cy="385.3" r="2.55" fill="#9a241e"/>
<circle cx="826.7" cy="387.2" r="2.55" fill="#782620"/>
<circle cx="834.1" cy="386.3" r="2.55" fill="#782620"/>
<circle cx="858.9" cy="389.3" r="2.55" fill="#782620"/>
<circle cx="899.8" cy="389.2" r="2.55" fill="#782620"/>
<circle cx="879.6" cy="392.5" r="2.55" fill="#782620"/>
<circle cx="907.9" cy="395.3" r="2.55" fill="#782620"/>
<circle cx="862.1" cy="397.9" r="2.55" fill="#83251f"/>
<circle cx="867.5" cy="399.2" r="2.55" fill="#9a241e"/>
<circle cx="866.8" cy="404.6" r="2.55" fill="#83251f"/>
<circle cx="810.1" cy="407.8" r="2.55" fill="#782620"/>
<circle cx="890.7" cy="407.8" r="2.55" fill="#782620"/>
<circle cx="824.8" cy="412.9" r="2.55" fill="#782620"/>
<circle cx="857.1" cy="410.7" r="2.55" fill="#9a241e"/>
<circle cx="861.7" cy="413.2" r="2.55" fill="#9a241e"/>
<circle cx="861.4" cy="416.4" r="2.55" fill="#b1221c"/>
<circle cx="810.5" cy="416.1" r="2.55" fill="#782620"/>
<circle cx="877.6" cy="414.7" r="2.55" fill="#782620"/>
<circle cx="869.2" cy="419.0" r="2.55" fill="#83251f"/>
<circle cx="858.2" cy="421.4" r="2.55" fill="#9a241e"/>
<circle cx="868.5" cy="420.0" r="2.55" fill="#9a241e"/>
<circle cx="888.9" cy="421.1" r="2.55" fill="#83251f"/>
<circle cx="901.8" cy="420.7" r="2.55" fill="#782620"/>
<circle cx="863.1" cy="424.7" r="2.55" fill="#9a241e"/>
<circle cx="879.3" cy="423.3" r="2.55" fill="#83251f"/>
<circle cx="881.4" cy="426.2" r="2.55" fill="#83251f"/>
<circle cx="842.4" cy="425.4" r="2.55" fill="#782620"/>
<circle cx="894.0" cy="425.7" r="2.55" fill="#9a241e"/>
<circle cx="825.5" cy="426.7" r="2.55" fill="#9a241e"/>
<circle cx="822.0" cy="428.2" r="2.55" fill="#9a241e"/>
<circle cx="810.5" cy="427.9" r="2.55" fill="#782620"/>
<circle cx="898.9" cy="428.3" r="2.55" fill="#83251f"/>
<circle cx="912.5" cy="426.7" r="2.55" fill="#782620"/>
<circle cx="852.8" cy="430.3" r="2.55" fill="#83251f"/>
<circle cx="825.8" cy="433.3" r="2.55" fill="#9a241e"/>
<circle cx="892.9" cy="433.6" r="2.55" fill="#83251f"/>
<circle cx="886.0" cy="433.9" r="2.55" fill="#9a241e"/>
<circle cx="871.4" cy="435.0" r="2.55" fill="#9a241e"/>
<circle cx="876.4" cy="436.5" r="2.55" fill="#c8211b"/>
<circle cx="883.6" cy="436.5" r="2.55" fill="#c8211b"/>
<circle cx="851.3" cy="436.5" r="2.55" fill="#83251f"/>
<circle cx="832.7" cy="438.2" r="2.55" fill="#782620"/>
<circle cx="900.5" cy="437.9" r="2.55" fill="#83251f"/>
<circle cx="880.7" cy="439.3" r="2.55" fill="#c8211b"/>
<circle cx="814.5" cy="441.1" r="2.55" fill="#83251f"/>
<circle cx="842.3" cy="440.5" r="2.55" fill="#782620"/>
<circle cx="861.8" cy="441.2" r="2.55" fill="#782620"/>
<circle cx="873.3" cy="441.5" r="2.55" fill="#c8211b"/>
<circle cx="877.1" cy="443.6" r="2.55" fill="#c8211b"/>
<circle cx="883.6" cy="442.9" r="2.55" fill="#c8211b"/>
<circle cx="903.6" cy="442.9" r="2.55" fill="#9a241e"/>
<circle cx="902.9" cy="446.5" r="2.55" fill="#83251f"/>
<circle cx="885.0" cy="446.5" r="2.55" fill="#9a241e"/>
<circle cx="851.0" cy="446.2" r="2.55" fill="#9a241e"/>
<circle cx="814.8" cy="447.2" r="2.55" fill="#83251f"/>
<circle cx="871.8" cy="447.9" r="2.55" fill="#b1221c"/>
<circle cx="830.6" cy="449.4" r="2.55" fill="#9a241e"/>
<circle cx="846.3" cy="449.4" r="2.55" fill="#b1221c"/>
<circle cx="910.5" cy="448.7" r="2.55" fill="#83251f"/>
<circle cx="864.5" cy="450.4" r="2.55" fill="#9a241e"/>
<circle cx="872.8" cy="451.5" r="2.55" fill="#9a241e"/>
<circle cx="885.4" cy="450.1" r="2.55" fill="#b1221c"/>
<circle cx="912.2" cy="451.2" r="2.55" fill="#9a241e"/>
<circle cx="860.2" cy="452.2" r="2.55" fill="#9a241e"/>
<circle cx="831.3" cy="452.2" r="2.55" fill="#9a241e"/>
<circle cx="847.8" cy="452.2" r="2.55" fill="#c8211b"/>
<circle cx="896.5" cy="452.7" r="2.55" fill="#782620"/>
<circle cx="823.0" cy="454.8" r="2.55" fill="#782620"/>
<circle cx="839.2" cy="455.4" r="2.55" fill="#83251f"/>
<circle cx="844.2" cy="455.1" r="2.55" fill="#c8211b"/>
<circle cx="852.1" cy="455.5" r="2.55" fill="#9a241e"/>
<circle cx="860.2" cy="455.8" r="2.55" fill="#9a241e"/>
<circle cx="831.3" cy="455.8" r="2.55" fill="#b1221c"/>
<circle cx="849.2" cy="457.3" r="2.55" fill="#c8211b"/>
<circle cx="875.7" cy="457.5" r="2.55" fill="#b1221c"/>
<circle cx="882.1" cy="458.0" r="2.55" fill="#c8211b"/>
<circle cx="886.0" cy="456.5" r="2.55" fill="#b1221c"/>
<circle cx="909.4" cy="458.0" r="2.55" fill="#b1221c"/>
<circle cx="810.9" cy="459.4" r="2.55" fill="#83251f"/>
<circle cx="845.6" cy="459.4" r="2.55" fill="#c8211b"/>
<circle cx="887.9" cy="460.1" r="2.55" fill="#9a241e"/>
<circle cx="869.2" cy="461.6" r="2.55" fill="#782620"/>
<circle cx="878.6" cy="461.6" r="2.55" fill="#c8211b"/>
<circle cx="900.1" cy="461.3" r="2.55" fill="#9a241e"/>
<circle cx="902.9" cy="461.6" r="2.55" fill="#c8211b"/>
<circle cx="909.1" cy="462.3" r="2.55" fill="#b1221c"/>
<circle cx="820.8" cy="462.6" r="2.55" fill="#9a241e"/>
<circle cx="829.6" cy="462.6" r="2.55" fill="#b1221c"/>
<circle cx="842.0" cy="462.6" r="2.55" fill="#b1221c"/>
<circle cx="814.1" cy="465.9" r="2.55" fill="#c8211b"/>
<circle cx="830.6" cy="465.9" r="2.55" fill="#c8211b"/>
<circle cx="839.2" cy="465.9" r="2.55" fill="#b1221c"/>
<circle cx="844.2" cy="465.6" r="2.55" fill="#c8211b"/>
<circle cx="875.7" cy="465.9" r="2.55" fill="#c8211b"/>
<circle cx="880.7" cy="466.3" r="2.55" fill="#9a241e"/>
<circle cx="893.6" cy="465.9" r="2.55" fill="#b1221c"/>
<circle cx="900.8" cy="467.0" r="2.55" fill="#b1221c"/>
<circle cx="911.9" cy="466.6" r="2.55" fill="#83251f"/>
<circle cx="809.1" cy="469.4" r="2.55" fill="#b1221c"/>
<circle cx="816.2" cy="468.7" r="2.55" fill="#c8211b"/>
<circle cx="819.8" cy="470.2" r="2.55" fill="#c8211b"/>
<circle cx="824.1" cy="468.7" r="2.55" fill="#c8211b"/>
<circle cx="827.0" cy="470.9" r="2.55" fill="#c8211b"/>
<circle cx="831.3" cy="469.4" r="2.55" fill="#c8211b"/>
<circle cx="855.6" cy="468.4" r="2.55" fill="#9a241e"/>
<circle cx="861.4" cy="468.0" r="2.55" fill="#b1221c"/>
<circle cx="869.2" cy="469.4" r="2.55" fill="#b1221c"/>
<circle cx="871.4" cy="470.9" r="2.55" fill="#b1221c"/>
<circle cx="848.0" cy="470.9" r="2.55" fill="#c8211b"/>
<circle cx="892.9" cy="470.2" r="2.55" fill="#b1221c"/>
<circle cx="894.3" cy="473.0" r="2.55" fill="#b1221c"/>
<circle cx="891.5" cy="473.3" r="2.55" fill="#b1221c"/>
<circle cx="836.3" cy="472.3" r="2.55" fill="#c8211b"/>
<circle cx="842.7" cy="473.7" r="2.55" fill="#c8211b"/>
<circle cx="848.5" cy="474.5" r="2.55" fill="#c8211b"/>
<circle cx="859.2" cy="473.0" r="2.55" fill="#c8211b"/>
<circle cx="863.5" cy="473.7" r="2.55" fill="#c8211b"/>
<circle cx="876.4" cy="473.0" r="2.55" fill="#c8211b"/>
<circle cx="882.1" cy="474.9" r="2.55" fill="#b1221c"/>
<circle cx="810.5" cy="475.2" r="2.55" fill="#b1221c"/>
<circle cx="819.1" cy="473.7" r="2.55" fill="#c8211b"/>
<circle cx="823.4" cy="474.5" r="2.55" fill="#c8211b"/>
<circle cx="827.7" cy="475.2" r="2.55" fill="#c8211b"/>
<circle cx="811.9" cy="478.0" r="2.55" fill="#b1221c"/>
<circle cx="808.3" cy="480.2" r="2.55" fill="#c8211b"/>
<circle cx="829.1" cy="477.3" r="2.55" fill="#c8211b"/>
<circle cx="834.1" cy="480.2" r="2.55" fill="#c8211b"/>
<circle cx="839.2" cy="478.0" r="2.55" fill="#c8211b"/>
<circle cx="851.3" cy="476.6" r="2.55" fill="#b1221c"/>
<circle cx="859.2" cy="476.6" r="2.55" fill="#b1221c"/>
<circle cx="864.2" cy="477.3" r="2.55" fill="#c8211b"/>
<circle cx="867.1" cy="478.8" r="2.55" fill="#c8211b"/>
<circle cx="872.8" cy="478.8" r="2.55" fill="#c8211b"/>
<circle cx="876.4" cy="477.3" r="2.55" fill="#c8211b"/>
<circle cx="885.7" cy="478.0" r="2.55" fill="#b1221c"/>
<circle cx="903.6" cy="475.9" r="2.55" fill="#9a241e"/>
<circle cx="905.8" cy="478.8" r="2.55" fill="#c8211b"/>
<circle cx="902.9" cy="480.2" r="2.55" fill="#c8211b"/>
<circle cx="890.7" cy="482.3" r="2.55" fill="#c8211b"/>
<circle cx="895.8" cy="480.9" r="2.55" fill="#b1221c"/>
<circle cx="911.1" cy="481.9" r="2.55" fill="#9a241e"/>
<circle cx="820.5" cy="481.6" r="2.55" fill="#c8211b"/>
<circle cx="811.2" cy="483.1" r="2.55" fill="#c8211b"/>
<circle cx="867.8" cy="481.6" r="2.55" fill="#c8211b"/>
<circle cx="875.7" cy="483.1" r="2.55" fill="#c8211b"/>
<circle cx="837.0" cy="484.5" r="2.55" fill="#c8211b"/>
<circle cx="812.6" cy="485.9" r="2.55" fill="#c8211b"/>
<circle cx="819.8" cy="485.9" r="2.55" fill="#c8211b"/>
<circle cx="837.7" cy="486.2" r="2.55" fill="#c8211b"/>
<circle cx="845.6" cy="485.2" r="2.55" fill="#c8211b"/>
<circle cx="858.8" cy="484.2" r="2.55" fill="#b1221c"/>
<circle cx="864.2" cy="485.9" r="2.55" fill="#c8211b"/>
<circle cx="860.6" cy="487.3" r="2.55" fill="#c8211b"/>
<circle cx="884.3" cy="486.2" r="2.55" fill="#c8211b"/>
<circle cx="887.9" cy="487.3" r="2.55" fill="#c8211b"/>
<circle cx="907.2" cy="484.1" r="2.55" fill="#c8211b"/>
<circle cx="901.8" cy="487.1" r="2.55" fill="#111"/>
<circle cx="875.7" cy="487.3" r="2.55" fill="#c8211b"/>
<circle cx="826.3" cy="487.3" r="2.55" fill="#c8211b"/>
<circle cx="809.8" cy="487.3" r="2.55" fill="#c8211b"/>
<circle cx="850.6" cy="488.5" r="2.55" fill="#b1221c"/>
<circle cx="897.2" cy="488.1" r="2.55" fill="#c8211b"/>
<circle cx="812.6" cy="537.9" r="2.55" fill="#c8211b"/>
<circle cx="816.2" cy="537.9" r="2.55" fill="#c8211b"/>
<circle cx="823.4" cy="534.3" r="2.55" fill="#c8211b"/>
<circle cx="832.0" cy="538.6" r="2.55" fill="#c8211b"/>
<circle cx="839.2" cy="535.7" r="2.55" fill="#c8211b"/>
<circle cx="842.0" cy="540.7" r="2.55" fill="#b1221c"/>
<circle cx="854.9" cy="540.0" r="2.55" fill="#c8211b"/>
<circle cx="857.8" cy="537.2" r="2.55" fill="#c8211b"/>
<circle cx="862.8" cy="542.2" r="2.55" fill="#9a241e"/>
<circle cx="866.4" cy="541.5" r="2.55" fill="#9a241e"/>
<circle cx="872.1" cy="539.3" r="2.55" fill="#b1221c"/>
<circle cx="875.0" cy="535.7" r="2.55" fill="#83251f"/>
<circle cx="883.6" cy="535.7" r="2.55" fill="#83251f"/>
<circle cx="887.2" cy="535.7" r="2.55" fill="#9a241e"/>
<circle cx="895.8" cy="537.9" r="2.55" fill="#c8211b"/>
<circle cx="900.1" cy="540.3" r="2.55" fill="#c8211b"/>
<circle cx="908.7" cy="539.3" r="2.55" fill="#b1221c"/>
<circle cx="906.5" cy="535.0" r="2.55" fill="#9a241e"/>
<circle cx="814.8" cy="546.0" r="2.55" fill="#782620"/>
<circle cx="833.9" cy="548.3" r="2.55" fill="#782620"/>
<circle cx="849.9" cy="547.9" r="2.55" fill="#b1221c"/>
<circle cx="854.9" cy="546.5" r="2.55" fill="#b1221c"/>
<circle cx="854.9" cy="549.3" r="2.55" fill="#b1221c"/>
<circle cx="874.0" cy="544.0" r="2.55" fill="#83251f"/>
<circle cx="890.7" cy="543.6" r="2.55" fill="#9a241e"/>
<circle cx="895.8" cy="544.3" r="2.55" fill="#c8211b"/>
<circle cx="890.0" cy="547.9" r="2.55" fill="#9a241e"/>
<circle cx="905.8" cy="545.0" r="2.55" fill="#c8211b"/>
<circle cx="902.9" cy="547.9" r="2.55" fill="#9a241e"/>
<circle cx="907.2" cy="547.9" r="2.55" fill="#b1221c"/>
<circle cx="877.4" cy="550.8" r="2.55" fill="#9a241e"/>
<circle cx="913.0" cy="551.9" r="2.55" fill="#83251f"/>
<circle cx="896.8" cy="552.2" r="2.55" fill="#782620"/>
<circle cx="849.5" cy="552.2" r="2.55" fill="#b1221c"/>
<circle cx="869.2" cy="552.6" r="2.55" fill="#83251f"/>
<circle cx="872.1" cy="554.4" r="2.55" fill="#b1221c"/>
<circle cx="884.3" cy="553.4" r="2.55" fill="#9a241e"/>
<circle cx="818.1" cy="555.8" r="2.55" fill="#83251f"/>
<circle cx="842.0" cy="555.8" r="2.55" fill="#9a241e"/>
<circle cx="859.2" cy="555.5" r="2.55" fill="#83251f"/>
<circle cx="861.4" cy="555.5" r="2.55" fill="#83251f"/>
<circle cx="832.0" cy="557.2" r="2.55" fill="#9a241e"/>
<circle cx="835.6" cy="558.4" r="2.55" fill="#b1221c"/>
<circle cx="832.0" cy="560.1" r="2.55" fill="#9a241e"/>
<circle cx="848.2" cy="558.9" r="2.55" fill="#9a241e"/>
<circle cx="882.4" cy="559.8" r="2.55" fill="#83251f"/>
<circle cx="817.7" cy="562.0" r="2.55" fill="#b1221c"/>
<circle cx="869.7" cy="561.2" r="2.55" fill="#b1221c"/>
<circle cx="866.4" cy="565.5" r="2.55" fill="#9a241e"/>
<circle cx="906.8" cy="562.7" r="2.55" fill="#9a241e"/>
<circle cx="903.6" cy="565.1" r="2.55" fill="#9a241e"/>
<circle cx="823.4" cy="566.3" r="2.55" fill="#9a241e"/>
<circle cx="820.5" cy="568.7" r="2.55" fill="#9a241e"/>
<circle cx="839.2" cy="568.4" r="2.55" fill="#782620"/>
<circle cx="872.1" cy="568.0" r="2.55" fill="#9a241e"/>
<circle cx="879.6" cy="567.0" r="2.55" fill="#83251f"/>
<circle cx="883.9" cy="569.0" r="2.55" fill="#83251f"/>
<circle cx="909.4" cy="567.5" r="2.55" fill="#9a241e"/>
<circle cx="847.0" cy="573.4" r="2.55" fill="#83251f"/>
<circle cx="848.5" cy="576.6" r="2.55" fill="#9a241e"/>
<circle cx="854.9" cy="573.7" r="2.55" fill="#9a241e"/>
<circle cx="859.5" cy="576.1" r="2.55" fill="#83251f"/>
<circle cx="807.2" cy="576.3" r="2.55" fill="#9a241e"/>
<circle cx="812.6" cy="575.1" r="2.55" fill="#9a241e"/>
<circle cx="812.6" cy="578.7" r="2.55" fill="#b1221c"/>
<circle cx="886.9" cy="576.9" r="2.55" fill="#782620"/>
<circle cx="896.8" cy="574.7" r="2.55" fill="#782620"/>
<circle cx="905.5" cy="574.1" r="2.55" fill="#782620"/>
<circle cx="811.2" cy="584.2" r="2.55" fill="#83251f"/>
<circle cx="827.7" cy="583.7" r="2.55" fill="#782620"/>
<circle cx="858.8" cy="584.0" r="2.55" fill="#782620"/>
<circle cx="874.7" cy="581.9" r="2.55" fill="#83251f"/>
<circle cx="879.6" cy="581.6" r="2.55" fill="#83251f"/>
<circle cx="891.9" cy="583.4" r="2.55" fill="#782620"/>
<circle cx="838.2" cy="587.6" r="2.55" fill="#782620"/>
<circle cx="865.9" cy="589.0" r="2.55" fill="#782620"/>
<circle cx="808.6" cy="591.9" r="2.55" fill="#782620"/>
<circle cx="820.1" cy="598.8" r="2.55" fill="#782620"/>
<circle cx="892.9" cy="595.9" r="2.55" fill="#9a241e"/>
<circle cx="889.3" cy="598.8" r="2.55" fill="#9a241e"/>
<circle cx="893.2" cy="600.6" r="2.55" fill="#9a241e"/>
<circle cx="881.9" cy="602.1" r="2.55" fill="#9a241e"/>
<circle cx="881.9" cy="604.9" r="2.55" fill="#9a241e"/>
<circle cx="867.5" cy="603.8" r="2.55" fill="#782620"/>
<circle cx="881.1" cy="608.5" r="2.55" fill="#9a241e"/>
<circle cx="819.1" cy="608.8" r="2.55" fill="#83251f"/>
<circle cx="828.8" cy="610.2" r="2.55" fill="#782620"/>
<circle cx="842.0" cy="613.1" r="2.55" fill="#782620"/>
<circle cx="822.0" cy="614.8" r="2.55" fill="#83251f"/>
<circle cx="820.8" cy="622.4" r="2.55" fill="#782620"/>
<circle cx="813.1" cy="627.7" r="2.55" fill="#782620"/>
<circle cx="879.3" cy="627.0" r="2.55" fill="#83251f"/>
<circle cx="882.9" cy="627.2" r="2.55" fill="#83251f"/>
<circle cx="909.7" cy="625.6" r="2.55" fill="#782620"/>
<circle cx="853.1" cy="660.7" r="2.55" fill="#782620"/>
<circle cx="863.9" cy="663.6" r="2.55" fill="#83251f"/>
<circle cx="867.8" cy="668.2" r="2.55" fill="#83251f"/>
<circle cx="826.5" cy="667.5" r="2.55" fill="#782620"/>
<circle cx="813.1" cy="670.1" r="2.55" fill="#782620"/>
<circle cx="858.1" cy="680.5" r="2.55" fill="#782620"/>
<circle cx="901.1" cy="689.1" r="2.55" fill="#83251f"/>
<circle cx="900.8" cy="695.9" r="2.55" fill="#83251f"/>
<circle cx="874.5" cy="731.4" r="2.55" fill="#782620"/>
<circle cx="860.6" cy="750.3" r="2.55" fill="#782620"/>
<circle cx="846.7" cy="755.0" r="2.55" fill="#782620"/>
<circle cx="820.5" cy="762.2" r="2.55" fill="#782620"/>
<circle cx="884.3" cy="760.3" r="2.55" fill="#782620"/>
<circle cx="904.6" cy="754.6" r="2.55" fill="#782620"/>
</g>
<g stroke="#222" stroke-width="0.8">
<rect x="129" y="489.2" width="133" height="44.8" fill="#E64B35"/>
<rect x="262" y="489.2" width="133" height="44.8" fill="#4DBBD5"/>
<rect x="395" y="489.2" width="133" height="44.8" fill="#00A087"/>
<rect x="528" y="489.2" width="133" height="44.8" fill="#3C5488"/>
<rect x="661" y="489.2" width="133" height="44.8" fill="#F39B7F"/>
<rect x="794" y="489.2" width="133" height="44.8" fill="#8491B4"/>
</g>
<g fill="#fff" fill-opacity="0.93">
<text transform="translate(195.5,523.8) scale(1,1.05)" font-size="34" text-anchor="middle" >0</text>
<text transform="translate(328.5,523.8) scale(1,1.05)" font-size="34" text-anchor="middle" >1</text>
<text transform="translate(461.5,523.8) scale(1,1.05)" font-size="34" text-anchor="middle" >2</text>
<text transform="translate(594.5,523.8) scale(1,1.05)" font-size="34" text-anchor="middle" >3</text>
<text transform="translate(727.5,523.8) scale(1,1.05)" font-size="34" text-anchor="middle" >4</text>
<text transform="translate(860.5,523.8) scale(1,1.05)" font-size="34" text-anchor="middle" >5</text>
</g>
<g fill="#cb1c1f">
<circle cx="853" cy="183" r="5.8"/>
<circle cx="869" cy="260" r="5.8"/>
<circle cx="567.1" cy="321.1" r="5.8"/>
<circle cx="625.7" cy="350.9" r="5.8"/>
<circle cx="477.1" cy="352.7" r="5.8"/>
<circle cx="509.6" cy="365.9" r="5.8"/>
<circle cx="449.9" cy="396.4" r="5.8"/>
<circle cx="569.6" cy="653.6" r="5.8"/>
<circle cx="576" cy="656.9" r="5.8"/>
<circle cx="417" cy="673" r="5.8"/>
<circle cx="441" cy="710" r="5.8"/>
<circle cx="211.1" cy="707.3" r="5.8"/>
<circle cx="358.6" cy="708.4" r="5.8"/>
<circle cx="329.9" cy="717.6" r="5.8"/>
<circle cx="218.9" cy="740.4" r="5.8"/>
<circle cx="337.2" cy="744.1" r="5.8"/>
<circle cx="161.6" cy="750.8" r="5.8"/>
<circle cx="328.9" cy="754.1" r="5.8"/>
<circle cx="301.4" cy="762.2" r="5.8"/>
<circle cx="621.2" cy="739.2" r="5.8"/>
<circle cx="730.1" cy="735.3" r="5.8"/>
<circle cx="681.1" cy="759.3" r="5.8"/>
<circle cx="733.5" cy="769.7" r="5.8"/>
<circle cx="678.2" cy="797.1" r="5.8"/>
<circle cx="720.6" cy="822.3" r="5.8"/>
<circle cx="867.7" cy="766.6" r="5.8"/>
<circle cx="897.3" cy="824.7" r="5.8"/>
<circle cx="855.7" cy="863.3" r="5.8"/>
<circle cx="189.4" cy="850.5" r="5.8"/>
<circle cx="204.2" cy="858.8" r="5.8"/>
</g>
<line x1="300" y1="719.4" x2="325" y2="717.8" stroke="#111" stroke-width="2"/>
<g fill="#111" stroke="#111" stroke-width="0.25">
<text transform="translate(880.6,172.5) scale(1,1.05)" font-size="22.5" text-anchor="middle" >COL10A1</text>
<text transform="translate(880.6,250.0) scale(1,1.05)" font-size="22.5" text-anchor="middle" >COL11A1</text>
<text transform="translate(573.3,311.7) scale(1,1.05)" font-size="22.5" text-anchor="middle" >BIRC5</text>
<text transform="translate(440.5,345.0) scale(1,1.05)" font-size="22.5" text-anchor="middle" >AURKA</text>
<text transform="translate(573.3,377.5) scale(1,1.05)" font-size="22.5" text-anchor="middle" >BGN</text>
<text transform="translate(412.5,389.7) scale(1,1.05)" font-size="22.5" text-anchor="middle" >AURKB</text>
<text transform="translate(483.0,423.1) scale(1,1.05)" font-size="22.5" text-anchor="middle" >B4GALNT4</text>
<text transform="translate(616.1,644.5) scale(1,1.05)" font-size="22.5" text-anchor="middle" >C7</text>
<text transform="translate(481.6,663.5) scale(1,1.05)" font-size="22.5" text-anchor="middle" >BBOX1</text>
<text transform="translate(582.8,683.6) scale(1,1.05)" font-size="22.5" text-anchor="middle" >C16orf89</text>
<text transform="translate(173.3,697.3) scale(1,1.05)" font-size="22.5" text-anchor="middle" >ACACB</text>
<text transform="translate(349.0,697.8) scale(1,1.05)" font-size="22.5" text-anchor="middle" >ANXA1</text>
<text transform="translate(147.1,732.8) scale(1,1.05)" font-size="22.5" text-anchor="middle" >ACKR1</text>
<text transform="translate(253.0,727.9) scale(1,1.05)" font-size="22.5" text-anchor="middle" >AKR1C2</text>
<text transform="translate(705.4,725.8) scale(1,1.05)" font-size="22.5" text-anchor="middle" >CCL21</text>
<text transform="translate(455.5,736.1) scale(1,1.05)" font-size="22.5" text-anchor="middle" >ATP1A2</text>
<text transform="translate(369.0,741.8) scale(1,1.05)" font-size="22.5" text-anchor="middle" >AQP7</text>
<text transform="translate(286.0,760.1) scale(1,1.05)" font-size="22.5" text-anchor="middle" >APOD</text>
<text transform="translate(764.9,760.7) scale(1,1.05)" font-size="22.5" text-anchor="middle" >CAV1</text>
<text transform="translate(565.0,766.0) scale(1,1.05)" font-size="22.5" text-anchor="middle" >BTNL9</text>
<text transform="translate(174.0,778.4) scale(1,1.05)" font-size="22.5" text-anchor="middle" >ACTG2</text>
<text transform="translate(349.6,791.5) scale(1,1.05)" font-size="22.5" text-anchor="middle" >AOC3</text>
<text transform="translate(666.5,790.1) scale(1,1.05)" font-size="22.5" text-anchor="middle" >CD300LG</text>
<text transform="translate(839.2,792.7) scale(1,1.05)" font-size="22.5" text-anchor="middle" >CFD</text>
<text transform="translate(778.2,824.5) scale(1,1.05)" font-size="22.5" text-anchor="middle" >CAVIN2</text>
<text transform="translate(174.0,841.1) scale(1,1.05)" font-size="22.5" text-anchor="middle" >ADH1B</text>
<text transform="translate(693.5,852.7) scale(1,1.05)" font-size="22.5" text-anchor="middle" >CD36</text>
<text transform="translate(880.5,851.9) scale(1,1.05)" font-size="22.5" text-anchor="middle" >CHRDL1</text>
<text transform="translate(216.7,885.6) scale(1,1.05)" font-size="22.5" text-anchor="middle" >ADIPOQ</text>
<text transform="translate(838.8,889.8) scale(1,1.05)" font-size="22.5" text-anchor="middle" >CIDEC</text>
</g>
<rect x="86.6" y="149.2" width="5.6" height="748.6" fill="#000"/>
<g fill="#4d4d4d">
<text transform="translate(78.8,331.1) scale(1,1.05)" font-size="18.2" text-anchor="end" >2.5</text>
<text transform="translate(78.8,518.5) scale(1,1.05)" font-size="18.2" text-anchor="end" >0.0</text>
<text transform="translate(78.8,705.7) scale(1,1.05)" font-size="18.2" text-anchor="end" >−2.5</text>
<text transform="translate(78.8,892.6) scale(1,1.05)" font-size="18.2" text-anchor="end" >−5.0</text>
</g>
<g fill="#000" font-weight="bold" stroke="#000" stroke-width="0.35">
<text transform="translate(31.0,616.8) rotate(-90) scale(1,1.035)" font-size="26.8" text-anchor="start" textLength="106" lengthAdjust="spacingAndGlyphs">average</text>
<text transform="translate(31.0,505.8) rotate(-90) scale(1,1.035)" font-size="26.8" text-anchor="start" textLength="74.6" lengthAdjust="spacingAndGlyphs">logFC</text>
<text transform="translate(528.8,929.0) scale(1,1.05)" font-size="26.9" text-anchor="middle" >Cluster</text>
</g>
<circle cx="669.8" cy="60.5" r="6.1" fill="#cb1c1f"/><circle cx="669.8" cy="95.9" r="6.1" fill="#000"/>
<g fill="#111" stroke="#111" stroke-width="0.3">
<text transform="translate(699.0,71.8) scale(1,1.05)" font-size="31.0" text-anchor="start" >adjust P−val&lt;0.01</text>
<text transform="translate(699.0,107.5) scale(1,1.05)" font-size="31.0" text-anchor="start" >adjust P−val&gt;=0.01</text>
</g>
</svg></body></html>
